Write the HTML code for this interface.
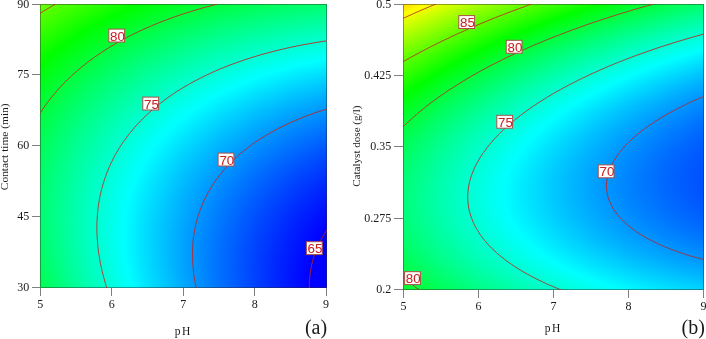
<!DOCTYPE html>
<html><head><meta charset="utf-8"><style>
html,body{margin:0;padding:0;background:#fff;}
body{width:706px;height:339px;position:relative;overflow:hidden;}
.fld{position:absolute;display:flex;flex-direction:column;}
.fld i{display:block;height:1px;width:100%;flex:none;}
.frm{position:absolute;box-sizing:border-box;border:1px solid rgba(40,40,40,0.45);}
svg{position:absolute;left:0;top:0;will-change:transform;}
</style></head><body>
<div class="fld" style="left:40px;top:4px;width:287px;height:284px">
<i style="background:linear-gradient(90deg,#6cff00 0.0px,#41ff00 35.9px,#1bff00 71.8px,#00ff00 99.4px,#00ff07 107.6px,#00ff25 143.5px,#00ff3e 179.4px,#00ff53 215.2px,#00ff63 251.1px,#00ff6f 287.0px)"></i>
<i style="background:linear-gradient(90deg,#6aff00 0.0px,#3fff00 35.9px,#18ff00 71.8px,#00ff00 96.8px,#00ff0a 107.6px,#00ff28 143.5px,#00ff41 179.4px,#00ff56 215.2px,#00ff66 251.1px,#00ff72 287.0px)"></i>
<i style="background:linear-gradient(90deg,#68ff00 0.0px,#3dff00 35.9px,#16ff00 71.8px,#00ff00 94.3px,#00ff0c 107.6px,#00ff2a 143.5px,#00ff43 179.4px,#00ff58 215.2px,#00ff69 251.1px,#00ff75 287.0px)"></i>
<i style="background:linear-gradient(90deg,#66ff00 0.0px,#3bff00 35.9px,#14ff00 71.8px,#00ff00 91.9px,#00ff0f 107.6px,#00ff2d 143.5px,#00ff46 179.4px,#00ff5b 215.2px,#00ff6c 251.1px,#00ff78 287.0px)"></i>
<i style="background:linear-gradient(90deg,#64ff00 0.0px,#39ff00 35.9px,#12ff00 71.8px,#00ff00 89.4px,#00ff11 107.6px,#00ff2f 143.5px,#00ff49 179.4px,#00ff5e 215.2px,#00ff6e 251.1px,#00ff7a 287.0px)"></i>
<i style="background:linear-gradient(90deg,#62ff00 0.0px,#36ff00 35.9px,#0fff00 71.8px,#00ff00 87.1px,#00ff13 107.6px,#00ff31 143.5px,#00ff4b 179.4px,#00ff60 215.2px,#00ff71 251.1px,#00ff7d 287.0px)"></i>
<i style="background:linear-gradient(90deg,#60ff00 0.0px,#34ff00 35.9px,#0dff00 71.8px,#00ff00 84.7px,#00ff16 107.6px,#00ff34 143.5px,#00ff4e 179.4px,#00ff63 215.2px,#00ff74 251.1px,#00ff80 287.0px)"></i>
<i style="background:linear-gradient(90deg,#5eff00 0.0px,#32ff00 35.9px,#0bff00 71.8px,#00ff00 82.5px,#00ff18 107.6px,#00ff36 143.5px,#00ff50 179.4px,#00ff66 215.2px,#00ff77 251.1px,#00ff83 287.0px)"></i>
<i style="background:linear-gradient(90deg,#5cff00 0.0px,#30ff00 35.9px,#09ff00 71.8px,#00ff00 80.2px,#00ff1a 107.6px,#00ff39 143.5px,#00ff53 179.4px,#00ff68 215.2px,#00ff79 251.1px,#00ff86 287.0px)"></i>
<i style="background:linear-gradient(90deg,#5aff00 0.0px,#2eff00 35.9px,#06ff00 71.8px,#00ff00 78.0px,#00ff1d 107.6px,#00ff3b 143.5px,#00ff55 179.4px,#00ff6b 215.2px,#00ff7c 251.1px,#00ff89 287.0px)"></i>
<i style="background:linear-gradient(90deg,#58ff00 0.0px,#2cff00 35.9px,#04ff00 71.8px,#00ff00 75.8px,#00ff1f 107.6px,#00ff3e 143.5px,#00ff58 179.4px,#00ff6e 215.2px,#00ff7f 251.1px,#00ff8c 287.0px)"></i>
<i style="background:linear-gradient(90deg,#56ff00 0.0px,#2aff00 35.9px,#02ff00 71.8px,#00ff00 73.7px,#00ff21 107.6px,#00ff40 143.5px,#00ff5a 179.4px,#00ff70 215.2px,#00ff81 251.1px,#00ff8e 287.0px)"></i>
<i style="background:linear-gradient(90deg,#54ff00 0.0px,#28ff00 35.9px,#00ff00 71.6px,#00ff00 71.8px,#00ff24 107.6px,#00ff42 143.5px,#00ff5d 179.4px,#00ff73 215.2px,#00ff84 251.1px,#00ff91 287.0px)"></i>
<i style="background:linear-gradient(90deg,#52ff00 0.0px,#26ff00 35.9px,#00ff00 69.5px,#00ff02 71.8px,#00ff26 107.6px,#00ff45 143.5px,#00ff5f 179.4px,#00ff75 215.2px,#00ff87 251.1px,#00ff94 287.0px)"></i>
<i style="background:linear-gradient(90deg,#50ff00 0.0px,#24ff00 35.9px,#00ff00 67.5px,#00ff05 71.8px,#00ff28 107.6px,#00ff47 143.5px,#00ff62 179.4px,#00ff78 215.2px,#00ff8a 251.1px,#00ff97 287.0px)"></i>
<i style="background:linear-gradient(90deg,#4eff00 0.0px,#22ff00 35.9px,#00ff00 65.5px,#00ff07 71.8px,#00ff2a 107.6px,#00ff4a 143.5px,#00ff64 179.4px,#00ff7a 215.2px,#00ff8c 251.1px,#00ff99 287.0px)"></i>
<i style="background:linear-gradient(90deg,#4cff00 0.0px,#1fff00 35.9px,#00ff00 63.6px,#00ff09 71.8px,#00ff2d 107.6px,#00ff4c 143.5px,#00ff67 179.4px,#00ff7d 215.2px,#00ff8f 251.1px,#00ff9c 287.0px)"></i>
<i style="background:linear-gradient(90deg,#4aff00 0.0px,#1dff00 35.9px,#00ff00 61.6px,#00ff0b 71.8px,#00ff2f 107.6px,#00ff4e 143.5px,#00ff69 179.4px,#00ff80 215.2px,#00ff91 251.1px,#00ff9f 287.0px)"></i>
<i style="background:linear-gradient(90deg,#48ff00 0.0px,#1bff00 35.9px,#00ff00 59.7px,#00ff0d 71.8px,#00ff31 107.6px,#00ff51 143.5px,#00ff6c 179.4px,#00ff82 215.2px,#00ff94 251.1px,#00ffa2 287.0px)"></i>
<i style="background:linear-gradient(90deg,#46ff00 0.0px,#19ff00 35.9px,#00ff00 57.9px,#00ff0f 71.8px,#00ff33 107.6px,#00ff53 143.5px,#00ff6e 179.4px,#00ff85 215.2px,#00ff97 251.1px,#00ffa4 287.0px)"></i>
<i style="background:linear-gradient(90deg,#45ff00 0.0px,#17ff00 35.9px,#00ff00 56.0px,#00ff11 71.8px,#00ff35 107.6px,#00ff55 143.5px,#00ff70 179.4px,#00ff87 215.2px,#00ff99 251.1px,#00ffa7 287.0px)"></i>
<i style="background:linear-gradient(90deg,#43ff00 0.0px,#15ff00 35.9px,#00ff00 54.2px,#00ff13 71.8px,#00ff38 107.6px,#00ff57 143.5px,#00ff73 179.4px,#00ff8a 215.2px,#00ff9c 251.1px,#00ffaa 287.0px)"></i>
<i style="background:linear-gradient(90deg,#41ff00 0.0px,#13ff00 35.9px,#00ff00 52.4px,#00ff15 71.8px,#00ff3a 107.6px,#00ff5a 143.5px,#00ff75 179.4px,#00ff8c 215.2px,#00ff9f 251.1px,#00ffad 287.0px)"></i>
<i style="background:linear-gradient(90deg,#3fff00 0.0px,#11ff00 35.9px,#00ff00 50.7px,#00ff18 71.8px,#00ff3c 107.6px,#00ff5c 143.5px,#00ff78 179.4px,#00ff8f 215.2px,#00ffa1 251.1px,#00ffaf 287.0px)"></i>
<i style="background:linear-gradient(90deg,#3dff00 0.0px,#0fff00 35.9px,#00ff00 48.9px,#00ff1a 71.8px,#00ff3e 107.6px,#00ff5e 143.5px,#00ff7a 179.4px,#00ff91 215.2px,#00ffa4 251.1px,#00ffb2 287.0px)"></i>
<i style="background:linear-gradient(90deg,#3bff00 0.0px,#0eff00 35.9px,#00ff00 47.2px,#00ff1c 71.8px,#00ff40 107.6px,#00ff61 143.5px,#00ff7c 179.4px,#00ff94 215.2px,#00ffa6 251.1px,#00ffb5 287.0px)"></i>
<i style="background:linear-gradient(90deg,#39ff00 0.0px,#0cff00 35.9px,#00ff00 45.6px,#00ff1e 71.8px,#00ff42 107.6px,#00ff63 143.5px,#00ff7f 179.4px,#00ff96 215.2px,#00ffa9 251.1px,#00ffb7 287.0px)"></i>
<i style="background:linear-gradient(90deg,#38ff00 0.0px,#0aff00 35.9px,#00ff00 43.9px,#00ff20 71.8px,#00ff45 107.6px,#00ff65 143.5px,#00ff81 179.4px,#00ff98 215.2px,#00ffab 251.1px,#00ffba 287.0px)"></i>
<i style="background:linear-gradient(90deg,#36ff00 0.0px,#08ff00 35.9px,#00ff00 42.3px,#00ff22 71.8px,#00ff47 107.6px,#00ff67 143.5px,#00ff83 179.4px,#00ff9b 215.2px,#00ffae 251.1px,#00ffbc 287.0px)"></i>
<i style="background:linear-gradient(90deg,#34ff00 0.0px,#06ff00 35.9px,#00ff00 40.7px,#00ff24 71.8px,#00ff49 107.6px,#00ff69 143.5px,#00ff86 179.4px,#00ff9d 215.2px,#00ffb0 251.1px,#00ffbf 287.0px)"></i>
<i style="background:linear-gradient(90deg,#32ff00 0.0px,#04ff00 35.9px,#00ff00 39.1px,#00ff26 71.8px,#00ff4b 107.6px,#00ff6c 143.5px,#00ff88 179.4px,#00ffa0 215.2px,#00ffb3 251.1px,#00ffc2 287.0px)"></i>
<i style="background:linear-gradient(90deg,#30ff00 0.0px,#02ff00 35.9px,#00ff00 37.5px,#00ff28 71.8px,#00ff4d 107.6px,#00ff6e 143.5px,#00ff8a 179.4px,#00ffa2 215.2px,#00ffb5 251.1px,#00ffc4 287.0px)"></i>
<i style="background:linear-gradient(90deg,#2fff00 0.0px,#00ff00 35.9px,#00ff00 36.0px,#00ff2a 71.8px,#00ff4f 107.6px,#00ff70 143.5px,#00ff8d 179.4px,#00ffa4 215.2px,#00ffb8 251.1px,#00ffc7 287.0px)"></i>
<i style="background:linear-gradient(90deg,#2dff00 0.0px,#00ff00 34.5px,#00ff02 35.9px,#00ff2c 71.8px,#00ff51 107.6px,#00ff72 143.5px,#00ff8f 179.4px,#00ffa7 215.2px,#00ffba 251.1px,#00ffc9 287.0px)"></i>
<i style="background:linear-gradient(90deg,#2bff00 0.0px,#00ff00 33.0px,#00ff04 35.9px,#00ff2e 71.8px,#00ff53 107.6px,#00ff74 143.5px,#00ff91 179.4px,#00ffa9 215.2px,#00ffbd 251.1px,#00ffcc 287.0px)"></i>
<i style="background:linear-gradient(90deg,#29ff00 0.0px,#00ff00 31.5px,#00ff05 35.9px,#00ff30 71.8px,#00ff55 107.6px,#00ff77 143.5px,#00ff93 179.4px,#00ffac 215.2px,#00ffbf 251.1px,#00ffcf 287.0px)"></i>
<i style="background:linear-gradient(90deg,#28ff00 0.0px,#00ff00 30.1px,#00ff07 35.9px,#00ff32 71.8px,#00ff57 107.6px,#00ff79 143.5px,#00ff96 179.4px,#00ffae 215.2px,#00ffc2 251.1px,#00ffd1 287.0px)"></i>
<i style="background:linear-gradient(90deg,#26ff00 0.0px,#00ff00 28.6px,#00ff09 35.9px,#00ff34 71.8px,#00ff59 107.6px,#00ff7b 143.5px,#00ff98 179.4px,#00ffb0 215.2px,#00ffc4 251.1px,#00ffd4 287.0px)"></i>
<i style="background:linear-gradient(90deg,#24ff00 0.0px,#00ff00 27.2px,#00ff0b 35.9px,#00ff35 71.8px,#00ff5b 107.6px,#00ff7d 143.5px,#00ff9a 179.4px,#00ffb3 215.2px,#00ffc7 251.1px,#00ffd6 287.0px)"></i>
<i style="background:linear-gradient(90deg,#22ff00 0.0px,#00ff00 25.8px,#00ff0d 35.9px,#00ff37 71.8px,#00ff5d 107.6px,#00ff7f 143.5px,#00ff9c 179.4px,#00ffb5 215.2px,#00ffc9 251.1px,#00ffd9 287.0px)"></i>
<i style="background:linear-gradient(90deg,#21ff00 0.0px,#00ff00 24.4px,#00ff0f 35.9px,#00ff39 71.8px,#00ff5f 107.6px,#00ff81 143.5px,#00ff9e 179.4px,#00ffb7 215.2px,#00ffcb 251.1px,#00ffdb 287.0px)"></i>
<i style="background:linear-gradient(90deg,#1fff00 0.0px,#00ff00 23.1px,#00ff10 35.9px,#00ff3b 71.8px,#00ff61 107.6px,#00ff83 143.5px,#00ffa1 179.4px,#00ffba 215.2px,#00ffce 251.1px,#00ffde 287.0px)"></i>
<i style="background:linear-gradient(90deg,#1dff00 0.0px,#00ff00 21.8px,#00ff12 35.9px,#00ff3d 71.8px,#00ff63 107.6px,#00ff85 143.5px,#00ffa3 179.4px,#00ffbc 215.2px,#00ffd0 251.1px,#00ffe0 287.0px)"></i>
<i style="background:linear-gradient(90deg,#1cff00 0.0px,#00ff00 20.4px,#00ff14 35.9px,#00ff3f 71.8px,#00ff65 107.6px,#00ff87 143.5px,#00ffa5 179.4px,#00ffbe 215.2px,#00ffd3 251.1px,#00ffe3 287.0px)"></i>
<i style="background:linear-gradient(90deg,#1aff00 0.0px,#00ff00 19.1px,#00ff16 35.9px,#00ff41 71.8px,#00ff67 107.6px,#00ff8a 143.5px,#00ffa7 179.4px,#00ffc0 215.2px,#00ffd5 251.1px,#00ffe5 287.0px)"></i>
<i style="background:linear-gradient(90deg,#18ff00 0.0px,#00ff00 17.9px,#00ff17 35.9px,#00ff43 71.8px,#00ff69 107.6px,#00ff8c 143.5px,#00ffa9 179.4px,#00ffc3 215.2px,#00ffd7 251.1px,#00ffe8 287.0px)"></i>
<i style="background:linear-gradient(90deg,#17ff00 0.0px,#00ff00 16.6px,#00ff19 35.9px,#00ff44 71.8px,#00ff6b 107.6px,#00ff8e 143.5px,#00ffab 179.4px,#00ffc5 215.2px,#00ffda 251.1px,#00ffea 287.0px)"></i>
<i style="background:linear-gradient(90deg,#15ff00 0.0px,#00ff00 15.3px,#00ff1b 35.9px,#00ff46 71.8px,#00ff6d 107.6px,#00ff90 143.5px,#00ffae 179.4px,#00ffc7 215.2px,#00ffdc 251.1px,#00ffed 287.0px)"></i>
<i style="background:linear-gradient(90deg,#13ff00 0.0px,#00ff00 14.1px,#00ff1d 35.9px,#00ff48 71.8px,#00ff6f 107.6px,#00ff92 143.5px,#00ffb0 179.4px,#00ffc9 215.2px,#00ffde 251.1px,#00ffef 287.0px)"></i>
<i style="background:linear-gradient(90deg,#12ff00 0.0px,#00ff00 12.9px,#00ff1e 35.9px,#00ff4a 71.8px,#00ff71 107.6px,#00ff94 143.5px,#00ffb2 179.4px,#00ffcc 215.2px,#00ffe1 251.1px,#00fff1 287.0px)"></i>
<i style="background:linear-gradient(90deg,#10ff00 0.0px,#00ff00 11.7px,#00ff20 35.9px,#00ff4c 71.8px,#00ff73 107.6px,#00ff96 143.5px,#00ffb4 179.4px,#00ffce 215.2px,#00ffe3 251.1px,#00fff4 287.0px)"></i>
<i style="background:linear-gradient(90deg,#0fff00 0.0px,#00ff00 10.5px,#00ff22 35.9px,#00ff4e 71.8px,#00ff75 107.6px,#00ff98 143.5px,#00ffb6 179.4px,#00ffd0 215.2px,#00ffe5 251.1px,#00fff6 287.0px)"></i>
<i style="background:linear-gradient(90deg,#0dff00 0.0px,#00ff00 9.4px,#00ff23 35.9px,#00ff4f 71.8px,#00ff77 107.6px,#00ff9a 143.5px,#00ffb8 179.4px,#00ffd2 215.2px,#00ffe8 251.1px,#00fff9 287.0px)"></i>
<i style="background:linear-gradient(90deg,#0bff00 0.0px,#00ff00 8.2px,#00ff25 35.9px,#00ff51 71.8px,#00ff79 107.6px,#00ff9c 143.5px,#00ffba 179.4px,#00ffd4 215.2px,#00ffea 251.1px,#00fffb 287.0px)"></i>
<i style="background:linear-gradient(90deg,#0aff00 0.0px,#00ff00 7.1px,#00ff27 35.9px,#00ff53 71.8px,#00ff7a 107.6px,#00ff9e 143.5px,#00ffbc 179.4px,#00ffd6 215.2px,#00ffec 251.1px,#00fffd 287.0px)"></i>
<i style="background:linear-gradient(90deg,#08ff00 0.0px,#00ff00 5.9px,#00ff28 35.9px,#00ff55 71.8px,#00ff7c 107.6px,#00ffa0 143.5px,#00ffbe 179.4px,#00ffd9 215.2px,#00ffee 251.1px,#00ffff 285.2px,#00feff 287.0px)"></i>
<i style="background:linear-gradient(90deg,#07ff00 0.0px,#00ff00 4.8px,#00ff2a 35.9px,#00ff56 71.8px,#00ff7e 107.6px,#00ffa2 143.5px,#00ffc0 179.4px,#00ffdb 215.2px,#00fff1 251.1px,#00ffff 279.9px,#00fcff 287.0px)"></i>
<i style="background:linear-gradient(90deg,#05ff00 0.0px,#00ff00 3.7px,#00ff2c 35.9px,#00ff58 71.8px,#00ff80 107.6px,#00ffa3 143.5px,#00ffc2 179.4px,#00ffdd 215.2px,#00fff3 251.1px,#00ffff 274.8px,#00faff 287.0px)"></i>
<i style="background:linear-gradient(90deg,#04ff00 0.0px,#00ff00 2.7px,#00ff2d 35.9px,#00ff5a 71.8px,#00ff82 107.6px,#00ffa5 143.5px,#00ffc4 179.4px,#00ffdf 215.2px,#00fff5 251.1px,#00ffff 270.1px,#00f7ff 287.0px)"></i>
<i style="background:linear-gradient(90deg,#02ff00 0.0px,#00ff00 1.6px,#00ff2f 35.9px,#00ff5b 71.8px,#00ff84 107.6px,#00ffa7 143.5px,#00ffc6 179.4px,#00ffe1 215.2px,#00fff7 251.1px,#00ffff 265.5px,#00f5ff 287.0px)"></i>
<i style="background:linear-gradient(90deg,#01ff00 0.0px,#00ff00 0.6px,#00ff30 35.9px,#00ff5d 71.8px,#00ff85 107.6px,#00ffa9 143.5px,#00ffc8 179.4px,#00ffe3 215.2px,#00fffa 251.1px,#00ffff 261.2px,#00f3ff 287.0px)"></i>
<i style="background:linear-gradient(90deg,#00ff01 0.0px,#00ff32 35.9px,#00ff5f 71.8px,#00ff87 107.6px,#00ffab 143.5px,#00ffca 179.4px,#00ffe5 215.2px,#00fffc 251.1px,#00ffff 257.0px,#00f0ff 287.0px)"></i>
<i style="background:linear-gradient(90deg,#00ff02 0.0px,#00ff34 35.9px,#00ff61 71.8px,#00ff89 107.6px,#00ffad 143.5px,#00ffcc 179.4px,#00ffe7 215.2px,#00fffe 251.1px,#00ffff 253.0px,#00eeff 287.0px)"></i>
<i style="background:linear-gradient(90deg,#00ff04 0.0px,#00ff35 35.9px,#00ff62 71.8px,#00ff8b 107.6px,#00ffaf 143.5px,#00ffce 179.4px,#00ffea 215.2px,#00ffff 249.2px,#00feff 251.1px,#00ecff 287.0px)"></i>
<i style="background:linear-gradient(90deg,#00ff05 0.0px,#00ff37 35.9px,#00ff64 71.8px,#00ff8d 107.6px,#00ffb1 143.5px,#00ffd0 179.4px,#00ffec 215.2px,#00ffff 245.5px,#00fcff 251.1px,#00e9ff 287.0px)"></i>
<i style="background:linear-gradient(90deg,#00ff07 0.0px,#00ff38 35.9px,#00ff66 71.8px,#00ff8e 107.6px,#00ffb3 143.5px,#00ffd2 179.4px,#00ffee 215.2px,#00ffff 241.9px,#00faff 251.1px,#00e7ff 287.0px)"></i>
<i style="background:linear-gradient(90deg,#00ff08 0.0px,#00ff3a 35.9px,#00ff67 71.8px,#00ff90 107.6px,#00ffb4 143.5px,#00ffd4 179.4px,#00fff0 215.2px,#00ffff 238.4px,#00f7ff 251.1px,#00e5ff 287.0px)"></i>
<i style="background:linear-gradient(90deg,#00ff09 0.0px,#00ff3b 35.9px,#00ff69 71.8px,#00ff92 107.6px,#00ffb6 143.5px,#00ffd6 179.4px,#00fff2 215.2px,#00ffff 235.1px,#00f5ff 251.1px,#00e3ff 287.0px)"></i>
<i style="background:linear-gradient(90deg,#00ff0b 0.0px,#00ff3d 35.9px,#00ff6a 71.8px,#00ff93 107.6px,#00ffb8 143.5px,#00ffd8 179.4px,#00fff4 215.2px,#00ffff 231.9px,#00f3ff 251.1px,#00e1ff 287.0px)"></i>
<i style="background:linear-gradient(90deg,#00ff0c 0.0px,#00ff3e 35.9px,#00ff6c 71.8px,#00ff95 107.6px,#00ffba 143.5px,#00ffda 179.4px,#00fff6 215.2px,#00ffff 228.7px,#00f1ff 251.1px,#00deff 287.0px)"></i>
<i style="background:linear-gradient(90deg,#00ff0e 0.0px,#00ff40 35.9px,#00ff6e 71.8px,#00ff97 107.6px,#00ffbc 143.5px,#00ffdc 179.4px,#00fff8 215.2px,#00ffff 225.7px,#00efff 251.1px,#00dcff 287.0px)"></i>
<i style="background:linear-gradient(90deg,#00ff0f 0.0px,#00ff41 35.9px,#00ff6f 71.8px,#00ff99 107.6px,#00ffbd 143.5px,#00ffde 179.4px,#00fffa 215.2px,#00ffff 222.7px,#00edff 251.1px,#00daff 287.0px)"></i>
<i style="background:linear-gradient(90deg,#00ff10 0.0px,#00ff43 35.9px,#00ff71 71.8px,#00ff9a 107.6px,#00ffbf 143.5px,#00ffe0 179.4px,#00fffc 215.2px,#00ffff 219.8px,#00ebff 251.1px,#00d8ff 287.0px)"></i>
<i style="background:linear-gradient(90deg,#00ff12 0.0px,#00ff44 35.9px,#00ff72 71.8px,#00ff9c 107.6px,#00ffc1 143.5px,#00ffe2 179.4px,#00fffe 215.2px,#00ffff 217.0px,#00e9ff 251.1px,#00d6ff 287.0px)"></i>
<i style="background:linear-gradient(90deg,#00ff13 0.0px,#00ff46 35.9px,#00ff74 71.8px,#00ff9e 107.6px,#00ffc3 143.5px,#00ffe3 179.4px,#00ffff 214.3px,#00feff 215.2px,#00e7ff 251.1px,#00d3ff 287.0px)"></i>
<i style="background:linear-gradient(90deg,#00ff14 0.0px,#00ff47 35.9px,#00ff75 71.8px,#00ff9f 107.6px,#00ffc5 143.5px,#00ffe5 179.4px,#00ffff 211.7px,#00fcff 215.2px,#00e5ff 251.1px,#00d1ff 287.0px)"></i>
<i style="background:linear-gradient(90deg,#00ff16 0.0px,#00ff49 35.9px,#00ff77 71.8px,#00ffa1 107.6px,#00ffc6 143.5px,#00ffe7 179.4px,#00ffff 209.1px,#00faff 215.2px,#00e2ff 251.1px,#00cfff 287.0px)"></i>
<i style="background:linear-gradient(90deg,#00ff17 0.0px,#00ff4a 35.9px,#00ff79 71.8px,#00ffa2 107.6px,#00ffc8 143.5px,#00ffe9 179.4px,#00ffff 206.6px,#00f8ff 215.2px,#00e0ff 251.1px,#00cdff 287.0px)"></i>
<i style="background:linear-gradient(90deg,#00ff18 0.0px,#00ff4b 35.9px,#00ff7a 71.8px,#00ffa4 107.6px,#00ffca 143.5px,#00ffeb 179.4px,#00ffff 204.1px,#00f7ff 215.2px,#00deff 251.1px,#00cbff 287.0px)"></i>
<i style="background:linear-gradient(90deg,#00ff1a 0.0px,#00ff4d 35.9px,#00ff7c 71.8px,#00ffa6 107.6px,#00ffcb 143.5px,#00ffed 179.4px,#00ffff 201.7px,#00f5ff 215.2px,#00dcff 251.1px,#00c9ff 287.0px)"></i>
<i style="background:linear-gradient(90deg,#00ff1b 0.0px,#00ff4e 35.9px,#00ff7d 71.8px,#00ffa7 107.6px,#00ffcd 143.5px,#00ffee 179.4px,#00ffff 199.3px,#00f3ff 215.2px,#00daff 251.1px,#00c7ff 287.0px)"></i>
<i style="background:linear-gradient(90deg,#00ff1c 0.0px,#00ff50 35.9px,#00ff7f 71.8px,#00ffa9 107.6px,#00ffcf 143.5px,#00fff0 179.4px,#00ffff 197.0px,#00f1ff 215.2px,#00d8ff 251.1px,#00c4ff 287.0px)"></i>
<i style="background:linear-gradient(90deg,#00ff1e 0.0px,#00ff51 35.9px,#00ff80 71.8px,#00ffaa 107.6px,#00ffd0 143.5px,#00fff2 179.4px,#00ffff 194.8px,#00efff 215.2px,#00d6ff 251.1px,#00c2ff 287.0px)"></i>
<i style="background:linear-gradient(90deg,#00ff1f 0.0px,#00ff52 35.9px,#00ff81 71.8px,#00ffac 107.6px,#00ffd2 143.5px,#00fff4 179.4px,#00ffff 192.6px,#00edff 215.2px,#00d4ff 251.1px,#00c0ff 287.0px)"></i>
<i style="background:linear-gradient(90deg,#00ff20 0.0px,#00ff54 35.9px,#00ff83 71.8px,#00ffae 107.6px,#00ffd4 143.5px,#00fff6 179.4px,#00ffff 190.4px,#00ebff 215.2px,#00d2ff 251.1px,#00beff 287.0px)"></i>
<i style="background:linear-gradient(90deg,#00ff21 0.0px,#00ff55 35.9px,#00ff84 71.8px,#00ffaf 107.6px,#00ffd5 143.5px,#00fff7 179.4px,#00ffff 188.3px,#00e9ff 215.2px,#00d1ff 251.1px,#00bcff 287.0px)"></i>
<i style="background:linear-gradient(90deg,#00ff23 0.0px,#00ff56 35.9px,#00ff86 71.8px,#00ffb1 107.6px,#00ffd7 143.5px,#00fff9 179.4px,#00ffff 186.2px,#00e8ff 215.2px,#00cfff 251.1px,#00baff 287.0px)"></i>
<i style="background:linear-gradient(90deg,#00ff24 0.0px,#00ff58 35.9px,#00ff87 71.8px,#00ffb2 107.6px,#00ffd9 143.5px,#00fffb 179.4px,#00ffff 184.2px,#00e6ff 215.2px,#00cdff 251.1px,#00b8ff 287.0px)"></i>
<i style="background:linear-gradient(90deg,#00ff25 0.0px,#00ff59 35.9px,#00ff89 71.8px,#00ffb4 107.6px,#00ffda 143.5px,#00fffc 179.4px,#00ffff 182.2px,#00e4ff 215.2px,#00cbff 251.1px,#00b6ff 287.0px)"></i>
<i style="background:linear-gradient(90deg,#00ff26 0.0px,#00ff5a 35.9px,#00ff8a 71.8px,#00ffb5 107.6px,#00ffdc 143.5px,#00fffe 179.4px,#00ffff 180.3px,#00e2ff 215.2px,#00c9ff 251.1px,#00b4ff 287.0px)"></i>
<i style="background:linear-gradient(90deg,#00ff27 0.0px,#00ff5c 35.9px,#00ff8b 71.8px,#00ffb7 107.6px,#00ffde 143.5px,#00ffff 178.4px,#00feff 179.4px,#00e0ff 215.2px,#00c7ff 251.1px,#00b2ff 287.0px)"></i>
<i style="background:linear-gradient(90deg,#00ff29 0.0px,#00ff5d 35.9px,#00ff8d 71.8px,#00ffb8 107.6px,#00ffdf 143.5px,#00ffff 176.5px,#00fcff 179.4px,#00deff 215.2px,#00c5ff 251.1px,#00b0ff 287.0px)"></i>
<i style="background:linear-gradient(90deg,#00ff2a 0.0px,#00ff5e 35.9px,#00ff8e 71.8px,#00ffba 107.6px,#00ffe1 143.5px,#00ffff 174.7px,#00fbff 179.4px,#00ddff 215.2px,#00c3ff 251.1px,#00aeff 287.0px)"></i>
<i style="background:linear-gradient(90deg,#00ff2b 0.0px,#00ff5f 35.9px,#00ff90 71.8px,#00ffbb 107.6px,#00ffe2 143.5px,#00ffff 172.9px,#00f9ff 179.4px,#00dbff 215.2px,#00c1ff 251.1px,#00acff 287.0px)"></i>
<i style="background:linear-gradient(90deg,#00ff2c 0.0px,#00ff61 35.9px,#00ff91 71.8px,#00ffbd 107.6px,#00ffe4 143.5px,#00ffff 171.1px,#00f7ff 179.4px,#00d9ff 215.2px,#00bfff 251.1px,#00aaff 287.0px)"></i>
<i style="background:linear-gradient(90deg,#00ff2d 0.0px,#00ff62 35.9px,#00ff92 71.8px,#00ffbe 107.6px,#00ffe5 143.5px,#00ffff 169.4px,#00f6ff 179.4px,#00d7ff 215.2px,#00beff 251.1px,#00a8ff 287.0px)"></i>
<i style="background:linear-gradient(90deg,#00ff2e 0.0px,#00ff63 35.9px,#00ff94 71.8px,#00ffc0 107.6px,#00ffe7 143.5px,#00ffff 167.7px,#00f4ff 179.4px,#00d6ff 215.2px,#00bcff 251.1px,#00a6ff 287.0px)"></i>
<i style="background:linear-gradient(90deg,#00ff2f 0.0px,#00ff64 35.9px,#00ff95 71.8px,#00ffc1 107.6px,#00ffe8 143.5px,#00ffff 166.0px,#00f3ff 179.4px,#00d4ff 215.2px,#00baff 251.1px,#00a4ff 287.0px)"></i>
<i style="background:linear-gradient(90deg,#00ff31 0.0px,#00ff66 35.9px,#00ff96 71.8px,#00ffc2 107.6px,#00ffea 143.5px,#00ffff 164.4px,#00f1ff 179.4px,#00d2ff 215.2px,#00b8ff 251.1px,#00a2ff 287.0px)"></i>
<i style="background:linear-gradient(90deg,#00ff32 0.0px,#00ff67 35.9px,#00ff98 71.8px,#00ffc4 107.6px,#00ffeb 143.5px,#00ffff 162.8px,#00efff 179.4px,#00d1ff 215.2px,#00b6ff 251.1px,#00a0ff 287.0px)"></i>
<i style="background:linear-gradient(90deg,#00ff33 0.0px,#00ff68 35.9px,#00ff99 71.8px,#00ffc5 107.6px,#00ffed 143.5px,#00ffff 161.2px,#00eeff 179.4px,#00cfff 215.2px,#00b4ff 251.1px,#009fff 287.0px)"></i>
<i style="background:linear-gradient(90deg,#00ff34 0.0px,#00ff69 35.9px,#00ff9a 71.8px,#00ffc7 107.6px,#00ffee 143.5px,#00ffff 159.7px,#00ecff 179.4px,#00cdff 215.2px,#00b3ff 251.1px,#009dff 287.0px)"></i>
<i style="background:linear-gradient(90deg,#00ff35 0.0px,#00ff6a 35.9px,#00ff9b 71.8px,#00ffc8 107.6px,#00fff0 143.5px,#00ffff 158.1px,#00ebff 179.4px,#00cbff 215.2px,#00b1ff 251.1px,#009bff 287.0px)"></i>
<i style="background:linear-gradient(90deg,#00ff36 0.0px,#00ff6c 35.9px,#00ff9d 71.8px,#00ffc9 107.6px,#00fff1 143.5px,#00ffff 156.6px,#00e9ff 179.4px,#00caff 215.2px,#00afff 251.1px,#0099ff 287.0px)"></i>
<i style="background:linear-gradient(90deg,#00ff37 0.0px,#00ff6d 35.9px,#00ff9e 71.8px,#00ffcb 107.6px,#00fff3 143.5px,#00ffff 155.2px,#00e7ff 179.4px,#00c8ff 215.2px,#00adff 251.1px,#0097ff 287.0px)"></i>
<i style="background:linear-gradient(90deg,#00ff38 0.0px,#00ff6e 35.9px,#00ff9f 71.8px,#00ffcc 107.6px,#00fff4 143.5px,#00ffff 153.7px,#00e6ff 179.4px,#00c6ff 215.2px,#00acff 251.1px,#0095ff 287.0px)"></i>
<i style="background:linear-gradient(90deg,#00ff39 0.0px,#00ff6f 35.9px,#00ffa0 71.8px,#00ffcd 107.6px,#00fff6 143.5px,#00ffff 152.3px,#00e4ff 179.4px,#00c5ff 215.2px,#00aaff 251.1px,#0093ff 287.0px)"></i>
<i style="background:linear-gradient(90deg,#00ff3a 0.0px,#00ff70 35.9px,#00ffa2 71.8px,#00ffcf 107.6px,#00fff7 143.5px,#00ffff 150.9px,#00e3ff 179.4px,#00c3ff 215.2px,#00a8ff 251.1px,#0092ff 287.0px)"></i>
<i style="background:linear-gradient(90deg,#00ff3b 0.0px,#00ff71 35.9px,#00ffa3 71.8px,#00ffd0 107.6px,#00fff9 143.5px,#00ffff 149.5px,#00e1ff 179.4px,#00c2ff 215.2px,#00a6ff 251.1px,#0090ff 287.0px)"></i>
<i style="background:linear-gradient(90deg,#00ff3c 0.0px,#00ff72 35.9px,#00ffa4 71.8px,#00ffd1 107.6px,#00fffa 143.5px,#00ffff 148.2px,#00e0ff 179.4px,#00c0ff 215.2px,#00a5ff 251.1px,#008eff 287.0px)"></i>
<i style="background:linear-gradient(90deg,#00ff3d 0.0px,#00ff73 35.9px,#00ffa5 71.8px,#00ffd3 107.6px,#00fffb 143.5px,#00ffff 146.9px,#00deff 179.4px,#00beff 215.2px,#00a3ff 251.1px,#008cff 287.0px)"></i>
<i style="background:linear-gradient(90deg,#00ff3e 0.0px,#00ff74 35.9px,#00ffa6 71.8px,#00ffd4 107.6px,#00fffd 143.5px,#00ffff 145.6px,#00ddff 179.4px,#00bdff 215.2px,#00a1ff 251.1px,#008aff 287.0px)"></i>
<i style="background:linear-gradient(90deg,#00ff3f 0.0px,#00ff76 35.9px,#00ffa8 71.8px,#00ffd5 107.6px,#00fffe 143.5px,#00ffff 144.3px,#00dbff 179.4px,#00bbff 215.2px,#00a0ff 251.1px,#0088ff 287.0px)"></i>
<i style="background:linear-gradient(90deg,#00ff40 0.0px,#00ff77 35.9px,#00ffa9 71.8px,#00ffd6 107.6px,#00ffff 143.0px,#00feff 143.5px,#00daff 179.4px,#00baff 215.2px,#009eff 251.1px,#0087ff 287.0px)"></i>
<i style="background:linear-gradient(90deg,#00ff41 0.0px,#00ff78 35.9px,#00ffaa 71.8px,#00ffd8 107.6px,#00ffff 141.8px,#00fdff 143.5px,#00d8ff 179.4px,#00b8ff 215.2px,#009cff 251.1px,#0085ff 287.0px)"></i>
<i style="background:linear-gradient(90deg,#00ff42 0.0px,#00ff79 35.9px,#00ffab 71.8px,#00ffd9 107.6px,#00ffff 140.5px,#00fcff 143.5px,#00d7ff 179.4px,#00b7ff 215.2px,#009bff 251.1px,#0083ff 287.0px)"></i>
<i style="background:linear-gradient(90deg,#00ff43 0.0px,#00ff7a 35.9px,#00ffac 71.8px,#00ffda 107.6px,#00ffff 139.3px,#00faff 143.5px,#00d5ff 179.4px,#00b5ff 215.2px,#0099ff 251.1px,#0081ff 287.0px)"></i>
<i style="background:linear-gradient(90deg,#00ff44 0.0px,#00ff7b 35.9px,#00ffad 71.8px,#00ffdb 107.6px,#00ffff 138.2px,#00f9ff 143.5px,#00d4ff 179.4px,#00b3ff 215.2px,#0097ff 251.1px,#0080ff 287.0px)"></i>
<i style="background:linear-gradient(90deg,#00ff45 0.0px,#00ff7c 35.9px,#00ffae 71.8px,#00ffdd 107.6px,#00ffff 137.0px,#00f8ff 143.5px,#00d3ff 179.4px,#00b2ff 215.2px,#0096ff 251.1px,#007eff 287.0px)"></i>
<i style="background:linear-gradient(90deg,#00ff46 0.0px,#00ff7d 35.9px,#00ffb0 71.8px,#00ffde 107.6px,#00ffff 135.9px,#00f6ff 143.5px,#00d1ff 179.4px,#00b0ff 215.2px,#0094ff 251.1px,#007cff 287.0px)"></i>
<i style="background:linear-gradient(90deg,#00ff46 0.0px,#00ff7e 35.9px,#00ffb1 71.8px,#00ffdf 107.6px,#00ffff 134.7px,#00f5ff 143.5px,#00d0ff 179.4px,#00afff 215.2px,#0093ff 251.1px,#007bff 287.0px)"></i>
<i style="background:linear-gradient(90deg,#00ff47 0.0px,#00ff7f 35.9px,#00ffb2 71.8px,#00ffe0 107.6px,#00ffff 133.6px,#00f4ff 143.5px,#00ceff 179.4px,#00adff 215.2px,#0091ff 251.1px,#0079ff 287.0px)"></i>
<i style="background:linear-gradient(90deg,#00ff48 0.0px,#00ff80 35.9px,#00ffb3 71.8px,#00ffe1 107.6px,#00ffff 132.5px,#00f3ff 143.5px,#00cdff 179.4px,#00acff 215.2px,#008fff 251.1px,#0077ff 287.0px)"></i>
<i style="background:linear-gradient(90deg,#00ff49 0.0px,#00ff81 35.9px,#00ffb4 71.8px,#00ffe2 107.6px,#00ffff 131.5px,#00f1ff 143.5px,#00ccff 179.4px,#00aaff 215.2px,#008eff 251.1px,#0076ff 287.0px)"></i>
<i style="background:linear-gradient(90deg,#00ff4a 0.0px,#00ff82 35.9px,#00ffb5 71.8px,#00ffe4 107.6px,#00ffff 130.4px,#00f0ff 143.5px,#00caff 179.4px,#00a9ff 215.2px,#008cff 251.1px,#0074ff 287.0px)"></i>
<i style="background:linear-gradient(90deg,#00ff4b 0.0px,#00ff83 35.9px,#00ffb6 71.8px,#00ffe5 107.6px,#00ffff 129.4px,#00efff 143.5px,#00c9ff 179.4px,#00a8ff 215.2px,#008bff 251.1px,#0072ff 287.0px)"></i>
<i style="background:linear-gradient(90deg,#00ff4c 0.0px,#00ff84 35.9px,#00ffb7 71.8px,#00ffe6 107.6px,#00ffff 128.4px,#00eeff 143.5px,#00c8ff 179.4px,#00a6ff 215.2px,#0089ff 251.1px,#0071ff 287.0px)"></i>
<i style="background:linear-gradient(90deg,#00ff4c 0.0px,#00ff84 35.9px,#00ffb8 71.8px,#00ffe7 107.6px,#00ffff 127.4px,#00ecff 143.5px,#00c6ff 179.4px,#00a5ff 215.2px,#0088ff 251.1px,#006fff 287.0px)"></i>
<i style="background:linear-gradient(90deg,#00ff4d 0.0px,#00ff85 35.9px,#00ffb9 71.8px,#00ffe8 107.6px,#00ffff 126.4px,#00ebff 143.5px,#00c5ff 179.4px,#00a3ff 215.2px,#0086ff 251.1px,#006dff 287.0px)"></i>
<i style="background:linear-gradient(90deg,#00ff4e 0.0px,#00ff86 35.9px,#00ffba 71.8px,#00ffe9 107.6px,#00ffff 125.4px,#00eaff 143.5px,#00c4ff 179.4px,#00a2ff 215.2px,#0085ff 251.1px,#006cff 287.0px)"></i>
<i style="background:linear-gradient(90deg,#00ff4f 0.0px,#00ff87 35.9px,#00ffbb 71.8px,#00ffea 107.6px,#00ffff 124.5px,#00e9ff 143.5px,#00c2ff 179.4px,#00a0ff 215.2px,#0083ff 251.1px,#006aff 287.0px)"></i>
<i style="background:linear-gradient(90deg,#00ff50 0.0px,#00ff88 35.9px,#00ffbc 71.8px,#00ffeb 107.6px,#00ffff 123.5px,#00e8ff 143.5px,#00c1ff 179.4px,#009fff 215.2px,#0082ff 251.1px,#0069ff 287.0px)"></i>
<i style="background:linear-gradient(90deg,#00ff50 0.0px,#00ff89 35.9px,#00ffbd 71.8px,#00ffec 107.6px,#00ffff 122.6px,#00e6ff 143.5px,#00c0ff 179.4px,#009eff 215.2px,#0080ff 251.1px,#0067ff 287.0px)"></i>
<i style="background:linear-gradient(90deg,#00ff51 0.0px,#00ff8a 35.9px,#00ffbe 71.8px,#00ffee 107.6px,#00ffff 121.7px,#00e5ff 143.5px,#00bfff 179.4px,#009cff 215.2px,#007fff 251.1px,#0065ff 287.0px)"></i>
<i style="background:linear-gradient(90deg,#00ff52 0.0px,#00ff8b 35.9px,#00ffbf 71.8px,#00ffef 107.6px,#00ffff 120.8px,#00e4ff 143.5px,#00bdff 179.4px,#009bff 215.2px,#007dff 251.1px,#0064ff 287.0px)"></i>
<i style="background:linear-gradient(90deg,#00ff53 0.0px,#00ff8b 35.9px,#00ffc0 71.8px,#00fff0 107.6px,#00ffff 119.9px,#00e3ff 143.5px,#00bcff 179.4px,#009aff 215.2px,#007cff 251.1px,#0062ff 287.0px)"></i>
<i style="background:linear-gradient(90deg,#00ff53 0.0px,#00ff8c 35.9px,#00ffc1 71.8px,#00fff1 107.6px,#00ffff 119.0px,#00e2ff 143.5px,#00bbff 179.4px,#0098ff 215.2px,#007aff 251.1px,#0061ff 287.0px)"></i>
<i style="background:linear-gradient(90deg,#00ff54 0.0px,#00ff8d 35.9px,#00ffc2 71.8px,#00fff2 107.6px,#00ffff 118.2px,#00e1ff 143.5px,#00baff 179.4px,#0097ff 215.2px,#0079ff 251.1px,#005fff 287.0px)"></i>
<i style="background:linear-gradient(90deg,#00ff55 0.0px,#00ff8e 35.9px,#00ffc3 71.8px,#00fff3 107.6px,#00ffff 117.4px,#00e0ff 143.5px,#00b8ff 179.4px,#0096ff 215.2px,#0077ff 251.1px,#005eff 287.0px)"></i>
<i style="background:linear-gradient(90deg,#00ff55 0.0px,#00ff8f 35.9px,#00ffc3 71.8px,#00fff4 107.6px,#00ffff 116.5px,#00dfff 143.5px,#00b7ff 179.4px,#0094ff 215.2px,#0076ff 251.1px,#005cff 287.0px)"></i>
<i style="background:linear-gradient(90deg,#00ff56 0.0px,#00ff8f 35.9px,#00ffc4 71.8px,#00fff5 107.6px,#00ffff 115.7px,#00ddff 143.5px,#00b6ff 179.4px,#0093ff 215.2px,#0075ff 251.1px,#005bff 287.0px)"></i>
<i style="background:linear-gradient(90deg,#00ff57 0.0px,#00ff90 35.9px,#00ffc5 71.8px,#00fff6 107.6px,#00ffff 114.9px,#00dcff 143.5px,#00b5ff 179.4px,#0092ff 215.2px,#0073ff 251.1px,#0059ff 287.0px)"></i>
<i style="background:linear-gradient(90deg,#00ff57 0.0px,#00ff91 35.9px,#00ffc6 71.8px,#00fff7 107.6px,#00ffff 114.1px,#00dbff 143.5px,#00b4ff 179.4px,#0091ff 215.2px,#0072ff 251.1px,#0058ff 287.0px)"></i>
<i style="background:linear-gradient(90deg,#00ff58 0.0px,#00ff92 35.9px,#00ffc7 71.8px,#00fff8 107.6px,#00ffff 113.4px,#00daff 143.5px,#00b2ff 179.4px,#008fff 215.2px,#0071ff 251.1px,#0056ff 287.0px)"></i>
<i style="background:linear-gradient(90deg,#00ff59 0.0px,#00ff93 35.9px,#00ffc8 71.8px,#00fff9 107.6px,#00ffff 112.6px,#00d9ff 143.5px,#00b1ff 179.4px,#008eff 215.2px,#006fff 251.1px,#0055ff 287.0px)"></i>
<i style="background:linear-gradient(90deg,#00ff59 0.0px,#00ff93 35.9px,#00ffc9 71.8px,#00fffa 107.6px,#00ffff 111.9px,#00d8ff 143.5px,#00b0ff 179.4px,#008dff 215.2px,#006eff 251.1px,#0053ff 287.0px)"></i>
<i style="background:linear-gradient(90deg,#00ff5a 0.0px,#00ff94 35.9px,#00ffc9 71.8px,#00fffa 107.6px,#00ffff 111.1px,#00d7ff 143.5px,#00afff 179.4px,#008cff 215.2px,#006cff 251.1px,#0052ff 287.0px)"></i>
<i style="background:linear-gradient(90deg,#00ff5b 0.0px,#00ff95 35.9px,#00ffca 71.8px,#00fffb 107.6px,#00ffff 110.4px,#00d6ff 143.5px,#00aeff 179.4px,#008aff 215.2px,#006bff 251.1px,#0050ff 287.0px)"></i>
<i style="background:linear-gradient(90deg,#00ff5b 0.0px,#00ff95 35.9px,#00ffcb 71.8px,#00fffc 107.6px,#00ffff 109.7px,#00d5ff 143.5px,#00adff 179.4px,#0089ff 215.2px,#006aff 251.1px,#004fff 287.0px)"></i>
<i style="background:linear-gradient(90deg,#00ff5c 0.0px,#00ff96 35.9px,#00ffcc 71.8px,#00fffd 107.6px,#00ffff 109.0px,#00d4ff 143.5px,#00acff 179.4px,#0088ff 215.2px,#0069ff 251.1px,#004eff 287.0px)"></i>
<i style="background:linear-gradient(90deg,#00ff5c 0.0px,#00ff97 35.9px,#00ffcd 71.8px,#00fffe 107.6px,#00ffff 108.3px,#00d3ff 143.5px,#00abff 179.4px,#0087ff 215.2px,#0067ff 251.1px,#004cff 287.0px)"></i>
<i style="background:linear-gradient(90deg,#00ff5d 0.0px,#00ff97 35.9px,#00ffcd 71.8px,#00ffff 107.6px,#00ffff 107.7px,#00d2ff 143.5px,#00aaff 179.4px,#0085ff 215.2px,#0066ff 251.1px,#004bff 287.0px)"></i>
<i style="background:linear-gradient(90deg,#00ff5e 0.0px,#00ff98 35.9px,#00ffce 71.8px,#00ffff 107.0px,#00feff 107.6px,#00d1ff 143.5px,#00a8ff 179.4px,#0084ff 215.2px,#0065ff 251.1px,#0049ff 287.0px)"></i>
<i style="background:linear-gradient(90deg,#00ff5e 0.0px,#00ff99 35.9px,#00ffcf 71.8px,#00ffff 106.4px,#00fdff 107.6px,#00d0ff 143.5px,#00a7ff 179.4px,#0083ff 215.2px,#0063ff 251.1px,#0048ff 287.0px)"></i>
<i style="background:linear-gradient(90deg,#00ff5f 0.0px,#00ff99 35.9px,#00ffd0 71.8px,#00ffff 105.7px,#00fcff 107.6px,#00cfff 143.5px,#00a6ff 179.4px,#0082ff 215.2px,#0062ff 251.1px,#0047ff 287.0px)"></i>
<i style="background:linear-gradient(90deg,#00ff5f 0.0px,#00ff9a 35.9px,#00ffd0 71.8px,#00ffff 105.1px,#00fcff 107.6px,#00ceff 143.5px,#00a5ff 179.4px,#0081ff 215.2px,#0061ff 251.1px,#0045ff 287.0px)"></i>
<i style="background:linear-gradient(90deg,#00ff60 0.0px,#00ff9b 35.9px,#00ffd1 71.8px,#00ffff 104.5px,#00fbff 107.6px,#00cdff 143.5px,#00a4ff 179.4px,#0080ff 215.2px,#0060ff 251.1px,#0044ff 287.0px)"></i>
<i style="background:linear-gradient(90deg,#00ff60 0.0px,#00ff9b 35.9px,#00ffd2 71.8px,#00ffff 103.9px,#00faff 107.6px,#00ccff 143.5px,#00a3ff 179.4px,#007fff 215.2px,#005eff 251.1px,#0043ff 287.0px)"></i>
<i style="background:linear-gradient(90deg,#00ff61 0.0px,#00ff9c 35.9px,#00ffd3 71.8px,#00ffff 103.3px,#00f9ff 107.6px,#00cbff 143.5px,#00a2ff 179.4px,#007dff 215.2px,#005dff 251.1px,#0041ff 287.0px)"></i>
<i style="background:linear-gradient(90deg,#00ff61 0.0px,#00ff9d 35.9px,#00ffd3 71.8px,#00ffff 102.7px,#00f8ff 107.6px,#00cbff 143.5px,#00a1ff 179.4px,#007cff 215.2px,#005cff 251.1px,#0040ff 287.0px)"></i>
<i style="background:linear-gradient(90deg,#00ff62 0.0px,#00ff9d 35.9px,#00ffd4 71.8px,#00ffff 102.2px,#00f8ff 107.6px,#00caff 143.5px,#00a0ff 179.4px,#007bff 215.2px,#005bff 251.1px,#003fff 287.0px)"></i>
<i style="background:linear-gradient(90deg,#00ff62 0.0px,#00ff9e 35.9px,#00ffd5 71.8px,#00ffff 101.6px,#00f7ff 107.6px,#00c9ff 143.5px,#009fff 179.4px,#007aff 215.2px,#005aff 251.1px,#003eff 287.0px)"></i>
<i style="background:linear-gradient(90deg,#00ff63 0.0px,#00ff9e 35.9px,#00ffd5 71.8px,#00ffff 101.1px,#00f6ff 107.6px,#00c8ff 143.5px,#009eff 179.4px,#0079ff 215.2px,#0058ff 251.1px,#003cff 287.0px)"></i>
<i style="background:linear-gradient(90deg,#00ff63 0.0px,#00ff9f 35.9px,#00ffd6 71.8px,#00ffff 100.5px,#00f5ff 107.6px,#00c7ff 143.5px,#009dff 179.4px,#0078ff 215.2px,#0057ff 251.1px,#003bff 287.0px)"></i>
<i style="background:linear-gradient(90deg,#00ff64 0.0px,#00ff9f 35.9px,#00ffd7 71.8px,#00ffff 100.0px,#00f5ff 107.6px,#00c6ff 143.5px,#009cff 179.4px,#0077ff 215.2px,#0056ff 251.1px,#003aff 287.0px)"></i>
<i style="background:linear-gradient(90deg,#00ff64 0.0px,#00ffa0 35.9px,#00ffd7 71.8px,#00ffff 99.5px,#00f4ff 107.6px,#00c5ff 143.5px,#009bff 179.4px,#0076ff 215.2px,#0055ff 251.1px,#0038ff 287.0px)"></i>
<i style="background:linear-gradient(90deg,#00ff64 0.0px,#00ffa0 35.9px,#00ffd8 71.8px,#00ffff 99.0px,#00f3ff 107.6px,#00c5ff 143.5px,#009bff 179.4px,#0075ff 215.2px,#0054ff 251.1px,#0037ff 287.0px)"></i>
<i style="background:linear-gradient(90deg,#00ff65 0.0px,#00ffa1 35.9px,#00ffd9 71.8px,#00ffff 98.5px,#00f2ff 107.6px,#00c4ff 143.5px,#009aff 179.4px,#0074ff 215.2px,#0053ff 251.1px,#0036ff 287.0px)"></i>
<i style="background:linear-gradient(90deg,#00ff65 0.0px,#00ffa1 35.9px,#00ffd9 71.8px,#00ffff 98.0px,#00f2ff 107.6px,#00c3ff 143.5px,#0099ff 179.4px,#0073ff 215.2px,#0052ff 251.1px,#0035ff 287.0px)"></i>
<i style="background:linear-gradient(90deg,#00ff66 0.0px,#00ffa2 35.9px,#00ffda 71.8px,#00ffff 97.5px,#00f1ff 107.6px,#00c2ff 143.5px,#0098ff 179.4px,#0072ff 215.2px,#0051ff 251.1px,#0034ff 287.0px)"></i>
<i style="background:linear-gradient(90deg,#00ff66 0.0px,#00ffa2 35.9px,#00ffda 71.8px,#00ffff 97.0px,#00f0ff 107.6px,#00c1ff 143.5px,#0097ff 179.4px,#0071ff 215.2px,#004fff 251.1px,#0032ff 287.0px)"></i>
<i style="background:linear-gradient(90deg,#00ff66 0.0px,#00ffa3 35.9px,#00ffdb 71.8px,#00ffff 96.6px,#00f0ff 107.6px,#00c1ff 143.5px,#0096ff 179.4px,#0070ff 215.2px,#004eff 251.1px,#0031ff 287.0px)"></i>
<i style="background:linear-gradient(90deg,#00ff67 0.0px,#00ffa3 35.9px,#00ffdb 71.8px,#00ffff 96.1px,#00efff 107.6px,#00c0ff 143.5px,#0095ff 179.4px,#006fff 215.2px,#004dff 251.1px,#0030ff 287.0px)"></i>
<i style="background:linear-gradient(90deg,#00ff67 0.0px,#00ffa4 35.9px,#00ffdc 71.8px,#00ffff 95.7px,#00eeff 107.6px,#00bfff 143.5px,#0094ff 179.4px,#006eff 215.2px,#004cff 251.1px,#002fff 287.0px)"></i>
<i style="background:linear-gradient(90deg,#00ff67 0.0px,#00ffa4 35.9px,#00ffdd 71.8px,#00ffff 95.3px,#00eeff 107.6px,#00beff 143.5px,#0093ff 179.4px,#006dff 215.2px,#004bff 251.1px,#002eff 287.0px)"></i>
<i style="background:linear-gradient(90deg,#00ff68 0.0px,#00ffa5 35.9px,#00ffdd 71.8px,#00ffff 94.8px,#00edff 107.6px,#00beff 143.5px,#0093ff 179.4px,#006cff 215.2px,#004aff 251.1px,#002dff 287.0px)"></i>
<i style="background:linear-gradient(90deg,#00ff68 0.0px,#00ffa5 35.9px,#00ffde 71.8px,#00ffff 94.4px,#00ecff 107.6px,#00bdff 143.5px,#0092ff 179.4px,#006bff 215.2px,#0049ff 251.1px,#002bff 287.0px)"></i>
<i style="background:linear-gradient(90deg,#00ff68 0.0px,#00ffa5 35.9px,#00ffde 71.8px,#00ffff 94.0px,#00ecff 107.6px,#00bcff 143.5px,#0091ff 179.4px,#006aff 215.2px,#0048ff 251.1px,#002aff 287.0px)"></i>
<i style="background:linear-gradient(90deg,#00ff69 0.0px,#00ffa6 35.9px,#00ffdf 71.8px,#00ffff 93.6px,#00ebff 107.6px,#00bbff 143.5px,#0090ff 179.4px,#0069ff 215.2px,#0047ff 251.1px,#0029ff 287.0px)"></i>
<i style="background:linear-gradient(90deg,#00ff69 0.0px,#00ffa6 35.9px,#00ffdf 71.8px,#00ffff 93.2px,#00ebff 107.6px,#00bbff 143.5px,#008fff 179.4px,#0068ff 215.2px,#0046ff 251.1px,#0028ff 287.0px)"></i>
<i style="background:linear-gradient(90deg,#00ff69 0.0px,#00ffa7 35.9px,#00ffe0 71.8px,#00ffff 92.9px,#00eaff 107.6px,#00baff 143.5px,#008fff 179.4px,#0068ff 215.2px,#0045ff 251.1px,#0027ff 287.0px)"></i>
<i style="background:linear-gradient(90deg,#00ff6a 0.0px,#00ffa7 35.9px,#00ffe0 71.8px,#00ffff 92.5px,#00e9ff 107.6px,#00b9ff 143.5px,#008eff 179.4px,#0067ff 215.2px,#0044ff 251.1px,#0026ff 287.0px)"></i>
<i style="background:linear-gradient(90deg,#00ff6a 0.0px,#00ffa7 35.9px,#00ffe1 71.8px,#00ffff 92.1px,#00e9ff 107.6px,#00b9ff 143.5px,#008dff 179.4px,#0066ff 215.2px,#0043ff 251.1px,#0025ff 287.0px)"></i>
<i style="background:linear-gradient(90deg,#00ff6a 0.0px,#00ffa8 35.9px,#00ffe1 71.8px,#00ffff 91.8px,#00e8ff 107.6px,#00b8ff 143.5px,#008cff 179.4px,#0065ff 215.2px,#0042ff 251.1px,#0024ff 287.0px)"></i>
<i style="background:linear-gradient(90deg,#00ff6a 0.0px,#00ffa8 35.9px,#00ffe1 71.8px,#00ffff 91.4px,#00e8ff 107.6px,#00b7ff 143.5px,#008bff 179.4px,#0064ff 215.2px,#0041ff 251.1px,#0023ff 287.0px)"></i>
<i style="background:linear-gradient(90deg,#00ff6b 0.0px,#00ffa8 35.9px,#00ffe2 71.8px,#00ffff 91.1px,#00e7ff 107.6px,#00b7ff 143.5px,#008bff 179.4px,#0063ff 215.2px,#0040ff 251.1px,#0022ff 287.0px)"></i>
<i style="background:linear-gradient(90deg,#00ff6b 0.0px,#00ffa9 35.9px,#00ffe2 71.8px,#00ffff 90.8px,#00e7ff 107.6px,#00b6ff 143.5px,#008aff 179.4px,#0062ff 215.2px,#003fff 251.1px,#0021ff 287.0px)"></i>
<i style="background:linear-gradient(90deg,#00ff6b 0.0px,#00ffa9 35.9px,#00ffe3 71.8px,#00ffff 90.5px,#00e6ff 107.6px,#00b5ff 143.5px,#0089ff 179.4px,#0062ff 215.2px,#003eff 251.1px,#0020ff 287.0px)"></i>
<i style="background:linear-gradient(90deg,#00ff6b 0.0px,#00ffa9 35.9px,#00ffe3 71.8px,#00ffff 90.2px,#00e6ff 107.6px,#00b5ff 143.5px,#0089ff 179.4px,#0061ff 215.2px,#003dff 251.1px,#001fff 287.0px)"></i>
<i style="background:linear-gradient(90deg,#00ff6b 0.0px,#00ffaa 35.9px,#00ffe4 71.8px,#00ffff 89.9px,#00e5ff 107.6px,#00b4ff 143.5px,#0088ff 179.4px,#0060ff 215.2px,#003dff 251.1px,#001eff 287.0px)"></i>
<i style="background:linear-gradient(90deg,#00ff6c 0.0px,#00ffaa 35.9px,#00ffe4 71.8px,#00ffff 89.6px,#00e5ff 107.6px,#00b4ff 143.5px,#0087ff 179.4px,#005fff 215.2px,#003cff 251.1px,#001dff 287.0px)"></i>
<i style="background:linear-gradient(90deg,#00ff6c 0.0px,#00ffaa 35.9px,#00ffe4 71.8px,#00ffff 89.3px,#00e4ff 107.6px,#00b3ff 143.5px,#0087ff 179.4px,#005eff 215.2px,#003bff 251.1px,#001cff 287.0px)"></i>
<i style="background:linear-gradient(90deg,#00ff6c 0.0px,#00ffaa 35.9px,#00ffe5 71.8px,#00ffff 89.0px,#00e4ff 107.6px,#00b3ff 143.5px,#0086ff 179.4px,#005eff 215.2px,#003aff 251.1px,#001bff 287.0px)"></i>
<i style="background:linear-gradient(90deg,#00ff6c 0.0px,#00ffab 35.9px,#00ffe5 71.8px,#00ffff 88.7px,#00e3ff 107.6px,#00b2ff 143.5px,#0085ff 179.4px,#005dff 215.2px,#0039ff 251.1px,#001aff 287.0px)"></i>
<i style="background:linear-gradient(90deg,#00ff6c 0.0px,#00ffab 35.9px,#00ffe5 71.8px,#00ffff 88.5px,#00e3ff 107.6px,#00b1ff 143.5px,#0085ff 179.4px,#005cff 215.2px,#0038ff 251.1px,#0019ff 287.0px)"></i>
<i style="background:linear-gradient(90deg,#00ff6c 0.0px,#00ffab 35.9px,#00ffe6 71.8px,#00ffff 88.2px,#00e2ff 107.6px,#00b1ff 143.5px,#0084ff 179.4px,#005bff 215.2px,#0037ff 251.1px,#0018ff 287.0px)"></i>
<i style="background:linear-gradient(90deg,#00ff6c 0.0px,#00ffab 35.9px,#00ffe6 71.8px,#00ffff 88.0px,#00e2ff 107.6px,#00b0ff 143.5px,#0083ff 179.4px,#005bff 215.2px,#0037ff 251.1px,#0017ff 287.0px)"></i>
<i style="background:linear-gradient(90deg,#00ff6c 0.0px,#00ffac 35.9px,#00ffe6 71.8px,#00ffff 87.8px,#00e2ff 107.6px,#00b0ff 143.5px,#0083ff 179.4px,#005aff 215.2px,#0036ff 251.1px,#0016ff 287.0px)"></i>
<i style="background:linear-gradient(90deg,#00ff6d 0.0px,#00ffac 35.9px,#00ffe7 71.8px,#00ffff 87.5px,#00e1ff 107.6px,#00afff 143.5px,#0082ff 179.4px,#0059ff 215.2px,#0035ff 251.1px,#0015ff 287.0px)"></i>
<i style="background:linear-gradient(90deg,#00ff6d 0.0px,#00ffac 35.9px,#00ffe7 71.8px,#00ffff 87.3px,#00e1ff 107.6px,#00afff 143.5px,#0081ff 179.4px,#0059ff 215.2px,#0034ff 251.1px,#0014ff 287.0px)"></i>
<i style="background:linear-gradient(90deg,#00ff6d 0.0px,#00ffac 35.9px,#00ffe7 71.8px,#00ffff 87.1px,#00e0ff 107.6px,#00aeff 143.5px,#0081ff 179.4px,#0058ff 215.2px,#0033ff 251.1px,#0013ff 287.0px)"></i>
<i style="background:linear-gradient(90deg,#00ff6d 0.0px,#00ffac 35.9px,#00ffe7 71.8px,#00ffff 86.9px,#00e0ff 107.6px,#00aeff 143.5px,#0080ff 179.4px,#0057ff 215.2px,#0033ff 251.1px,#0012ff 287.0px)"></i>
<i style="background:linear-gradient(90deg,#00ff6d 0.0px,#00ffad 35.9px,#00ffe8 71.8px,#00ffff 86.7px,#00e0ff 107.6px,#00adff 143.5px,#0080ff 179.4px,#0057ff 215.2px,#0032ff 251.1px,#0012ff 287.0px)"></i>
<i style="background:linear-gradient(90deg,#00ff6d 0.0px,#00ffad 35.9px,#00ffe8 71.8px,#00ffff 86.5px,#00dfff 107.6px,#00adff 143.5px,#007fff 179.4px,#0056ff 215.2px,#0031ff 251.1px,#0011ff 287.0px)"></i>
<i style="background:linear-gradient(90deg,#00ff6d 0.0px,#00ffad 35.9px,#00ffe8 71.8px,#00ffff 86.3px,#00dfff 107.6px,#00adff 143.5px,#007fff 179.4px,#0055ff 215.2px,#0030ff 251.1px,#0010ff 287.0px)"></i>
<i style="background:linear-gradient(90deg,#00ff6d 0.0px,#00ffad 35.9px,#00ffe8 71.8px,#00ffff 86.1px,#00dfff 107.6px,#00acff 143.5px,#007eff 179.4px,#0055ff 215.2px,#0030ff 251.1px,#000fff 287.0px)"></i>
<i style="background:linear-gradient(90deg,#00ff6d 0.0px,#00ffad 35.9px,#00ffe9 71.8px,#00ffff 86.0px,#00deff 107.6px,#00acff 143.5px,#007eff 179.4px,#0054ff 215.2px,#002fff 251.1px,#000eff 287.0px)"></i>
<i style="background:linear-gradient(90deg,#00ff6d 0.0px,#00ffad 35.9px,#00ffe9 71.8px,#00ffff 85.8px,#00deff 107.6px,#00abff 143.5px,#007dff 179.4px,#0053ff 215.2px,#002eff 251.1px,#000dff 287.0px)"></i>
<i style="background:linear-gradient(90deg,#00ff6d 0.0px,#00ffad 35.9px,#00ffe9 71.8px,#00ffff 85.6px,#00deff 107.6px,#00abff 143.5px,#007dff 179.4px,#0053ff 215.2px,#002dff 251.1px,#000dff 287.0px)"></i>
<i style="background:linear-gradient(90deg,#00ff6d 0.0px,#00ffad 35.9px,#00ffe9 71.8px,#00ffff 85.5px,#00ddff 107.6px,#00aaff 143.5px,#007cff 179.4px,#0052ff 215.2px,#002dff 251.1px,#000cff 287.0px)"></i>
<i style="background:linear-gradient(90deg,#00ff6d 0.0px,#00ffad 35.9px,#00ffe9 71.8px,#00ffff 85.4px,#00ddff 107.6px,#00aaff 143.5px,#007cff 179.4px,#0052ff 215.2px,#002cff 251.1px,#000bff 287.0px)"></i>
<i style="background:linear-gradient(90deg,#00ff6d 0.0px,#00ffae 35.9px,#00ffea 71.8px,#00ffff 85.2px,#00ddff 107.6px,#00aaff 143.5px,#007bff 179.4px,#0051ff 215.2px,#002bff 251.1px,#000aff 287.0px)"></i>
<i style="background:linear-gradient(90deg,#00ff6d 0.0px,#00ffae 35.9px,#00ffea 71.8px,#00ffff 85.1px,#00ddff 107.6px,#00a9ff 143.5px,#007bff 179.4px,#0050ff 215.2px,#002bff 251.1px,#0009ff 287.0px)"></i>
<i style="background:linear-gradient(90deg,#00ff6d 0.0px,#00ffae 35.9px,#00ffea 71.8px,#00ffff 85.0px,#00dcff 107.6px,#00a9ff 143.5px,#007aff 179.4px,#0050ff 215.2px,#002aff 251.1px,#0009ff 287.0px)"></i>
<i style="background:linear-gradient(90deg,#00ff6d 0.0px,#00ffae 35.9px,#00ffea 71.8px,#00ffff 84.9px,#00dcff 107.6px,#00a9ff 143.5px,#007aff 179.4px,#004fff 215.2px,#0029ff 251.1px,#0008ff 287.0px)"></i>
<i style="background:linear-gradient(90deg,#00ff6d 0.0px,#00ffae 35.9px,#00ffea 71.8px,#00ffff 84.8px,#00dcff 107.6px,#00a8ff 143.5px,#0079ff 179.4px,#004fff 215.2px,#0029ff 251.1px,#0007ff 287.0px)"></i>
<i style="background:linear-gradient(90deg,#00ff6d 0.0px,#00ffae 35.9px,#00ffea 71.8px,#00ffff 84.7px,#00dcff 107.6px,#00a8ff 143.5px,#0079ff 179.4px,#004eff 215.2px,#0028ff 251.1px,#0006ff 287.0px)"></i>
<i style="background:linear-gradient(90deg,#00ff6d 0.0px,#00ffae 35.9px,#00ffea 71.8px,#00ffff 84.6px,#00dbff 107.6px,#00a8ff 143.5px,#0078ff 179.4px,#004eff 215.2px,#0027ff 251.1px,#0006ff 287.0px)"></i>
<i style="background:linear-gradient(90deg,#00ff6c 0.0px,#00ffae 35.9px,#00ffeb 71.8px,#00ffff 84.5px,#00dbff 107.6px,#00a7ff 143.5px,#0078ff 179.4px,#004dff 215.2px,#0027ff 251.1px,#0005ff 287.0px)"></i>
<i style="background:linear-gradient(90deg,#00ff6c 0.0px,#00ffae 35.9px,#00ffeb 71.8px,#00ffff 84.4px,#00dbff 107.6px,#00a7ff 143.5px,#0078ff 179.4px,#004dff 215.2px,#0026ff 251.1px,#0004ff 287.0px)"></i>
<i style="background:linear-gradient(90deg,#00ff6c 0.0px,#00ffae 35.9px,#00ffeb 71.8px,#00ffff 84.3px,#00dbff 107.6px,#00a7ff 143.5px,#0077ff 179.4px,#004cff 215.2px,#0026ff 251.1px,#0004ff 287.0px)"></i>
<i style="background:linear-gradient(90deg,#00ff6c 0.0px,#00ffae 35.9px,#00ffeb 71.8px,#00ffff 84.3px,#00dbff 107.6px,#00a7ff 143.5px,#0077ff 179.4px,#004cff 215.2px,#0025ff 251.1px,#0003ff 287.0px)"></i>
<i style="background:linear-gradient(90deg,#00ff6c 0.0px,#00ffae 35.9px,#00ffeb 71.8px,#00ffff 84.2px,#00daff 107.6px,#00a6ff 143.5px,#0077ff 179.4px,#004bff 215.2px,#0025ff 251.1px,#0002ff 287.0px)"></i>
<i style="background:linear-gradient(90deg,#00ff6c 0.0px,#00ffae 35.9px,#00ffeb 71.8px,#00ffff 84.2px,#00daff 107.6px,#00a6ff 143.5px,#0076ff 179.4px,#004bff 215.2px,#0024ff 251.1px,#0002ff 287.0px)"></i>
<i style="background:linear-gradient(90deg,#00ff6c 0.0px,#00ffad 35.9px,#00ffeb 71.8px,#00ffff 84.1px,#00daff 107.6px,#00a6ff 143.5px,#0076ff 179.4px,#004aff 215.2px,#0023ff 251.1px,#0001ff 287.0px)"></i>
<i style="background:linear-gradient(90deg,#00ff6b 0.0px,#00ffad 35.9px,#00ffeb 71.8px,#00ffff 84.1px,#00daff 107.6px,#00a6ff 143.5px,#0075ff 179.4px,#004aff 215.2px,#0023ff 251.1px,#0000ff 287.0px)"></i>
<i style="background:linear-gradient(90deg,#00ff6b 0.0px,#00ffad 35.9px,#00ffeb 71.8px,#00ffff 84.0px,#00daff 107.6px,#00a5ff 143.5px,#0075ff 179.4px,#004aff 215.2px,#0022ff 251.1px,#0000ff 286.6px,#0000ff 287.0px)"></i>
<i style="background:linear-gradient(90deg,#00ff6b 0.0px,#00ffad 35.9px,#00ffeb 71.8px,#00ffff 84.0px,#00daff 107.6px,#00a5ff 143.5px,#0075ff 179.4px,#0049ff 215.2px,#0022ff 251.1px,#0000ff 285.9px,#0000ff 287.0px)"></i>
<i style="background:linear-gradient(90deg,#00ff6b 0.0px,#00ffad 35.9px,#00ffeb 71.8px,#00ffff 84.0px,#00daff 107.6px,#00a5ff 143.5px,#0075ff 179.4px,#0049ff 215.2px,#0021ff 251.1px,#0000ff 285.3px,#0000ff 287.0px)"></i>
<i style="background:linear-gradient(90deg,#00ff6b 0.0px,#00ffad 35.9px,#00ffeb 71.8px,#00ffff 84.0px,#00daff 107.6px,#00a5ff 143.5px,#0074ff 179.4px,#0048ff 215.2px,#0021ff 251.1px,#0000ff 284.6px,#0000ff 287.0px)"></i>
<i style="background:linear-gradient(90deg,#00ff6a 0.0px,#00ffad 35.9px,#00ffeb 71.8px,#00ffff 84.0px,#00daff 107.6px,#00a5ff 143.5px,#0074ff 179.4px,#0048ff 215.2px,#0020ff 251.1px,#0000ff 284.0px,#0000ff 287.0px)"></i>
<i style="background:linear-gradient(90deg,#00ff6a 0.0px,#00ffad 35.9px,#00ffeb 71.8px,#00ffff 84.0px,#00d9ff 107.6px,#00a4ff 143.5px,#0074ff 179.4px,#0048ff 215.2px,#0020ff 251.1px,#0000ff 283.4px,#0000ff 287.0px)"></i>
<i style="background:linear-gradient(90deg,#00ff6a 0.0px,#00ffad 35.9px,#00ffeb 71.8px,#00ffff 84.0px,#00d9ff 107.6px,#00a4ff 143.5px,#0073ff 179.4px,#0047ff 215.2px,#001fff 251.1px,#0000ff 282.8px,#0000ff 287.0px)"></i>
<i style="background:linear-gradient(90deg,#00ff6a 0.0px,#00ffac 35.9px,#00ffeb 71.8px,#00ffff 84.0px,#00d9ff 107.6px,#00a4ff 143.5px,#0073ff 179.4px,#0047ff 215.2px,#001fff 251.1px,#0000ff 282.2px,#0000ff 287.0px)"></i>
<i style="background:linear-gradient(90deg,#00ff69 0.0px,#00ffac 35.9px,#00ffeb 71.8px,#00ffff 84.0px,#00d9ff 107.6px,#00a4ff 143.5px,#0073ff 179.4px,#0046ff 215.2px,#001eff 251.1px,#0000ff 281.6px,#0000ff 287.0px)"></i>
<i style="background:linear-gradient(90deg,#00ff69 0.0px,#00ffac 35.9px,#00ffeb 71.8px,#00ffff 84.0px,#00d9ff 107.6px,#00a4ff 143.5px,#0073ff 179.4px,#0046ff 215.2px,#001eff 251.1px,#0000ff 281.1px,#0000ff 287.0px)"></i>
<i style="background:linear-gradient(90deg,#00ff69 0.0px,#00ffac 35.9px,#00ffeb 71.8px,#00ffff 84.0px,#00d9ff 107.6px,#00a4ff 143.5px,#0072ff 179.4px,#0046ff 215.2px,#001eff 251.1px,#0000ff 280.6px,#0000ff 287.0px)"></i>
<i style="background:linear-gradient(90deg,#00ff69 0.0px,#00ffac 35.9px,#00ffea 71.8px,#00ffff 84.1px,#00d9ff 107.6px,#00a4ff 143.5px,#0072ff 179.4px,#0046ff 215.2px,#001dff 251.1px,#0000ff 280.0px,#0000ff 287.0px)"></i>
<i style="background:linear-gradient(90deg,#00ff68 0.0px,#00ffac 35.9px,#00ffea 71.8px,#00ffff 84.1px,#00d9ff 107.6px,#00a3ff 143.5px,#0072ff 179.4px,#0045ff 215.2px,#001dff 251.1px,#0000ff 279.5px,#0000ff 287.0px)"></i>
<i style="background:linear-gradient(90deg,#00ff68 0.0px,#00ffab 35.9px,#00ffea 71.8px,#00ffff 84.2px,#00d9ff 107.6px,#00a3ff 143.5px,#0072ff 179.4px,#0045ff 215.2px,#001cff 251.1px,#0000ff 279.0px,#0000ff 287.0px)"></i>
<i style="background:linear-gradient(90deg,#00ff68 0.0px,#00ffab 35.9px,#00ffea 71.8px,#00ffff 84.2px,#00d9ff 107.6px,#00a3ff 143.5px,#0072ff 179.4px,#0045ff 215.2px,#001cff 251.1px,#0000ff 278.6px,#0000ff 287.0px)"></i>
<i style="background:linear-gradient(90deg,#00ff67 0.0px,#00ffab 35.9px,#00ffea 71.8px,#00ffff 84.3px,#00d9ff 107.6px,#00a3ff 143.5px,#0072ff 179.4px,#0044ff 215.2px,#001cff 251.1px,#0000ff 278.1px,#0000ff 287.0px)"></i>
<i style="background:linear-gradient(90deg,#00ff67 0.0px,#00ffab 35.9px,#00ffea 71.8px,#00ffff 84.3px,#00d9ff 107.6px,#00a3ff 143.5px,#0071ff 179.4px,#0044ff 215.2px,#001bff 251.1px,#0000ff 277.6px,#0000ff 287.0px)"></i>
<i style="background:linear-gradient(90deg,#00ff67 0.0px,#00ffaa 35.9px,#00ffea 71.8px,#00ffff 84.4px,#00d9ff 107.6px,#00a3ff 143.5px,#0071ff 179.4px,#0044ff 215.2px,#001bff 251.1px,#0000ff 277.2px,#0000ff 287.0px)"></i>
<i style="background:linear-gradient(90deg,#00ff66 0.0px,#00ffaa 35.9px,#00ffea 71.8px,#00ffff 84.5px,#00daff 107.6px,#00a3ff 143.5px,#0071ff 179.4px,#0044ff 215.2px,#001bff 251.1px,#0000ff 276.8px,#0000ff 287.0px)"></i>
<i style="background:linear-gradient(90deg,#00ff66 0.0px,#00ffaa 35.9px,#00ffe9 71.8px,#00ffff 84.6px,#00daff 107.6px,#00a3ff 143.5px,#0071ff 179.4px,#0043ff 215.2px,#001aff 251.1px,#0000ff 276.4px,#0000ff 287.0px)"></i>
<i style="background:linear-gradient(90deg,#00ff65 0.0px,#00ffaa 35.9px,#00ffe9 71.8px,#00ffff 84.7px,#00daff 107.6px,#00a3ff 143.5px,#0071ff 179.4px,#0043ff 215.2px,#001aff 251.1px,#0000ff 276.0px,#0000ff 287.0px)"></i>
<i style="background:linear-gradient(90deg,#00ff65 0.0px,#00ffa9 35.9px,#00ffe9 71.8px,#00ffff 84.8px,#00daff 107.6px,#00a3ff 143.5px,#0071ff 179.4px,#0043ff 215.2px,#001aff 251.1px,#0000ff 275.6px,#0000ff 287.0px)"></i>
<i style="background:linear-gradient(90deg,#00ff65 0.0px,#00ffa9 35.9px,#00ffe9 71.8px,#00ffff 84.9px,#00daff 107.6px,#00a3ff 143.5px,#0071ff 179.4px,#0043ff 215.2px,#0019ff 251.1px,#0000ff 275.2px,#0000ff 287.0px)"></i>
<i style="background:linear-gradient(90deg,#00ff64 0.0px,#00ffa9 35.9px,#00ffe9 71.8px,#00ffff 85.0px,#00daff 107.6px,#00a3ff 143.5px,#0071ff 179.4px,#0043ff 215.2px,#0019ff 251.1px,#0000ff 274.9px,#0000ff 287.0px)"></i>
<i style="background:linear-gradient(90deg,#00ff64 0.0px,#00ffa8 35.9px,#00ffe8 71.8px,#00ffff 85.1px,#00daff 107.6px,#00a3ff 143.5px,#0070ff 179.4px,#0042ff 215.2px,#0019ff 251.1px,#0000ff 274.5px,#0000ff 287.0px)"></i>
<i style="background:linear-gradient(90deg,#00ff63 0.0px,#00ffa8 35.9px,#00ffe8 71.8px,#00ffff 85.2px,#00daff 107.6px,#00a3ff 143.5px,#0070ff 179.4px,#0042ff 215.2px,#0018ff 251.1px,#0000ff 274.2px,#0000ff 287.0px)"></i>
<i style="background:linear-gradient(90deg,#00ff63 0.0px,#00ffa8 35.9px,#00ffe8 71.8px,#00ffff 85.3px,#00daff 107.6px,#00a3ff 143.5px,#0070ff 179.4px,#0042ff 215.2px,#0018ff 251.1px,#0000ff 273.9px,#0000ff 287.0px)"></i>
<i style="background:linear-gradient(90deg,#00ff62 0.0px,#00ffa7 35.9px,#00ffe8 71.8px,#00ffff 85.4px,#00dbff 107.6px,#00a3ff 143.5px,#0070ff 179.4px,#0042ff 215.2px,#0018ff 251.1px,#0000ff 273.6px,#0000ff 287.0px)"></i>
<i style="background:linear-gradient(90deg,#00ff62 0.0px,#00ffa7 35.9px,#00ffe7 71.8px,#00ffff 85.6px,#00dbff 107.6px,#00a3ff 143.5px,#0070ff 179.4px,#0042ff 215.2px,#0018ff 251.1px,#0000ff 273.3px,#0000ff 287.0px)"></i>
<i style="background:linear-gradient(90deg,#00ff62 0.0px,#00ffa7 35.9px,#00ffe7 71.8px,#00ffff 85.7px,#00dbff 107.6px,#00a3ff 143.5px,#0070ff 179.4px,#0042ff 215.2px,#0017ff 251.1px,#0000ff 273.0px,#0000ff 287.0px)"></i>
<i style="background:linear-gradient(90deg,#00ff61 0.0px,#00ffa6 35.9px,#00ffe7 71.8px,#00ffff 85.9px,#00dbff 107.6px,#00a3ff 143.5px,#0070ff 179.4px,#0041ff 215.2px,#0017ff 251.1px,#0000ff 272.7px,#0000ff 287.0px)"></i>
<i style="background:linear-gradient(90deg,#00ff61 0.0px,#00ffa6 35.9px,#00ffe6 71.8px,#00ffff 86.0px,#00dbff 107.6px,#00a3ff 143.5px,#0070ff 179.4px,#0041ff 215.2px,#0017ff 251.1px,#0000ff 272.4px,#0000ff 287.0px)"></i>
<i style="background:linear-gradient(90deg,#00ff60 0.0px,#00ffa5 35.9px,#00ffe6 71.8px,#00ffff 86.2px,#00dbff 107.6px,#00a4ff 143.5px,#0070ff 179.4px,#0041ff 215.2px,#0017ff 251.1px,#0000ff 272.2px,#0000ff 287.0px)"></i>
<i style="background:linear-gradient(90deg,#00ff5f 0.0px,#00ffa5 35.9px,#00ffe6 71.8px,#00ffff 86.3px,#00dcff 107.6px,#00a4ff 143.5px,#0070ff 179.4px,#0041ff 215.2px,#0017ff 251.1px,#0000ff 272.0px,#0000ff 287.0px)"></i>
<i style="background:linear-gradient(90deg,#00ff5f 0.0px,#00ffa4 35.9px,#00ffe6 71.8px,#00ffff 86.5px,#00dcff 107.6px,#00a4ff 143.5px,#0070ff 179.4px,#0041ff 215.2px,#0016ff 251.1px,#0000ff 271.7px,#0000ff 287.0px)"></i>
<i style="background:linear-gradient(90deg,#00ff5e 0.0px,#00ffa4 35.9px,#00ffe5 71.8px,#00ffff 86.7px,#00dcff 107.6px,#00a4ff 143.5px,#0070ff 179.4px,#0041ff 215.2px,#0016ff 251.1px,#0000ff 271.5px,#0000ff 287.0px)"></i>
<i style="background:linear-gradient(90deg,#00ff5e 0.0px,#00ffa4 35.9px,#00ffe5 71.8px,#00ffff 86.9px,#00dcff 107.6px,#00a4ff 143.5px,#0070ff 179.4px,#0041ff 215.2px,#0016ff 251.1px,#0000ff 271.3px,#0000ff 287.0px)"></i>
<i style="background:linear-gradient(90deg,#00ff5d 0.0px,#00ffa3 35.9px,#00ffe5 71.8px,#00ffff 87.0px,#00ddff 107.6px,#00a4ff 143.5px,#0070ff 179.4px,#0041ff 215.2px,#0016ff 251.1px,#0000ff 271.1px,#0000ff 287.0px)"></i>
<i style="background:linear-gradient(90deg,#00ff5d 0.0px,#00ffa3 35.9px,#00ffe4 71.8px,#00ffff 87.2px,#00ddff 107.6px,#00a4ff 143.5px,#0070ff 179.4px,#0041ff 215.2px,#0016ff 251.1px,#0000ff 270.9px,#0000ff 287.0px)"></i>
<i style="background:linear-gradient(90deg,#00ff5c 0.0px,#00ffa2 35.9px,#00ffe4 71.8px,#00ffff 87.4px,#00ddff 107.6px,#00a5ff 143.5px,#0070ff 179.4px,#0041ff 215.2px,#0016ff 251.1px,#0000ff 270.7px,#0000ff 287.0px)"></i>
<i style="background:linear-gradient(90deg,#00ff5c 0.0px,#00ffa2 35.9px,#00ffe3 71.8px,#00ffff 87.6px,#00ddff 107.6px,#00a5ff 143.5px,#0071ff 179.4px,#0041ff 215.2px,#0016ff 251.1px,#0000ff 270.6px,#0000ff 287.0px)"></i>
<i style="background:linear-gradient(90deg,#00ff5b 0.0px,#00ffa1 35.9px,#00ffe3 71.8px,#00ffff 87.8px,#00deff 107.6px,#00a5ff 143.5px,#0071ff 179.4px,#0041ff 215.2px,#0015ff 251.1px,#0000ff 270.4px,#0000ff 287.0px)"></i>
<i style="background:linear-gradient(90deg,#00ff5a 0.0px,#00ffa1 35.9px,#00ffe3 71.8px,#00ffff 88.0px,#00deff 107.6px,#00a5ff 143.5px,#0071ff 179.4px,#0041ff 215.2px,#0015ff 251.1px,#0000ff 270.3px,#0000ff 287.0px)"></i>
<i style="background:linear-gradient(90deg,#00ff5a 0.0px,#00ffa0 35.9px,#00ffe2 71.8px,#00ffff 88.2px,#00deff 107.6px,#00a5ff 143.5px,#0071ff 179.4px,#0041ff 215.2px,#0015ff 251.1px,#0000ff 270.1px,#0000ff 287.0px)"></i>
<i style="background:linear-gradient(90deg,#00ff59 0.0px,#00ffa0 35.9px,#00ffe2 71.8px,#00ffff 88.5px,#00dfff 107.6px,#00a6ff 143.5px,#0071ff 179.4px,#0041ff 215.2px,#0015ff 251.1px,#0000ff 270.0px,#0000ff 287.0px)"></i>
<i style="background:linear-gradient(90deg,#00ff58 0.0px,#00ff9f 35.9px,#00ffe1 71.8px,#00ffff 88.7px,#00dfff 107.6px,#00a6ff 143.5px,#0071ff 179.4px,#0041ff 215.2px,#0015ff 251.1px,#0000ff 269.9px,#0000ff 287.0px)"></i>
<i style="background:linear-gradient(90deg,#00ff58 0.0px,#00ff9f 35.9px,#00ffe1 71.8px,#00ffff 88.9px,#00dfff 107.6px,#00a6ff 143.5px,#0071ff 179.4px,#0041ff 215.2px,#0015ff 251.1px,#0000ff 269.8px,#0000ff 287.0px)"></i>
<i style="background:linear-gradient(90deg,#00ff57 0.0px,#00ff9e 35.9px,#00ffe0 71.8px,#00ffff 89.2px,#00e0ff 107.6px,#00a6ff 143.5px,#0071ff 179.4px,#0041ff 215.2px,#0015ff 251.1px,#0000ff 269.7px,#0000ff 287.0px)"></i>
<i style="background:linear-gradient(90deg,#00ff56 0.0px,#00ff9d 35.9px,#00ffe0 71.8px,#00ffff 89.4px,#00e0ff 107.6px,#00a7ff 143.5px,#0072ff 179.4px,#0041ff 215.2px,#0015ff 251.1px,#0000ff 269.6px,#0000ff 287.0px)"></i>
<i style="background:linear-gradient(90deg,#00ff56 0.0px,#00ff9d 35.9px,#00ffdf 71.8px,#00ffff 89.7px,#00e0ff 107.6px,#00a7ff 143.5px,#0072ff 179.4px,#0041ff 215.2px,#0015ff 251.1px,#0000ff 269.5px,#0000ff 287.0px)"></i>
<i style="background:linear-gradient(90deg,#00ff55 0.0px,#00ff9c 35.9px,#00ffdf 71.8px,#00ffff 89.9px,#00e1ff 107.6px,#00a7ff 143.5px,#0072ff 179.4px,#0041ff 215.2px,#0015ff 251.1px,#0000ff 269.5px,#0000ff 287.0px)"></i>
<i style="background:linear-gradient(90deg,#00ff54 0.0px,#00ff9c 35.9px,#00ffde 71.8px,#00ffff 90.2px,#00e1ff 107.6px,#00a7ff 143.5px,#0072ff 179.4px,#0041ff 215.2px,#0015ff 251.1px,#0000ff 269.4px,#0000ff 287.0px)"></i>
<i style="background:linear-gradient(90deg,#00ff54 0.0px,#00ff9b 35.9px,#00ffde 71.8px,#00ffff 90.4px,#00e2ff 107.6px,#00a8ff 143.5px,#0072ff 179.4px,#0041ff 215.2px,#0015ff 251.1px,#0000ff 269.4px,#0000ff 287.0px)"></i>
<i style="background:linear-gradient(90deg,#00ff53 0.0px,#00ff9a 35.9px,#00ffdd 71.8px,#00ffff 90.7px,#00e2ff 107.6px,#00a8ff 143.5px,#0073ff 179.4px,#0041ff 215.2px,#0015ff 251.1px,#0000ff 269.3px,#0000ff 287.0px)"></i>
<i style="background:linear-gradient(90deg,#00ff52 0.0px,#00ff9a 35.9px,#00ffdd 71.8px,#00ffff 91.0px,#00e2ff 107.6px,#00a8ff 143.5px,#0073ff 179.4px,#0042ff 215.2px,#0015ff 251.1px,#0000ff 269.3px,#0000ff 287.0px)"></i>
<i style="background:linear-gradient(90deg,#00ff52 0.0px,#00ff99 35.9px,#00ffdc 71.8px,#00ffff 91.2px,#00e3ff 107.6px,#00a9ff 143.5px,#0073ff 179.4px,#0042ff 215.2px,#0015ff 251.1px,#0000ff 269.3px,#0000ff 287.0px)"></i>
<i style="background:linear-gradient(90deg,#00ff51 0.0px,#00ff99 35.9px,#00ffdc 71.8px,#00ffff 91.5px,#00e3ff 107.6px,#00a9ff 143.5px,#0073ff 179.4px,#0042ff 215.2px,#0015ff 251.1px,#0000ff 269.3px,#0000ff 287.0px)"></i>
<i style="background:linear-gradient(90deg,#00ff50 0.0px,#00ff98 35.9px,#00ffdb 71.8px,#00ffff 91.8px,#00e4ff 107.6px,#00a9ff 143.5px,#0073ff 179.4px,#0042ff 215.2px,#0015ff 251.1px,#0000ff 269.3px,#0000ff 287.0px)"></i>
</div>
<div class="fld" style="left:403px;top:4px;width:301px;height:286px">
<i style="background:linear-gradient(90deg,#ffd500 0.0px,#ffff00 23.3px,#e6ff00 37.6px,#a8ff00 75.2px,#6fff00 112.9px,#3aff00 150.5px,#09ff00 188.1px,#00ff00 195.7px,#00ff23 225.8px,#00ff4b 263.4px,#00ff6e 301.0px)"></i>
<i style="background:linear-gradient(90deg,#ffda00 0.0px,#ffff00 20.9px,#e2ff00 37.6px,#a4ff00 75.2px,#6bff00 112.9px,#36ff00 150.5px,#05ff00 188.1px,#00ff00 192.5px,#00ff27 225.8px,#00ff4e 263.4px,#00ff72 301.0px)"></i>
<i style="background:linear-gradient(90deg,#ffde00 0.0px,#ffff00 18.5px,#deff00 37.6px,#a0ff00 75.2px,#67ff00 112.9px,#32ff00 150.5px,#02ff00 188.1px,#00ff00 189.4px,#00ff2b 225.8px,#00ff52 263.4px,#00ff75 301.0px)"></i>
<i style="background:linear-gradient(90deg,#ffe200 0.0px,#ffff00 16.2px,#daff00 37.6px,#9cff00 75.2px,#63ff00 112.9px,#2eff00 150.5px,#00ff00 186.3px,#00ff02 188.1px,#00ff2e 225.8px,#00ff56 263.4px,#00ff79 301.0px)"></i>
<i style="background:linear-gradient(90deg,#ffe600 0.0px,#ffff00 13.9px,#d6ff00 37.6px,#98ff00 75.2px,#5fff00 112.9px,#2aff00 150.5px,#00ff00 183.2px,#00ff06 188.1px,#00ff32 225.8px,#00ff5a 263.4px,#00ff7d 301.0px)"></i>
<i style="background:linear-gradient(90deg,#ffea00 0.0px,#ffff00 11.6px,#d2ff00 37.6px,#94ff00 75.2px,#5bff00 112.9px,#26ff00 150.5px,#00ff00 180.1px,#00ff0a 188.1px,#00ff36 225.8px,#00ff5d 263.4px,#00ff80 301.0px)"></i>
<i style="background:linear-gradient(90deg,#ffee00 0.0px,#ffff00 9.3px,#ceff00 37.6px,#90ff00 75.2px,#57ff00 112.9px,#23ff00 150.5px,#00ff00 177.1px,#00ff0e 188.1px,#00ff3a 225.8px,#00ff61 263.4px,#00ff84 301.0px)"></i>
<i style="background:linear-gradient(90deg,#fff200 0.0px,#ffff00 7.0px,#caff00 37.6px,#8cff00 75.2px,#53ff00 112.9px,#1fff00 150.5px,#00ff00 174.1px,#00ff11 188.1px,#00ff3d 225.8px,#00ff65 263.4px,#00ff87 301.0px)"></i>
<i style="background:linear-gradient(90deg,#fff600 0.0px,#ffff00 4.7px,#c6ff00 37.6px,#88ff00 75.2px,#4fff00 112.9px,#1bff00 150.5px,#00ff00 171.1px,#00ff15 188.1px,#00ff41 225.8px,#00ff68 263.4px,#00ff8b 301.0px)"></i>
<i style="background:linear-gradient(90deg,#fffb00 0.0px,#ffff00 2.5px,#c2ff00 37.6px,#84ff00 75.2px,#4cff00 112.9px,#17ff00 150.5px,#00ff00 168.2px,#00ff19 188.1px,#00ff45 225.8px,#00ff6c 263.4px,#00ff8e 301.0px)"></i>
<i style="background:linear-gradient(90deg,#ffff00 0.0px,#ffff00 0.3px,#beff00 37.6px,#81ff00 75.2px,#48ff00 112.9px,#13ff00 150.5px,#00ff00 165.3px,#00ff1d 188.1px,#00ff48 225.8px,#00ff6f 263.4px,#00ff92 301.0px)"></i>
<i style="background:linear-gradient(90deg,#fbff00 0.0px,#baff00 37.6px,#7dff00 75.2px,#44ff00 112.9px,#10ff00 150.5px,#00ff00 162.4px,#00ff20 188.1px,#00ff4c 225.8px,#00ff73 263.4px,#00ff95 301.0px)"></i>
<i style="background:linear-gradient(90deg,#f7ff00 0.0px,#b6ff00 37.6px,#79ff00 75.2px,#40ff00 112.9px,#0cff00 150.5px,#00ff00 159.6px,#00ff24 188.1px,#00ff4f 225.8px,#00ff76 263.4px,#00ff99 301.0px)"></i>
<i style="background:linear-gradient(90deg,#f4ff00 0.0px,#b2ff00 37.6px,#75ff00 75.2px,#3cff00 112.9px,#08ff00 150.5px,#00ff00 156.7px,#00ff28 188.1px,#00ff53 225.8px,#00ff7a 263.4px,#00ff9c 301.0px)"></i>
<i style="background:linear-gradient(90deg,#f0ff00 0.0px,#aeff00 37.6px,#71ff00 75.2px,#39ff00 112.9px,#05ff00 150.5px,#00ff00 154.0px,#00ff2b 188.1px,#00ff56 225.8px,#00ff7d 263.4px,#00ffa0 301.0px)"></i>
<i style="background:linear-gradient(90deg,#ecff00 0.0px,#aaff00 37.6px,#6dff00 75.2px,#35ff00 112.9px,#01ff00 150.5px,#00ff00 151.2px,#00ff2f 188.1px,#00ff5a 225.8px,#00ff81 263.4px,#00ffa3 301.0px)"></i>
<i style="background:linear-gradient(90deg,#e8ff00 0.0px,#a7ff00 37.6px,#6aff00 75.2px,#31ff00 112.9px,#00ff00 148.5px,#00ff03 150.5px,#00ff32 188.1px,#00ff5d 225.8px,#00ff84 263.4px,#00ffa7 301.0px)"></i>
<i style="background:linear-gradient(90deg,#e4ff00 0.0px,#a3ff00 37.6px,#66ff00 75.2px,#2eff00 112.9px,#00ff00 145.7px,#00ff06 150.5px,#00ff36 188.1px,#00ff61 225.8px,#00ff88 263.4px,#00ffaa 301.0px)"></i>
<i style="background:linear-gradient(90deg,#e0ff00 0.0px,#9fff00 37.6px,#62ff00 75.2px,#2aff00 112.9px,#00ff00 143.1px,#00ff0a 150.5px,#00ff39 188.1px,#00ff64 225.8px,#00ff8b 263.4px,#00ffad 301.0px)"></i>
<i style="background:linear-gradient(90deg,#dcff00 0.0px,#9bff00 37.6px,#5fff00 75.2px,#26ff00 112.9px,#00ff00 140.4px,#00ff0d 150.5px,#00ff3d 188.1px,#00ff68 225.8px,#00ff8e 263.4px,#00ffb0 301.0px)"></i>
<i style="background:linear-gradient(90deg,#d8ff00 0.0px,#97ff00 37.6px,#5bff00 75.2px,#23ff00 112.9px,#00ff00 137.8px,#00ff11 150.5px,#00ff40 188.1px,#00ff6b 225.8px,#00ff92 263.4px,#00ffb4 301.0px)"></i>
<i style="background:linear-gradient(90deg,#d5ff00 0.0px,#94ff00 37.6px,#57ff00 75.2px,#1fff00 112.9px,#00ff00 135.2px,#00ff15 150.5px,#00ff44 188.1px,#00ff6f 225.8px,#00ff95 263.4px,#00ffb7 301.0px)"></i>
<i style="background:linear-gradient(90deg,#d1ff00 0.0px,#90ff00 37.6px,#54ff00 75.2px,#1cff00 112.9px,#00ff00 132.6px,#00ff18 150.5px,#00ff47 188.1px,#00ff72 225.8px,#00ff98 263.4px,#00ffba 301.0px)"></i>
<i style="background:linear-gradient(90deg,#cdff00 0.0px,#8cff00 37.6px,#50ff00 75.2px,#18ff00 112.9px,#00ff00 130.0px,#00ff1c 150.5px,#00ff4b 188.1px,#00ff75 225.8px,#00ff9c 263.4px,#00ffbe 301.0px)"></i>
<i style="background:linear-gradient(90deg,#c9ff00 0.0px,#89ff00 37.6px,#4cff00 75.2px,#15ff00 112.9px,#00ff00 127.5px,#00ff1f 150.5px,#00ff4e 188.1px,#00ff79 225.8px,#00ff9f 263.4px,#00ffc1 301.0px)"></i>
<i style="background:linear-gradient(90deg,#c6ff00 0.0px,#85ff00 37.6px,#49ff00 75.2px,#11ff00 112.9px,#00ff00 125.0px,#00ff22 150.5px,#00ff51 188.1px,#00ff7c 225.8px,#00ffa2 263.4px,#00ffc4 301.0px)"></i>
<i style="background:linear-gradient(90deg,#c2ff00 0.0px,#82ff00 37.6px,#45ff00 75.2px,#0eff00 112.9px,#00ff00 122.5px,#00ff26 150.5px,#00ff55 188.1px,#00ff7f 225.8px,#00ffa5 263.4px,#00ffc7 301.0px)"></i>
<i style="background:linear-gradient(90deg,#beff00 0.0px,#7eff00 37.6px,#42ff00 75.2px,#0aff00 112.9px,#00ff00 120.0px,#00ff29 150.5px,#00ff58 188.1px,#00ff83 225.8px,#00ffa9 263.4px,#00ffca 301.0px)"></i>
<i style="background:linear-gradient(90deg,#bbff00 0.0px,#7aff00 37.6px,#3eff00 75.2px,#07ff00 112.9px,#00ff00 117.6px,#00ff2d 150.5px,#00ff5b 188.1px,#00ff86 225.8px,#00ffac 263.4px,#00ffcd 301.0px)"></i>
<i style="background:linear-gradient(90deg,#b7ff00 0.0px,#77ff00 37.6px,#3bff00 75.2px,#03ff00 112.9px,#00ff00 115.2px,#00ff30 150.5px,#00ff5f 188.1px,#00ff89 225.8px,#00ffaf 263.4px,#00ffd0 301.0px)"></i>
<i style="background:linear-gradient(90deg,#b4ff00 0.0px,#73ff00 37.6px,#37ff00 75.2px,#00ff00 112.8px,#00ff00 112.9px,#00ff33 150.5px,#00ff62 188.1px,#00ff8c 225.8px,#00ffb2 263.4px,#00ffd3 301.0px)"></i>
<i style="background:linear-gradient(90deg,#b0ff00 0.0px,#70ff00 37.6px,#34ff00 75.2px,#00ff00 110.4px,#00ff04 112.9px,#00ff37 150.5px,#00ff65 188.1px,#00ff8f 225.8px,#00ffb5 263.4px,#00ffd7 301.0px)"></i>
<i style="background:linear-gradient(90deg,#adff00 0.0px,#6cff00 37.6px,#30ff00 75.2px,#00ff00 108.0px,#00ff07 112.9px,#00ff3a 150.5px,#00ff68 188.1px,#00ff93 225.8px,#00ffb8 263.4px,#00ffda 301.0px)"></i>
<i style="background:linear-gradient(90deg,#a9ff00 0.0px,#69ff00 37.6px,#2dff00 75.2px,#00ff00 105.7px,#00ff0a 112.9px,#00ff3d 150.5px,#00ff6c 188.1px,#00ff96 225.8px,#00ffbb 263.4px,#00ffdd 301.0px)"></i>
<i style="background:linear-gradient(90deg,#a6ff00 0.0px,#65ff00 37.6px,#2aff00 75.2px,#00ff00 103.4px,#00ff0e 112.9px,#00ff40 150.5px,#00ff6f 188.1px,#00ff99 225.8px,#00ffbe 263.4px,#00ffe0 301.0px)"></i>
<i style="background:linear-gradient(90deg,#a2ff00 0.0px,#62ff00 37.6px,#26ff00 75.2px,#00ff00 101.1px,#00ff11 112.9px,#00ff44 150.5px,#00ff72 188.1px,#00ff9c 225.8px,#00ffc1 263.4px,#00ffe2 301.0px)"></i>
<i style="background:linear-gradient(90deg,#9fff00 0.0px,#5fff00 37.6px,#23ff00 75.2px,#00ff00 98.8px,#00ff14 112.9px,#00ff47 150.5px,#00ff75 188.1px,#00ff9f 225.8px,#00ffc4 263.4px,#00ffe5 301.0px)"></i>
<i style="background:linear-gradient(90deg,#9bff00 0.0px,#5bff00 37.6px,#20ff00 75.2px,#00ff00 96.6px,#00ff17 112.9px,#00ff4a 150.5px,#00ff78 188.1px,#00ffa2 225.8px,#00ffc7 263.4px,#00ffe8 301.0px)"></i>
<i style="background:linear-gradient(90deg,#98ff00 0.0px,#58ff00 37.6px,#1cff00 75.2px,#00ff00 94.3px,#00ff1b 112.9px,#00ff4d 150.5px,#00ff7b 188.1px,#00ffa5 225.8px,#00ffca 263.4px,#00ffeb 301.0px)"></i>
<i style="background:linear-gradient(90deg,#94ff00 0.0px,#55ff00 37.6px,#19ff00 75.2px,#00ff00 92.1px,#00ff1e 112.9px,#00ff50 150.5px,#00ff7e 188.1px,#00ffa8 225.8px,#00ffcd 263.4px,#00ffee 301.0px)"></i>
<i style="background:linear-gradient(90deg,#91ff00 0.0px,#51ff00 37.6px,#16ff00 75.2px,#00ff00 89.9px,#00ff21 112.9px,#00ff53 150.5px,#00ff81 188.1px,#00ffab 225.8px,#00ffd0 263.4px,#00fff1 301.0px)"></i>
<i style="background:linear-gradient(90deg,#8eff00 0.0px,#4eff00 37.6px,#13ff00 75.2px,#00ff00 87.8px,#00ff24 112.9px,#00ff56 150.5px,#00ff84 188.1px,#00ffae 225.8px,#00ffd3 263.4px,#00fff4 301.0px)"></i>
<i style="background:linear-gradient(90deg,#8aff00 0.0px,#4bff00 37.6px,#10ff00 75.2px,#00ff00 85.6px,#00ff27 112.9px,#00ff5a 150.5px,#00ff87 188.1px,#00ffb1 225.8px,#00ffd6 263.4px,#00fff7 301.0px)"></i>
<i style="background:linear-gradient(90deg,#87ff00 0.0px,#47ff00 37.6px,#0cff00 75.2px,#00ff00 83.5px,#00ff2a 112.9px,#00ff5d 150.5px,#00ff8a 188.1px,#00ffb4 225.8px,#00ffd9 263.4px,#00fff9 301.0px)"></i>
<i style="background:linear-gradient(90deg,#84ff00 0.0px,#44ff00 37.6px,#09ff00 75.2px,#00ff00 81.4px,#00ff2d 112.9px,#00ff60 150.5px,#00ff8d 188.1px,#00ffb7 225.8px,#00ffdc 263.4px,#00fffc 301.0px)"></i>
<i style="background:linear-gradient(90deg,#80ff00 0.0px,#41ff00 37.6px,#06ff00 75.2px,#00ff00 79.3px,#00ff31 112.9px,#00ff63 150.5px,#00ff90 188.1px,#00ffba 225.8px,#00ffdf 263.4px,#00ffff 301.0px)"></i>
<i style="background:linear-gradient(90deg,#7dff00 0.0px,#3eff00 37.6px,#03ff00 75.2px,#00ff00 77.2px,#00ff34 112.9px,#00ff66 150.5px,#00ff93 188.1px,#00ffbd 225.8px,#00ffe1 263.4px,#00ffff 297.7px,#00fcff 301.0px)"></i>
<i style="background:linear-gradient(90deg,#7aff00 0.0px,#3bff00 37.6px,#00ff00 75.1px,#00ff00 75.2px,#00ff37 112.9px,#00ff69 150.5px,#00ff96 188.1px,#00ffbf 225.8px,#00ffe4 263.4px,#00ffff 294.3px,#00faff 301.0px)"></i>
<i style="background:linear-gradient(90deg,#77ff00 0.0px,#38ff00 37.6px,#00ff00 73.1px,#00ff03 75.2px,#00ff3a 112.9px,#00ff6c 150.5px,#00ff99 188.1px,#00ffc2 225.8px,#00ffe7 263.4px,#00ffff 291.1px,#00f7ff 301.0px)"></i>
<i style="background:linear-gradient(90deg,#74ff00 0.0px,#34ff00 37.6px,#00ff00 71.1px,#00ff06 75.2px,#00ff3d 112.9px,#00ff6e 150.5px,#00ff9c 188.1px,#00ffc5 225.8px,#00ffea 263.4px,#00ffff 287.8px,#00f4ff 301.0px)"></i>
<i style="background:linear-gradient(90deg,#70ff00 0.0px,#31ff00 37.6px,#00ff00 69.1px,#00ff09 75.2px,#00ff40 112.9px,#00ff71 150.5px,#00ff9f 188.1px,#00ffc8 225.8px,#00ffec 263.4px,#00ffff 284.7px,#00f2ff 301.0px)"></i>
<i style="background:linear-gradient(90deg,#6dff00 0.0px,#2eff00 37.6px,#00ff00 67.1px,#00ff0c 75.2px,#00ff43 112.9px,#00ff74 150.5px,#00ffa2 188.1px,#00ffca 225.8px,#00ffef 263.4px,#00ffff 281.5px,#00efff 301.0px)"></i>
<i style="background:linear-gradient(90deg,#6aff00 0.0px,#2bff00 37.6px,#00ff00 65.1px,#00ff0f 75.2px,#00ff45 112.9px,#00ff77 150.5px,#00ffa4 188.1px,#00ffcd 225.8px,#00fff2 263.4px,#00ffff 278.5px,#00ecff 301.0px)"></i>
<i style="background:linear-gradient(90deg,#67ff00 0.0px,#28ff00 37.6px,#00ff00 63.2px,#00ff12 75.2px,#00ff48 112.9px,#00ff7a 150.5px,#00ffa7 188.1px,#00ffd0 225.8px,#00fff4 263.4px,#00ffff 275.4px,#00eaff 301.0px)"></i>
<i style="background:linear-gradient(90deg,#64ff00 0.0px,#25ff00 37.6px,#00ff00 61.2px,#00ff15 75.2px,#00ff4b 112.9px,#00ff7d 150.5px,#00ffaa 188.1px,#00ffd3 225.8px,#00fff7 263.4px,#00ffff 272.5px,#00e7ff 301.0px)"></i>
<i style="background:linear-gradient(90deg,#61ff00 0.0px,#22ff00 37.6px,#00ff00 59.3px,#00ff18 75.2px,#00ff4e 112.9px,#00ff80 150.5px,#00ffad 188.1px,#00ffd5 225.8px,#00fffa 263.4px,#00ffff 269.5px,#00e5ff 301.0px)"></i>
<i style="background:linear-gradient(90deg,#5eff00 0.0px,#1fff00 37.6px,#00ff00 57.4px,#00ff1b 75.2px,#00ff51 112.9px,#00ff82 150.5px,#00ffaf 188.1px,#00ffd8 225.8px,#00fffc 263.4px,#00ffff 266.6px,#00e2ff 301.0px)"></i>
<i style="background:linear-gradient(90deg,#5bff00 0.0px,#1cff00 37.6px,#00ff00 55.5px,#00ff1e 75.2px,#00ff54 112.9px,#00ff85 150.5px,#00ffb2 188.1px,#00ffdb 225.8px,#00ffff 263.4px,#00ffff 263.8px,#00e0ff 301.0px)"></i>
<i style="background:linear-gradient(90deg,#58ff00 0.0px,#19ff00 37.6px,#00ff00 53.6px,#00ff21 75.2px,#00ff57 112.9px,#00ff88 150.5px,#00ffb5 188.1px,#00ffdd 225.8px,#00ffff 261.0px,#00fdff 263.4px,#00ddff 301.0px)"></i>
<i style="background:linear-gradient(90deg,#55ff00 0.0px,#16ff00 37.6px,#00ff00 51.8px,#00ff24 75.2px,#00ff59 112.9px,#00ff8b 150.5px,#00ffb7 188.1px,#00ffe0 225.8px,#00ffff 258.2px,#00faff 263.4px,#00dbff 301.0px)"></i>
<i style="background:linear-gradient(90deg,#52ff00 0.0px,#14ff00 37.6px,#00ff00 50.0px,#00ff26 75.2px,#00ff5c 112.9px,#00ff8d 150.5px,#00ffba 188.1px,#00ffe2 225.8px,#00ffff 255.4px,#00f8ff 263.4px,#00d8ff 301.0px)"></i>
<i style="background:linear-gradient(90deg,#4fff00 0.0px,#11ff00 37.6px,#00ff00 48.1px,#00ff29 75.2px,#00ff5f 112.9px,#00ff90 150.5px,#00ffbd 188.1px,#00ffe5 225.8px,#00ffff 252.8px,#00f5ff 263.4px,#00d6ff 301.0px)"></i>
<i style="background:linear-gradient(90deg,#4cff00 0.0px,#0eff00 37.6px,#00ff00 46.3px,#00ff2c 75.2px,#00ff62 112.9px,#00ff93 150.5px,#00ffbf 188.1px,#00ffe7 225.8px,#00ffff 250.1px,#00f3ff 263.4px,#00d4ff 301.0px)"></i>
<i style="background:linear-gradient(90deg,#49ff00 0.0px,#0bff00 37.6px,#00ff00 44.6px,#00ff2f 75.2px,#00ff64 112.9px,#00ff95 150.5px,#00ffc2 188.1px,#00ffea 225.8px,#00ffff 247.5px,#00f0ff 263.4px,#00d1ff 301.0px)"></i>
<i style="background:linear-gradient(90deg,#46ff00 0.0px,#08ff00 37.6px,#00ff00 42.8px,#00ff32 75.2px,#00ff67 112.9px,#00ff98 150.5px,#00ffc4 188.1px,#00ffec 225.8px,#00ffff 244.9px,#00eeff 263.4px,#00cfff 301.0px)"></i>
<i style="background:linear-gradient(90deg,#44ff00 0.0px,#05ff00 37.6px,#00ff00 41.0px,#00ff34 75.2px,#00ff6a 112.9px,#00ff9a 150.5px,#00ffc7 188.1px,#00ffef 225.8px,#00ffff 242.3px,#00ecff 263.4px,#00ccff 301.0px)"></i>
<i style="background:linear-gradient(90deg,#41ff00 0.0px,#03ff00 37.6px,#00ff00 39.3px,#00ff37 75.2px,#00ff6c 112.9px,#00ff9d 150.5px,#00ffc9 188.1px,#00fff1 225.8px,#00ffff 239.8px,#00e9ff 263.4px,#00caff 301.0px)"></i>
<i style="background:linear-gradient(90deg,#3eff00 0.0px,#00ff00 37.6px,#00ff00 37.6px,#00ff3a 75.2px,#00ff6f 112.9px,#00ff9f 150.5px,#00ffcc 188.1px,#00fff4 225.8px,#00ffff 237.3px,#00e7ff 263.4px,#00c8ff 301.0px)"></i>
<i style="background:linear-gradient(90deg,#3bff00 0.0px,#00ff00 35.9px,#00ff03 37.6px,#00ff3c 75.2px,#00ff71 112.9px,#00ffa2 150.5px,#00ffce 188.1px,#00fff6 225.8px,#00ffff 234.9px,#00e5ff 263.4px,#00c6ff 301.0px)"></i>
<i style="background:linear-gradient(90deg,#38ff00 0.0px,#00ff00 34.2px,#00ff05 37.6px,#00ff3f 75.2px,#00ff74 112.9px,#00ffa4 150.5px,#00ffd1 188.1px,#00fff8 225.8px,#00ffff 232.5px,#00e2ff 263.4px,#00c3ff 301.0px)"></i>
<i style="background:linear-gradient(90deg,#36ff00 0.0px,#00ff00 32.5px,#00ff08 37.6px,#00ff42 75.2px,#00ff76 112.9px,#00ffa7 150.5px,#00ffd3 188.1px,#00fffb 225.8px,#00ffff 230.1px,#00e0ff 263.4px,#00c1ff 301.0px)"></i>
<i style="background:linear-gradient(90deg,#33ff00 0.0px,#00ff00 30.8px,#00ff0b 37.6px,#00ff44 75.2px,#00ff79 112.9px,#00ffa9 150.5px,#00ffd5 188.1px,#00fffd 225.8px,#00ffff 227.7px,#00deff 263.4px,#00bfff 301.0px)"></i>
<i style="background:linear-gradient(90deg,#30ff00 0.0px,#00ff00 29.2px,#00ff0d 37.6px,#00ff47 75.2px,#00ff7b 112.9px,#00ffac 150.5px,#00ffd8 188.1px,#00ffff 225.4px,#00ffff 225.8px,#00dcff 263.4px,#00bdff 301.0px)"></i>
<i style="background:linear-gradient(90deg,#2eff00 0.0px,#00ff00 27.6px,#00ff10 37.6px,#00ff49 75.2px,#00ff7e 112.9px,#00ffae 150.5px,#00ffda 188.1px,#00ffff 223.1px,#00fcff 225.8px,#00d9ff 263.4px,#00bbff 301.0px)"></i>
<i style="background:linear-gradient(90deg,#2bff00 0.0px,#00ff00 25.9px,#00ff13 37.6px,#00ff4c 75.2px,#00ff80 112.9px,#00ffb1 150.5px,#00ffdc 188.1px,#00ffff 220.8px,#00faff 225.8px,#00d7ff 263.4px,#00b9ff 301.0px)"></i>
<i style="background:linear-gradient(90deg,#28ff00 0.0px,#00ff00 24.3px,#00ff15 37.6px,#00ff4e 75.2px,#00ff83 112.9px,#00ffb3 150.5px,#00ffdf 188.1px,#00ffff 218.6px,#00f8ff 225.8px,#00d5ff 263.4px,#00b6ff 301.0px)"></i>
<i style="background:linear-gradient(90deg,#26ff00 0.0px,#00ff00 22.8px,#00ff18 37.6px,#00ff51 75.2px,#00ff85 112.9px,#00ffb5 150.5px,#00ffe1 188.1px,#00ffff 216.4px,#00f6ff 225.8px,#00d3ff 263.4px,#00b4ff 301.0px)"></i>
<i style="background:linear-gradient(90deg,#23ff00 0.0px,#00ff00 21.2px,#00ff1a 37.6px,#00ff53 75.2px,#00ff88 112.9px,#00ffb8 150.5px,#00ffe3 188.1px,#00ffff 214.2px,#00f3ff 225.8px,#00d1ff 263.4px,#00b2ff 301.0px)"></i>
<i style="background:linear-gradient(90deg,#21ff00 0.0px,#00ff00 19.6px,#00ff1d 37.6px,#00ff56 75.2px,#00ff8a 112.9px,#00ffba 150.5px,#00ffe6 188.1px,#00ffff 212.1px,#00f1ff 225.8px,#00cfff 263.4px,#00b0ff 301.0px)"></i>
<i style="background:linear-gradient(90deg,#1eff00 0.0px,#00ff00 18.1px,#00ff1f 37.6px,#00ff58 75.2px,#00ff8c 112.9px,#00ffbc 150.5px,#00ffe8 188.1px,#00ffff 209.9px,#00efff 225.8px,#00ccff 263.4px,#00aeff 301.0px)"></i>
<i style="background:linear-gradient(90deg,#1bff00 0.0px,#00ff00 16.6px,#00ff22 37.6px,#00ff5a 75.2px,#00ff8f 112.9px,#00ffbf 150.5px,#00ffea 188.1px,#00ffff 207.8px,#00edff 225.8px,#00caff 263.4px,#00acff 301.0px)"></i>
<i style="background:linear-gradient(90deg,#19ff00 0.0px,#00ff00 15.0px,#00ff24 37.6px,#00ff5d 75.2px,#00ff91 112.9px,#00ffc1 150.5px,#00ffec 188.1px,#00ffff 205.8px,#00ebff 225.8px,#00c8ff 263.4px,#00aaff 301.0px)"></i>
<i style="background:linear-gradient(90deg,#16ff00 0.0px,#00ff00 13.5px,#00ff27 37.6px,#00ff5f 75.2px,#00ff93 112.9px,#00ffc3 150.5px,#00ffee 188.1px,#00ffff 203.7px,#00e9ff 225.8px,#00c6ff 263.4px,#00a8ff 301.0px)"></i>
<i style="background:linear-gradient(90deg,#14ff00 0.0px,#00ff00 12.1px,#00ff29 37.6px,#00ff61 75.2px,#00ff96 112.9px,#00ffc5 150.5px,#00fff0 188.1px,#00ffff 201.7px,#00e7ff 225.8px,#00c4ff 263.4px,#00a6ff 301.0px)"></i>
<i style="background:linear-gradient(90deg,#12ff00 0.0px,#00ff00 10.6px,#00ff2b 37.6px,#00ff64 75.2px,#00ff98 112.9px,#00ffc7 150.5px,#00fff3 188.1px,#00ffff 199.7px,#00e5ff 225.8px,#00c2ff 263.4px,#00a4ff 301.0px)"></i>
<i style="background:linear-gradient(90deg,#0fff00 0.0px,#00ff00 9.1px,#00ff2e 37.6px,#00ff66 75.2px,#00ff9a 112.9px,#00ffca 150.5px,#00fff5 188.1px,#00ffff 197.8px,#00e3ff 225.8px,#00c0ff 263.4px,#00a2ff 301.0px)"></i>
<i style="background:linear-gradient(90deg,#0dff00 0.0px,#00ff00 7.7px,#00ff30 37.6px,#00ff68 75.2px,#00ff9c 112.9px,#00ffcc 150.5px,#00fff7 188.1px,#00ffff 195.8px,#00e1ff 225.8px,#00beff 263.4px,#00a1ff 301.0px)"></i>
<i style="background:linear-gradient(90deg,#0aff00 0.0px,#00ff00 6.3px,#00ff32 37.6px,#00ff6b 75.2px,#00ff9e 112.9px,#00ffce 150.5px,#00fff9 188.1px,#00ffff 193.9px,#00dfff 225.8px,#00bcff 263.4px,#009fff 301.0px)"></i>
<i style="background:linear-gradient(90deg,#08ff00 0.0px,#00ff00 4.8px,#00ff35 37.6px,#00ff6d 75.2px,#00ffa1 112.9px,#00ffd0 150.5px,#00fffb 188.1px,#00ffff 192.0px,#00ddff 225.8px,#00bbff 263.4px,#009dff 301.0px)"></i>
<i style="background:linear-gradient(90deg,#06ff00 0.0px,#00ff00 3.4px,#00ff37 37.6px,#00ff6f 75.2px,#00ffa3 112.9px,#00ffd2 150.5px,#00fffd 188.1px,#00ffff 190.1px,#00dbff 225.8px,#00b9ff 263.4px,#009bff 301.0px)"></i>
<i style="background:linear-gradient(90deg,#03ff00 0.0px,#00ff00 2.0px,#00ff39 37.6px,#00ff71 75.2px,#00ffa5 112.9px,#00ffd4 150.5px,#00ffff 188.1px,#00ffff 188.3px,#00d9ff 225.8px,#00b7ff 263.4px,#0099ff 301.0px)"></i>
<i style="background:linear-gradient(90deg,#01ff00 0.0px,#00ff00 0.7px,#00ff3b 37.6px,#00ff73 75.2px,#00ffa7 112.9px,#00ffd6 150.5px,#00ffff 186.5px,#00fdff 188.1px,#00d7ff 225.8px,#00b5ff 263.4px,#0098ff 301.0px)"></i>
<i style="background:linear-gradient(90deg,#00ff01 0.0px,#00ff3e 37.6px,#00ff75 75.2px,#00ffa9 112.9px,#00ffd8 150.5px,#00ffff 184.7px,#00fbff 188.1px,#00d5ff 225.8px,#00b3ff 263.4px,#0096ff 301.0px)"></i>
<i style="background:linear-gradient(90deg,#00ff03 0.0px,#00ff40 37.6px,#00ff78 75.2px,#00ffab 112.9px,#00ffda 150.5px,#00ffff 182.9px,#00f9ff 188.1px,#00d3ff 225.8px,#00b1ff 263.4px,#0094ff 301.0px)"></i>
<i style="background:linear-gradient(90deg,#00ff06 0.0px,#00ff42 37.6px,#00ff7a 75.2px,#00ffad 112.9px,#00ffdc 150.5px,#00ffff 181.2px,#00f7ff 188.1px,#00d1ff 225.8px,#00b0ff 263.4px,#0092ff 301.0px)"></i>
<i style="background:linear-gradient(90deg,#00ff08 0.0px,#00ff44 37.6px,#00ff7c 75.2px,#00ffaf 112.9px,#00ffde 150.5px,#00ffff 179.4px,#00f6ff 188.1px,#00d0ff 225.8px,#00aeff 263.4px,#0091ff 301.0px)"></i>
<i style="background:linear-gradient(90deg,#00ff0a 0.0px,#00ff46 37.6px,#00ff7e 75.2px,#00ffb1 112.9px,#00ffe0 150.5px,#00ffff 177.7px,#00f4ff 188.1px,#00ceff 225.8px,#00acff 263.4px,#008fff 301.0px)"></i>
<i style="background:linear-gradient(90deg,#00ff0c 0.0px,#00ff48 37.6px,#00ff80 75.2px,#00ffb3 112.9px,#00ffe2 150.5px,#00ffff 176.0px,#00f2ff 188.1px,#00ccff 225.8px,#00aaff 263.4px,#008dff 301.0px)"></i>
<i style="background:linear-gradient(90deg,#00ff0e 0.0px,#00ff4a 37.6px,#00ff82 75.2px,#00ffb5 112.9px,#00ffe4 150.5px,#00ffff 174.4px,#00f0ff 188.1px,#00caff 225.8px,#00a9ff 263.4px,#008cff 301.0px)"></i>
<i style="background:linear-gradient(90deg,#00ff10 0.0px,#00ff4c 37.6px,#00ff84 75.2px,#00ffb7 112.9px,#00ffe6 150.5px,#00ffff 172.7px,#00eeff 188.1px,#00c8ff 225.8px,#00a7ff 263.4px,#008aff 301.0px)"></i>
<i style="background:linear-gradient(90deg,#00ff13 0.0px,#00ff4e 37.6px,#00ff86 75.2px,#00ffb9 112.9px,#00ffe7 150.5px,#00ffff 171.1px,#00edff 188.1px,#00c7ff 225.8px,#00a5ff 263.4px,#0089ff 301.0px)"></i>
<i style="background:linear-gradient(90deg,#00ff15 0.0px,#00ff50 37.6px,#00ff88 75.2px,#00ffbb 112.9px,#00ffe9 150.5px,#00ffff 169.5px,#00ebff 188.1px,#00c5ff 225.8px,#00a4ff 263.4px,#0087ff 301.0px)"></i>
<i style="background:linear-gradient(90deg,#00ff17 0.0px,#00ff52 37.6px,#00ff8a 75.2px,#00ffbd 112.9px,#00ffeb 150.5px,#00ffff 168.0px,#00e9ff 188.1px,#00c3ff 225.8px,#00a2ff 263.4px,#0085ff 301.0px)"></i>
<i style="background:linear-gradient(90deg,#00ff19 0.0px,#00ff54 37.6px,#00ff8c 75.2px,#00ffbe 112.9px,#00ffed 150.5px,#00ffff 166.4px,#00e7ff 188.1px,#00c2ff 225.8px,#00a1ff 263.4px,#0084ff 301.0px)"></i>
<i style="background:linear-gradient(90deg,#00ff1b 0.0px,#00ff56 37.6px,#00ff8d 75.2px,#00ffc0 112.9px,#00ffee 150.5px,#00ffff 164.9px,#00e6ff 188.1px,#00c0ff 225.8px,#009fff 263.4px,#0082ff 301.0px)"></i>
<i style="background:linear-gradient(90deg,#00ff1d 0.0px,#00ff58 37.6px,#00ff8f 75.2px,#00ffc2 112.9px,#00fff0 150.5px,#00ffff 163.4px,#00e4ff 188.1px,#00bfff 225.8px,#009eff 263.4px,#0081ff 301.0px)"></i>
<i style="background:linear-gradient(90deg,#00ff1f 0.0px,#00ff5a 37.6px,#00ff91 75.2px,#00ffc4 112.9px,#00fff2 150.5px,#00ffff 161.9px,#00e2ff 188.1px,#00bdff 225.8px,#009cff 263.4px,#0080ff 301.0px)"></i>
<i style="background:linear-gradient(90deg,#00ff21 0.0px,#00ff5c 37.6px,#00ff93 75.2px,#00ffc5 112.9px,#00fff4 150.5px,#00ffff 160.4px,#00e1ff 188.1px,#00bbff 225.8px,#009bff 263.4px,#007eff 301.0px)"></i>
<i style="background:linear-gradient(90deg,#00ff22 0.0px,#00ff5e 37.6px,#00ff95 75.2px,#00ffc7 112.9px,#00fff5 150.5px,#00ffff 158.9px,#00dfff 188.1px,#00baff 225.8px,#0099ff 263.4px,#007dff 301.0px)"></i>
<i style="background:linear-gradient(90deg,#00ff24 0.0px,#00ff60 37.6px,#00ff96 75.2px,#00ffc9 112.9px,#00fff7 150.5px,#00ffff 157.5px,#00deff 188.1px,#00b8ff 225.8px,#0098ff 263.4px,#007bff 301.0px)"></i>
<i style="background:linear-gradient(90deg,#00ff26 0.0px,#00ff61 37.6px,#00ff98 75.2px,#00ffcb 112.9px,#00fff9 150.5px,#00ffff 156.1px,#00dcff 188.1px,#00b7ff 225.8px,#0096ff 263.4px,#007aff 301.0px)"></i>
<i style="background:linear-gradient(90deg,#00ff28 0.0px,#00ff63 37.6px,#00ff9a 75.2px,#00ffcc 112.9px,#00fffa 150.5px,#00ffff 154.7px,#00daff 188.1px,#00b5ff 225.8px,#0095ff 263.4px,#0079ff 301.0px)"></i>
<i style="background:linear-gradient(90deg,#00ff2a 0.0px,#00ff65 37.6px,#00ff9c 75.2px,#00ffce 112.9px,#00fffc 150.5px,#00ffff 153.3px,#00d9ff 188.1px,#00b4ff 225.8px,#0093ff 263.4px,#0077ff 301.0px)"></i>
<i style="background:linear-gradient(90deg,#00ff2c 0.0px,#00ff67 37.6px,#00ff9d 75.2px,#00ffd0 112.9px,#00fffd 150.5px,#00ffff 152.0px,#00d7ff 188.1px,#00b3ff 225.8px,#0092ff 263.4px,#0076ff 301.0px)"></i>
<i style="background:linear-gradient(90deg,#00ff2e 0.0px,#00ff69 37.6px,#00ff9f 75.2px,#00ffd1 112.9px,#00ffff 150.5px,#00ffff 150.7px,#00d6ff 188.1px,#00b1ff 225.8px,#0091ff 263.4px,#0075ff 301.0px)"></i>
<i style="background:linear-gradient(90deg,#00ff2f 0.0px,#00ff6a 37.6px,#00ffa1 75.2px,#00ffd3 112.9px,#00ffff 149.3px,#00feff 150.5px,#00d4ff 188.1px,#00b0ff 225.8px,#008fff 263.4px,#0073ff 301.0px)"></i>
<i style="background:linear-gradient(90deg,#00ff31 0.0px,#00ff6c 37.6px,#00ffa2 75.2px,#00ffd4 112.9px,#00ffff 148.1px,#00fcff 150.5px,#00d3ff 188.1px,#00aeff 225.8px,#008eff 263.4px,#0072ff 301.0px)"></i>
<i style="background:linear-gradient(90deg,#00ff33 0.0px,#00ff6e 37.6px,#00ffa4 75.2px,#00ffd6 112.9px,#00ffff 146.8px,#00fbff 150.5px,#00d2ff 188.1px,#00adff 225.8px,#008dff 263.4px,#0071ff 301.0px)"></i>
<i style="background:linear-gradient(90deg,#00ff35 0.0px,#00ff6f 37.6px,#00ffa6 75.2px,#00ffd7 112.9px,#00ffff 145.5px,#00f9ff 150.5px,#00d0ff 188.1px,#00acff 225.8px,#008cff 263.4px,#0070ff 301.0px)"></i>
<i style="background:linear-gradient(90deg,#00ff36 0.0px,#00ff71 37.6px,#00ffa7 75.2px,#00ffd9 112.9px,#00ffff 144.3px,#00f8ff 150.5px,#00cfff 188.1px,#00aaff 225.8px,#008aff 263.4px,#006fff 301.0px)"></i>
<i style="background:linear-gradient(90deg,#00ff38 0.0px,#00ff72 37.6px,#00ffa9 75.2px,#00ffda 112.9px,#00ffff 143.1px,#00f6ff 150.5px,#00ceff 188.1px,#00a9ff 225.8px,#0089ff 263.4px,#006dff 301.0px)"></i>
<i style="background:linear-gradient(90deg,#00ff3a 0.0px,#00ff74 37.6px,#00ffaa 75.2px,#00ffdc 112.9px,#00ffff 141.9px,#00f5ff 150.5px,#00ccff 188.1px,#00a8ff 225.8px,#0088ff 263.4px,#006cff 301.0px)"></i>
<i style="background:linear-gradient(90deg,#00ff3b 0.0px,#00ff76 37.6px,#00ffac 75.2px,#00ffdd 112.9px,#00ffff 140.7px,#00f4ff 150.5px,#00cbff 188.1px,#00a7ff 225.8px,#0087ff 263.4px,#006bff 301.0px)"></i>
<i style="background:linear-gradient(90deg,#00ff3d 0.0px,#00ff77 37.6px,#00ffad 75.2px,#00ffdf 112.9px,#00ffff 139.5px,#00f2ff 150.5px,#00caff 188.1px,#00a5ff 225.8px,#0086ff 263.4px,#006aff 301.0px)"></i>
<i style="background:linear-gradient(90deg,#00ff3e 0.0px,#00ff79 37.6px,#00ffaf 75.2px,#00ffe0 112.9px,#00ffff 138.4px,#00f1ff 150.5px,#00c8ff 188.1px,#00a4ff 225.8px,#0084ff 263.4px,#0069ff 301.0px)"></i>
<i style="background:linear-gradient(90deg,#00ff40 0.0px,#00ff7a 37.6px,#00ffb0 75.2px,#00ffe1 112.9px,#00ffff 137.3px,#00f0ff 150.5px,#00c7ff 188.1px,#00a3ff 225.8px,#0083ff 263.4px,#0068ff 301.0px)"></i>
<i style="background:linear-gradient(90deg,#00ff41 0.0px,#00ff7c 37.6px,#00ffb1 75.2px,#00ffe3 112.9px,#00ffff 136.1px,#00eeff 150.5px,#00c6ff 188.1px,#00a2ff 225.8px,#0082ff 263.4px,#0067ff 301.0px)"></i>
<i style="background:linear-gradient(90deg,#00ff43 0.0px,#00ff7d 37.6px,#00ffb3 75.2px,#00ffe4 112.9px,#00ffff 135.1px,#00edff 150.5px,#00c5ff 188.1px,#00a1ff 225.8px,#0081ff 263.4px,#0066ff 301.0px)"></i>
<i style="background:linear-gradient(90deg,#00ff45 0.0px,#00ff7f 37.6px,#00ffb4 75.2px,#00ffe5 112.9px,#00ffff 134.0px,#00ecff 150.5px,#00c4ff 188.1px,#00a0ff 225.8px,#0080ff 263.4px,#0065ff 301.0px)"></i>
<i style="background:linear-gradient(90deg,#00ff46 0.0px,#00ff80 37.6px,#00ffb5 75.2px,#00ffe7 112.9px,#00ffff 132.9px,#00ebff 150.5px,#00c2ff 188.1px,#009fff 225.8px,#007fff 263.4px,#0064ff 301.0px)"></i>
<i style="background:linear-gradient(90deg,#00ff47 0.0px,#00ff81 37.6px,#00ffb7 75.2px,#00ffe8 112.9px,#00ffff 131.9px,#00e9ff 150.5px,#00c1ff 188.1px,#009dff 225.8px,#007eff 263.4px,#0063ff 301.0px)"></i>
<i style="background:linear-gradient(90deg,#00ff49 0.0px,#00ff83 37.6px,#00ffb8 75.2px,#00ffe9 112.9px,#00ffff 130.9px,#00e8ff 150.5px,#00c0ff 188.1px,#009cff 225.8px,#007dff 263.4px,#0062ff 301.0px)"></i>
<i style="background:linear-gradient(90deg,#00ff4a 0.0px,#00ff84 37.6px,#00ffb9 75.2px,#00ffea 112.9px,#00ffff 129.9px,#00e7ff 150.5px,#00bfff 188.1px,#009bff 225.8px,#007cff 263.4px,#0061ff 301.0px)"></i>
<i style="background:linear-gradient(90deg,#00ff4c 0.0px,#00ff85 37.6px,#00ffbb 75.2px,#00ffec 112.9px,#00ffff 128.9px,#00e6ff 150.5px,#00beff 188.1px,#009aff 225.8px,#007bff 263.4px,#0060ff 301.0px)"></i>
<i style="background:linear-gradient(90deg,#00ff4d 0.0px,#00ff87 37.6px,#00ffbc 75.2px,#00ffed 112.9px,#00ffff 127.9px,#00e5ff 150.5px,#00bdff 188.1px,#0099ff 225.8px,#007aff 263.4px,#0060ff 301.0px)"></i>
<i style="background:linear-gradient(90deg,#00ff4e 0.0px,#00ff88 37.6px,#00ffbd 75.2px,#00ffee 112.9px,#00ffff 127.0px,#00e4ff 150.5px,#00bcff 188.1px,#0098ff 225.8px,#0079ff 263.4px,#005fff 301.0px)"></i>
<i style="background:linear-gradient(90deg,#00ff50 0.0px,#00ff89 37.6px,#00ffbe 75.2px,#00ffef 112.9px,#00ffff 126.0px,#00e3ff 150.5px,#00bbff 188.1px,#0097ff 225.8px,#0079ff 263.4px,#005eff 301.0px)"></i>
<i style="background:linear-gradient(90deg,#00ff51 0.0px,#00ff8a 37.6px,#00ffc0 75.2px,#00fff0 112.9px,#00ffff 125.1px,#00e2ff 150.5px,#00baff 188.1px,#0097ff 225.8px,#0078ff 263.4px,#005dff 301.0px)"></i>
<i style="background:linear-gradient(90deg,#00ff52 0.0px,#00ff8c 37.6px,#00ffc1 75.2px,#00fff1 112.9px,#00ffff 124.2px,#00e1ff 150.5px,#00b9ff 188.1px,#0096ff 225.8px,#0077ff 263.4px,#005cff 301.0px)"></i>
<i style="background:linear-gradient(90deg,#00ff54 0.0px,#00ff8d 37.6px,#00ffc2 75.2px,#00fff2 112.9px,#00ffff 123.4px,#00e0ff 150.5px,#00b8ff 188.1px,#0095ff 225.8px,#0076ff 263.4px,#005cff 301.0px)"></i>
<i style="background:linear-gradient(90deg,#00ff55 0.0px,#00ff8e 37.6px,#00ffc3 75.2px,#00fff3 112.9px,#00ffff 122.5px,#00dfff 150.5px,#00b7ff 188.1px,#0094ff 225.8px,#0075ff 263.4px,#005bff 301.0px)"></i>
<i style="background:linear-gradient(90deg,#00ff56 0.0px,#00ff8f 37.6px,#00ffc4 75.2px,#00fff4 112.9px,#00ffff 121.7px,#00deff 150.5px,#00b6ff 188.1px,#0093ff 225.8px,#0074ff 263.4px,#005aff 301.0px)"></i>
<i style="background:linear-gradient(90deg,#00ff57 0.0px,#00ff90 37.6px,#00ffc5 75.2px,#00fff5 112.9px,#00ffff 120.8px,#00ddff 150.5px,#00b5ff 188.1px,#0092ff 225.8px,#0074ff 263.4px,#005aff 301.0px)"></i>
<i style="background:linear-gradient(90deg,#00ff58 0.0px,#00ff91 37.6px,#00ffc6 75.2px,#00fff6 112.9px,#00ffff 120.0px,#00dcff 150.5px,#00b4ff 188.1px,#0092ff 225.8px,#0073ff 263.4px,#0059ff 301.0px)"></i>
<i style="background:linear-gradient(90deg,#00ff5a 0.0px,#00ff93 37.6px,#00ffc7 75.2px,#00fff7 112.9px,#00ffff 119.2px,#00dbff 150.5px,#00b4ff 188.1px,#0091ff 225.8px,#0072ff 263.4px,#0058ff 301.0px)"></i>
<i style="background:linear-gradient(90deg,#00ff5b 0.0px,#00ff94 37.6px,#00ffc8 75.2px,#00fff8 112.9px,#00ffff 118.5px,#00daff 150.5px,#00b3ff 188.1px,#0090ff 225.8px,#0072ff 263.4px,#0058ff 301.0px)"></i>
<i style="background:linear-gradient(90deg,#00ff5c 0.0px,#00ff95 37.6px,#00ffc9 75.2px,#00fff9 112.9px,#00ffff 117.7px,#00d9ff 150.5px,#00b2ff 188.1px,#008fff 225.8px,#0071ff 263.4px,#0057ff 301.0px)"></i>
<i style="background:linear-gradient(90deg,#00ff5d 0.0px,#00ff96 37.6px,#00ffca 75.2px,#00fffa 112.9px,#00ffff 117.0px,#00d8ff 150.5px,#00b1ff 188.1px,#008fff 225.8px,#0070ff 263.4px,#0056ff 301.0px)"></i>
<i style="background:linear-gradient(90deg,#00ff5e 0.0px,#00ff97 37.6px,#00ffcb 75.2px,#00fffb 112.9px,#00ffff 116.2px,#00d8ff 150.5px,#00b1ff 188.1px,#008eff 225.8px,#0070ff 263.4px,#0056ff 301.0px)"></i>
<i style="background:linear-gradient(90deg,#00ff5f 0.0px,#00ff98 37.6px,#00ffcc 75.2px,#00fffc 112.9px,#00ffff 115.5px,#00d7ff 150.5px,#00b0ff 188.1px,#008dff 225.8px,#006fff 263.4px,#0055ff 301.0px)"></i>
<i style="background:linear-gradient(90deg,#00ff60 0.0px,#00ff99 37.6px,#00ffcd 75.2px,#00fffd 112.9px,#00ffff 114.8px,#00d6ff 150.5px,#00afff 188.1px,#008dff 225.8px,#006eff 263.4px,#0055ff 301.0px)"></i>
<i style="background:linear-gradient(90deg,#00ff61 0.0px,#00ff9a 37.6px,#00ffce 75.2px,#00fffd 112.9px,#00ffff 114.2px,#00d5ff 150.5px,#00aeff 188.1px,#008cff 225.8px,#006eff 263.4px,#0054ff 301.0px)"></i>
<i style="background:linear-gradient(90deg,#00ff62 0.0px,#00ff9b 37.6px,#00ffcf 75.2px,#00fffe 112.9px,#00ffff 113.5px,#00d5ff 150.5px,#00aeff 188.1px,#008bff 225.8px,#006dff 263.4px,#0054ff 301.0px)"></i>
<i style="background:linear-gradient(90deg,#00ff63 0.0px,#00ff9b 37.6px,#00ffcf 75.2px,#00ffff 112.9px,#00ffff 112.9px,#00d4ff 150.5px,#00adff 188.1px,#008bff 225.8px,#006dff 263.4px,#0053ff 301.0px)"></i>
<i style="background:linear-gradient(90deg,#00ff64 0.0px,#00ff9c 37.6px,#00ffd0 75.2px,#00ffff 112.2px,#00feff 112.9px,#00d3ff 150.5px,#00acff 188.1px,#008aff 225.8px,#006cff 263.4px,#0053ff 301.0px)"></i>
<i style="background:linear-gradient(90deg,#00ff65 0.0px,#00ff9d 37.6px,#00ffd1 75.2px,#00ffff 111.6px,#00feff 112.9px,#00d2ff 150.5px,#00acff 188.1px,#008aff 225.8px,#006cff 263.4px,#0053ff 301.0px)"></i>
<i style="background:linear-gradient(90deg,#00ff66 0.0px,#00ff9e 37.6px,#00ffd2 75.2px,#00ffff 111.0px,#00fdff 112.9px,#00d2ff 150.5px,#00abff 188.1px,#0089ff 225.8px,#006bff 263.4px,#0052ff 301.0px)"></i>
<i style="background:linear-gradient(90deg,#00ff67 0.0px,#00ff9f 37.6px,#00ffd3 75.2px,#00ffff 110.5px,#00fcff 112.9px,#00d1ff 150.5px,#00abff 188.1px,#0089ff 225.8px,#006bff 263.4px,#0052ff 301.0px)"></i>
<i style="background:linear-gradient(90deg,#00ff68 0.0px,#00ffa0 37.6px,#00ffd3 75.2px,#00ffff 109.9px,#00fbff 112.9px,#00d1ff 150.5px,#00aaff 188.1px,#0088ff 225.8px,#006bff 263.4px,#0051ff 301.0px)"></i>
<i style="background:linear-gradient(90deg,#00ff68 0.0px,#00ffa0 37.6px,#00ffd4 75.2px,#00ffff 109.4px,#00fbff 112.9px,#00d0ff 150.5px,#00aaff 188.1px,#0088ff 225.8px,#006aff 263.4px,#0051ff 301.0px)"></i>
<i style="background:linear-gradient(90deg,#00ff69 0.0px,#00ffa1 37.6px,#00ffd5 75.2px,#00ffff 108.9px,#00faff 112.9px,#00cfff 150.5px,#00a9ff 188.1px,#0087ff 225.8px,#006aff 263.4px,#0051ff 301.0px)"></i>
<i style="background:linear-gradient(90deg,#00ff6a 0.0px,#00ffa2 37.6px,#00ffd5 75.2px,#00ffff 108.4px,#00faff 112.9px,#00cfff 150.5px,#00a9ff 188.1px,#0087ff 225.8px,#006aff 263.4px,#0051ff 301.0px)"></i>
<i style="background:linear-gradient(90deg,#00ff6b 0.0px,#00ffa3 37.6px,#00ffd6 75.2px,#00ffff 107.9px,#00f9ff 112.9px,#00ceff 150.5px,#00a8ff 188.1px,#0087ff 225.8px,#0069ff 263.4px,#0050ff 301.0px)"></i>
<i style="background:linear-gradient(90deg,#00ff6b 0.0px,#00ffa3 37.6px,#00ffd7 75.2px,#00ffff 107.4px,#00f8ff 112.9px,#00ceff 150.5px,#00a8ff 188.1px,#0086ff 225.8px,#0069ff 263.4px,#0050ff 301.0px)"></i>
<i style="background:linear-gradient(90deg,#00ff6c 0.0px,#00ffa4 37.6px,#00ffd7 75.2px,#00ffff 107.0px,#00f8ff 112.9px,#00cdff 150.5px,#00a7ff 188.1px,#0086ff 225.8px,#0069ff 263.4px,#0050ff 301.0px)"></i>
<i style="background:linear-gradient(90deg,#00ff6d 0.0px,#00ffa5 37.6px,#00ffd8 75.2px,#00ffff 106.5px,#00f7ff 112.9px,#00cdff 150.5px,#00a7ff 188.1px,#0086ff 225.8px,#0068ff 263.4px,#0050ff 301.0px)"></i>
<i style="background:linear-gradient(90deg,#00ff6e 0.0px,#00ffa5 37.6px,#00ffd8 75.2px,#00ffff 106.1px,#00f7ff 112.9px,#00cdff 150.5px,#00a7ff 188.1px,#0085ff 225.8px,#0068ff 263.4px,#0050ff 301.0px)"></i>
<i style="background:linear-gradient(90deg,#00ff6e 0.0px,#00ffa6 37.6px,#00ffd9 75.2px,#00ffff 105.7px,#00f6ff 112.9px,#00ccff 150.5px,#00a6ff 188.1px,#0085ff 225.8px,#0068ff 263.4px,#004fff 301.0px)"></i>
<i style="background:linear-gradient(90deg,#00ff6f 0.0px,#00ffa6 37.6px,#00ffd9 75.2px,#00ffff 105.3px,#00f6ff 112.9px,#00ccff 150.5px,#00a6ff 188.1px,#0085ff 225.8px,#0068ff 263.4px,#004fff 301.0px)"></i>
<i style="background:linear-gradient(90deg,#00ff70 0.0px,#00ffa7 37.6px,#00ffda 75.2px,#00ffff 104.9px,#00f6ff 112.9px,#00cbff 150.5px,#00a6ff 188.1px,#0084ff 225.8px,#0068ff 263.4px,#004fff 301.0px)"></i>
<i style="background:linear-gradient(90deg,#00ff70 0.0px,#00ffa7 37.6px,#00ffda 75.2px,#00ffff 104.6px,#00f5ff 112.9px,#00cbff 150.5px,#00a5ff 188.1px,#0084ff 225.8px,#0067ff 263.4px,#004fff 301.0px)"></i>
<i style="background:linear-gradient(90deg,#00ff71 0.0px,#00ffa8 37.6px,#00ffdb 75.2px,#00ffff 104.3px,#00f5ff 112.9px,#00cbff 150.5px,#00a5ff 188.1px,#0084ff 225.8px,#0067ff 263.4px,#004fff 301.0px)"></i>
<i style="background:linear-gradient(90deg,#00ff71 0.0px,#00ffa8 37.6px,#00ffdb 75.2px,#00ffff 103.9px,#00f4ff 112.9px,#00caff 150.5px,#00a5ff 188.1px,#0084ff 225.8px,#0067ff 263.4px,#004fff 301.0px)"></i>
<i style="background:linear-gradient(90deg,#00ff72 0.0px,#00ffa9 37.6px,#00ffdc 75.2px,#00ffff 103.6px,#00f4ff 112.9px,#00caff 150.5px,#00a5ff 188.1px,#0084ff 225.8px,#0067ff 263.4px,#004fff 301.0px)"></i>
<i style="background:linear-gradient(90deg,#00ff72 0.0px,#00ffa9 37.6px,#00ffdc 75.2px,#00ffff 103.4px,#00f4ff 112.9px,#00caff 150.5px,#00a5ff 188.1px,#0084ff 225.8px,#0067ff 263.4px,#004fff 301.0px)"></i>
<i style="background:linear-gradient(90deg,#00ff73 0.0px,#00ffaa 37.6px,#00ffdc 75.2px,#00ffff 103.1px,#00f3ff 112.9px,#00caff 150.5px,#00a4ff 188.1px,#0083ff 225.8px,#0067ff 263.4px,#004fff 301.0px)"></i>
<i style="background:linear-gradient(90deg,#00ff73 0.0px,#00ffaa 37.6px,#00ffdd 75.2px,#00ffff 102.8px,#00f3ff 112.9px,#00c9ff 150.5px,#00a4ff 188.1px,#0083ff 225.8px,#0067ff 263.4px,#004fff 301.0px)"></i>
<i style="background:linear-gradient(90deg,#00ff74 0.0px,#00ffab 37.6px,#00ffdd 75.2px,#00ffff 102.6px,#00f3ff 112.9px,#00c9ff 150.5px,#00a4ff 188.1px,#0083ff 225.8px,#0067ff 263.4px,#004fff 301.0px)"></i>
<i style="background:linear-gradient(90deg,#00ff74 0.0px,#00ffab 37.6px,#00ffdd 75.2px,#00ffff 102.4px,#00f3ff 112.9px,#00c9ff 150.5px,#00a4ff 188.1px,#0083ff 225.8px,#0067ff 263.4px,#004fff 301.0px)"></i>
<i style="background:linear-gradient(90deg,#00ff75 0.0px,#00ffab 37.6px,#00ffde 75.2px,#00ffff 102.2px,#00f2ff 112.9px,#00c9ff 150.5px,#00a4ff 188.1px,#0083ff 225.8px,#0067ff 263.4px,#004fff 301.0px)"></i>
<i style="background:linear-gradient(90deg,#00ff75 0.0px,#00ffac 37.6px,#00ffde 75.2px,#00ffff 102.0px,#00f2ff 112.9px,#00c9ff 150.5px,#00a4ff 188.1px,#0083ff 225.8px,#0067ff 263.4px,#004fff 301.0px)"></i>
<i style="background:linear-gradient(90deg,#00ff75 0.0px,#00ffac 37.6px,#00ffde 75.2px,#00ffff 101.9px,#00f2ff 112.9px,#00c9ff 150.5px,#00a4ff 188.1px,#0083ff 225.8px,#0067ff 263.4px,#0050ff 301.0px)"></i>
<i style="background:linear-gradient(90deg,#00ff76 0.0px,#00ffac 37.6px,#00ffde 75.2px,#00ffff 101.7px,#00f2ff 112.9px,#00c9ff 150.5px,#00a4ff 188.1px,#0083ff 225.8px,#0067ff 263.4px,#0050ff 301.0px)"></i>
<i style="background:linear-gradient(90deg,#00ff76 0.0px,#00ffad 37.6px,#00ffdf 75.2px,#00ffff 101.6px,#00f2ff 112.9px,#00c9ff 150.5px,#00a4ff 188.1px,#0083ff 225.8px,#0067ff 263.4px,#0050ff 301.0px)"></i>
<i style="background:linear-gradient(90deg,#00ff76 0.0px,#00ffad 37.6px,#00ffdf 75.2px,#00ffff 101.5px,#00f2ff 112.9px,#00c9ff 150.5px,#00a4ff 188.1px,#0083ff 225.8px,#0068ff 263.4px,#0050ff 301.0px)"></i>
<i style="background:linear-gradient(90deg,#00ff77 0.0px,#00ffad 37.6px,#00ffdf 75.2px,#00ffff 101.4px,#00f2ff 112.9px,#00c8ff 150.5px,#00a4ff 188.1px,#0084ff 225.8px,#0068ff 263.4px,#0050ff 301.0px)"></i>
<i style="background:linear-gradient(90deg,#00ff77 0.0px,#00ffad 37.6px,#00ffdf 75.2px,#00ffff 101.3px,#00f2ff 112.9px,#00c8ff 150.5px,#00a4ff 188.1px,#0084ff 225.8px,#0068ff 263.4px,#0051ff 301.0px)"></i>
<i style="background:linear-gradient(90deg,#00ff77 0.0px,#00ffad 37.6px,#00ffdf 75.2px,#00ffff 101.3px,#00f1ff 112.9px,#00c9ff 150.5px,#00a4ff 188.1px,#0084ff 225.8px,#0068ff 263.4px,#0051ff 301.0px)"></i>
<i style="background:linear-gradient(90deg,#00ff77 0.0px,#00ffae 37.6px,#00ffdf 75.2px,#00ffff 101.2px,#00f1ff 112.9px,#00c9ff 150.5px,#00a4ff 188.1px,#0084ff 225.8px,#0068ff 263.4px,#0051ff 301.0px)"></i>
<i style="background:linear-gradient(90deg,#00ff78 0.0px,#00ffae 37.6px,#00ffdf 75.2px,#00ffff 101.2px,#00f1ff 112.9px,#00c9ff 150.5px,#00a4ff 188.1px,#0084ff 225.8px,#0069ff 263.4px,#0051ff 301.0px)"></i>
<i style="background:linear-gradient(90deg,#00ff78 0.0px,#00ffae 37.6px,#00ffdf 75.2px,#00ffff 101.2px,#00f1ff 112.9px,#00c9ff 150.5px,#00a4ff 188.1px,#0084ff 225.8px,#0069ff 263.4px,#0052ff 301.0px)"></i>
<i style="background:linear-gradient(90deg,#00ff78 0.0px,#00ffae 37.6px,#00ffdf 75.2px,#00ffff 101.2px,#00f1ff 112.9px,#00c9ff 150.5px,#00a5ff 188.1px,#0085ff 225.8px,#0069ff 263.4px,#0052ff 301.0px)"></i>
<i style="background:linear-gradient(90deg,#00ff78 0.0px,#00ffae 37.6px,#00ffdf 75.2px,#00ffff 101.3px,#00f2ff 112.9px,#00c9ff 150.5px,#00a5ff 188.1px,#0085ff 225.8px,#006aff 263.4px,#0053ff 301.0px)"></i>
<i style="background:linear-gradient(90deg,#00ff78 0.0px,#00ffae 37.6px,#00ffdf 75.2px,#00ffff 101.3px,#00f2ff 112.9px,#00c9ff 150.5px,#00a5ff 188.1px,#0085ff 225.8px,#006aff 263.4px,#0053ff 301.0px)"></i>
<i style="background:linear-gradient(90deg,#00ff78 0.0px,#00ffae 37.6px,#00ffdf 75.2px,#00ffff 101.4px,#00f2ff 112.9px,#00c9ff 150.5px,#00a5ff 188.1px,#0085ff 225.8px,#006aff 263.4px,#0053ff 301.0px)"></i>
<i style="background:linear-gradient(90deg,#00ff78 0.0px,#00ffae 37.6px,#00ffdf 75.2px,#00ffff 101.5px,#00f2ff 112.9px,#00c9ff 150.5px,#00a5ff 188.1px,#0086ff 225.8px,#006bff 263.4px,#0054ff 301.0px)"></i>
<i style="background:linear-gradient(90deg,#00ff78 0.0px,#00ffae 37.6px,#00ffdf 75.2px,#00ffff 101.6px,#00f2ff 112.9px,#00caff 150.5px,#00a6ff 188.1px,#0086ff 225.8px,#006bff 263.4px,#0054ff 301.0px)"></i>
<i style="background:linear-gradient(90deg,#00ff78 0.0px,#00ffae 37.6px,#00ffdf 75.2px,#00ffff 101.7px,#00f2ff 112.9px,#00caff 150.5px,#00a6ff 188.1px,#0086ff 225.8px,#006bff 263.4px,#0055ff 301.0px)"></i>
<i style="background:linear-gradient(90deg,#00ff78 0.0px,#00ffae 37.6px,#00ffdf 75.2px,#00ffff 101.8px,#00f2ff 112.9px,#00caff 150.5px,#00a6ff 188.1px,#0087ff 225.8px,#006cff 263.4px,#0055ff 301.0px)"></i>
<i style="background:linear-gradient(90deg,#00ff78 0.0px,#00ffae 37.6px,#00ffdf 75.2px,#00ffff 102.0px,#00f3ff 112.9px,#00caff 150.5px,#00a7ff 188.1px,#0087ff 225.8px,#006cff 263.4px,#0056ff 301.0px)"></i>
<i style="background:linear-gradient(90deg,#00ff78 0.0px,#00ffae 37.6px,#00ffdf 75.2px,#00ffff 102.2px,#00f3ff 112.9px,#00cbff 150.5px,#00a7ff 188.1px,#0088ff 225.8px,#006dff 263.4px,#0056ff 301.0px)"></i>
<i style="background:linear-gradient(90deg,#00ff78 0.0px,#00ffae 37.6px,#00ffde 75.2px,#00ffff 102.4px,#00f3ff 112.9px,#00cbff 150.5px,#00a7ff 188.1px,#0088ff 225.8px,#006dff 263.4px,#0057ff 301.0px)"></i>
<i style="background:linear-gradient(90deg,#00ff78 0.0px,#00ffad 37.6px,#00ffde 75.2px,#00ffff 102.6px,#00f3ff 112.9px,#00cbff 150.5px,#00a8ff 188.1px,#0089ff 225.8px,#006eff 263.4px,#0058ff 301.0px)"></i>
<i style="background:linear-gradient(90deg,#00ff78 0.0px,#00ffad 37.6px,#00ffde 75.2px,#00ffff 102.9px,#00f4ff 112.9px,#00ccff 150.5px,#00a8ff 188.1px,#0089ff 225.8px,#006eff 263.4px,#0058ff 301.0px)"></i>
<i style="background:linear-gradient(90deg,#00ff78 0.0px,#00ffad 37.6px,#00ffde 75.2px,#00ffff 103.1px,#00f4ff 112.9px,#00ccff 150.5px,#00a9ff 188.1px,#008aff 225.8px,#006fff 263.4px,#0059ff 301.0px)"></i>
<i style="background:linear-gradient(90deg,#00ff78 0.0px,#00ffad 37.6px,#00ffdd 75.2px,#00ffff 103.4px,#00f4ff 112.9px,#00ccff 150.5px,#00a9ff 188.1px,#008aff 225.8px,#0070ff 263.4px,#0059ff 301.0px)"></i>
<i style="background:linear-gradient(90deg,#00ff78 0.0px,#00ffad 37.6px,#00ffdd 75.2px,#00ffff 103.7px,#00f5ff 112.9px,#00cdff 150.5px,#00aaff 188.1px,#008bff 225.8px,#0070ff 263.4px,#005aff 301.0px)"></i>
<i style="background:linear-gradient(90deg,#00ff77 0.0px,#00ffac 37.6px,#00ffdd 75.2px,#00ffff 104.0px,#00f5ff 112.9px,#00cdff 150.5px,#00aaff 188.1px,#008bff 225.8px,#0071ff 263.4px,#005bff 301.0px)"></i>
<i style="background:linear-gradient(90deg,#00ff77 0.0px,#00ffac 37.6px,#00ffdd 75.2px,#00ffff 104.4px,#00f5ff 112.9px,#00ceff 150.5px,#00abff 188.1px,#008cff 225.8px,#0072ff 263.4px,#005cff 301.0px)"></i>
<i style="background:linear-gradient(90deg,#00ff77 0.0px,#00ffac 37.6px,#00ffdc 75.2px,#00ffff 104.7px,#00f6ff 112.9px,#00ceff 150.5px,#00abff 188.1px,#008cff 225.8px,#0072ff 263.4px,#005cff 301.0px)"></i>
<i style="background:linear-gradient(90deg,#00ff77 0.0px,#00ffab 37.6px,#00ffdc 75.2px,#00ffff 105.1px,#00f6ff 112.9px,#00cfff 150.5px,#00acff 188.1px,#008dff 225.8px,#0073ff 263.4px,#005dff 301.0px)"></i>
<i style="background:linear-gradient(90deg,#00ff76 0.0px,#00ffab 37.6px,#00ffdb 75.2px,#00ffff 105.5px,#00f7ff 112.9px,#00cfff 150.5px,#00acff 188.1px,#008eff 225.8px,#0074ff 263.4px,#005eff 301.0px)"></i>
<i style="background:linear-gradient(90deg,#00ff76 0.0px,#00ffab 37.6px,#00ffdb 75.2px,#00ffff 105.9px,#00f7ff 112.9px,#00d0ff 150.5px,#00adff 188.1px,#008eff 225.8px,#0074ff 263.4px,#005fff 301.0px)"></i>
<i style="background:linear-gradient(90deg,#00ff76 0.0px,#00ffaa 37.6px,#00ffdb 75.2px,#00ffff 106.4px,#00f8ff 112.9px,#00d0ff 150.5px,#00aeff 188.1px,#008fff 225.8px,#0075ff 263.4px,#0060ff 301.0px)"></i>
<i style="background:linear-gradient(90deg,#00ff76 0.0px,#00ffaa 37.6px,#00ffda 75.2px,#00ffff 106.8px,#00f8ff 112.9px,#00d1ff 150.5px,#00aeff 188.1px,#0090ff 225.8px,#0076ff 263.4px,#0060ff 301.0px)"></i>
<i style="background:linear-gradient(90deg,#00ff75 0.0px,#00ffaa 37.6px,#00ffda 75.2px,#00ffff 107.3px,#00f9ff 112.9px,#00d2ff 150.5px,#00afff 188.1px,#0091ff 225.8px,#0077ff 263.4px,#0061ff 301.0px)"></i>
<i style="background:linear-gradient(90deg,#00ff75 0.0px,#00ffa9 37.6px,#00ffd9 75.2px,#00ffff 107.8px,#00f9ff 112.9px,#00d2ff 150.5px,#00b0ff 188.1px,#0091ff 225.8px,#0078ff 263.4px,#0062ff 301.0px)"></i>
<i style="background:linear-gradient(90deg,#00ff74 0.0px,#00ffa9 37.6px,#00ffd9 75.2px,#00ffff 108.3px,#00faff 112.9px,#00d3ff 150.5px,#00b0ff 188.1px,#0092ff 225.8px,#0078ff 263.4px,#0063ff 301.0px)"></i>
<i style="background:linear-gradient(90deg,#00ff74 0.0px,#00ffa8 37.6px,#00ffd8 75.2px,#00ffff 108.9px,#00fbff 112.9px,#00d4ff 150.5px,#00b1ff 188.1px,#0093ff 225.8px,#0079ff 263.4px,#0064ff 301.0px)"></i>
<i style="background:linear-gradient(90deg,#00ff74 0.0px,#00ffa8 37.6px,#00ffd7 75.2px,#00ffff 109.5px,#00fbff 112.9px,#00d4ff 150.5px,#00b2ff 188.1px,#0094ff 225.8px,#007aff 263.4px,#0065ff 301.0px)"></i>
<i style="background:linear-gradient(90deg,#00ff73 0.0px,#00ffa7 37.6px,#00ffd7 75.2px,#00ffff 110.1px,#00fcff 112.9px,#00d5ff 150.5px,#00b3ff 188.1px,#0095ff 225.8px,#007bff 263.4px,#0066ff 301.0px)"></i>
<i style="background:linear-gradient(90deg,#00ff73 0.0px,#00ffa7 37.6px,#00ffd6 75.2px,#00ffff 110.7px,#00fdff 112.9px,#00d6ff 150.5px,#00b3ff 188.1px,#0096ff 225.8px,#007cff 263.4px,#0067ff 301.0px)"></i>
<i style="background:linear-gradient(90deg,#00ff72 0.0px,#00ffa6 37.6px,#00ffd6 75.2px,#00ffff 111.3px,#00fdff 112.9px,#00d7ff 150.5px,#00b4ff 188.1px,#0096ff 225.8px,#007dff 263.4px,#0068ff 301.0px)"></i>
<i style="background:linear-gradient(90deg,#00ff72 0.0px,#00ffa5 37.6px,#00ffd5 75.2px,#00ffff 112.0px,#00feff 112.9px,#00d7ff 150.5px,#00b5ff 188.1px,#0097ff 225.8px,#007eff 263.4px,#0069ff 301.0px)"></i>
<i style="background:linear-gradient(90deg,#00ff71 0.0px,#00ffa5 37.6px,#00ffd4 75.2px,#00ffff 112.7px,#00ffff 112.9px,#00d8ff 150.5px,#00b6ff 188.1px,#0098ff 225.8px,#007fff 263.4px,#006aff 301.0px)"></i>
<i style="background:linear-gradient(90deg,#00ff70 0.0px,#00ffa4 37.6px,#00ffd4 75.2px,#00fffe 112.9px,#00ffff 113.4px,#00d9ff 150.5px,#00b7ff 188.1px,#0099ff 225.8px,#0080ff 263.4px,#006bff 301.0px)"></i>
<i style="background:linear-gradient(90deg,#00ff70 0.0px,#00ffa4 37.6px,#00ffd3 75.2px,#00fffe 112.9px,#00ffff 114.1px,#00daff 150.5px,#00b8ff 188.1px,#009aff 225.8px,#0081ff 263.4px,#006cff 301.0px)"></i>
<i style="background:linear-gradient(90deg,#00ff6f 0.0px,#00ffa3 37.6px,#00ffd2 75.2px,#00fffd 112.9px,#00ffff 114.8px,#00dbff 150.5px,#00b9ff 188.1px,#009bff 225.8px,#0082ff 263.4px,#006dff 301.0px)"></i>
<i style="background:linear-gradient(90deg,#00ff6f 0.0px,#00ffa2 37.6px,#00ffd1 75.2px,#00fffc 112.9px,#00ffff 115.6px,#00dcff 150.5px,#00baff 188.1px,#009cff 225.8px,#0083ff 263.4px,#006fff 301.0px)"></i>
<i style="background:linear-gradient(90deg,#00ff6e 0.0px,#00ffa1 37.6px,#00ffd1 75.2px,#00fffb 112.9px,#00ffff 116.4px,#00ddff 150.5px,#00bbff 188.1px,#009dff 225.8px,#0084ff 263.4px,#0070ff 301.0px)"></i>
<i style="background:linear-gradient(90deg,#00ff6d 0.0px,#00ffa1 37.6px,#00ffd0 75.2px,#00fffa 112.9px,#00ffff 117.3px,#00ddff 150.5px,#00bcff 188.1px,#009eff 225.8px,#0085ff 263.4px,#0071ff 301.0px)"></i>
<i style="background:linear-gradient(90deg,#00ff6d 0.0px,#00ffa0 37.6px,#00ffcf 75.2px,#00fff9 112.9px,#00ffff 118.1px,#00deff 150.5px,#00bdff 188.1px,#009fff 225.8px,#0087ff 263.4px,#0072ff 301.0px)"></i>
<i style="background:linear-gradient(90deg,#00ff6c 0.0px,#00ff9f 37.6px,#00ffce 75.2px,#00fff9 112.9px,#00ffff 119.0px,#00dfff 150.5px,#00beff 188.1px,#00a1ff 225.8px,#0088ff 263.4px,#0073ff 301.0px)"></i>
<i style="background:linear-gradient(90deg,#00ff6b 0.0px,#00ff9e 37.6px,#00ffcd 75.2px,#00fff8 112.9px,#00ffff 119.9px,#00e0ff 150.5px,#00bfff 188.1px,#00a2ff 225.8px,#0089ff 263.4px,#0075ff 301.0px)"></i>
<i style="background:linear-gradient(90deg,#00ff6a 0.0px,#00ff9e 37.6px,#00ffcc 75.2px,#00fff7 112.9px,#00ffff 120.8px,#00e1ff 150.5px,#00c0ff 188.1px,#00a3ff 225.8px,#008aff 263.4px,#0076ff 301.0px)"></i>
<i style="background:linear-gradient(90deg,#00ff6a 0.0px,#00ff9d 37.6px,#00ffcb 75.2px,#00fff6 112.9px,#00ffff 121.8px,#00e2ff 150.5px,#00c1ff 188.1px,#00a4ff 225.8px,#008bff 263.4px,#0077ff 301.0px)"></i>
<i style="background:linear-gradient(90deg,#00ff69 0.0px,#00ff9c 37.6px,#00ffca 75.2px,#00fff5 112.9px,#00ffff 122.7px,#00e4ff 150.5px,#00c2ff 188.1px,#00a5ff 225.8px,#008dff 263.4px,#0079ff 301.0px)"></i>
<i style="background:linear-gradient(90deg,#00ff68 0.0px,#00ff9b 37.6px,#00ffc9 75.2px,#00fff4 112.9px,#00ffff 123.8px,#00e5ff 150.5px,#00c3ff 188.1px,#00a6ff 225.8px,#008eff 263.4px,#007aff 301.0px)"></i>
<i style="background:linear-gradient(90deg,#00ff67 0.0px,#00ff9a 37.6px,#00ffc9 75.2px,#00fff3 112.9px,#00ffff 124.8px,#00e6ff 150.5px,#00c4ff 188.1px,#00a8ff 225.8px,#008fff 263.4px,#007bff 301.0px)"></i>
<i style="background:linear-gradient(90deg,#00ff66 0.0px,#00ff99 37.6px,#00ffc8 75.2px,#00fff2 112.9px,#00ffff 125.9px,#00e7ff 150.5px,#00c6ff 188.1px,#00a9ff 225.8px,#0091ff 263.4px,#007dff 301.0px)"></i>
<i style="background:linear-gradient(90deg,#00ff65 0.0px,#00ff98 37.6px,#00ffc6 75.2px,#00fff0 112.9px,#00ffff 126.9px,#00e8ff 150.5px,#00c7ff 188.1px,#00aaff 225.8px,#0092ff 263.4px,#007eff 301.0px)"></i>
<i style="background:linear-gradient(90deg,#00ff64 0.0px,#00ff97 37.6px,#00ffc5 75.2px,#00ffef 112.9px,#00ffff 128.1px,#00e9ff 150.5px,#00c8ff 188.1px,#00abff 225.8px,#0093ff 263.4px,#007fff 301.0px)"></i>
<i style="background:linear-gradient(90deg,#00ff63 0.0px,#00ff96 37.6px,#00ffc4 75.2px,#00ffee 112.9px,#00ffff 129.2px,#00eaff 150.5px,#00c9ff 188.1px,#00adff 225.8px,#0095ff 263.4px,#0081ff 301.0px)"></i>
<i style="background:linear-gradient(90deg,#00ff63 0.0px,#00ff95 37.6px,#00ffc3 75.2px,#00ffed 112.9px,#00ffff 130.4px,#00ecff 150.5px,#00cbff 188.1px,#00aeff 225.8px,#0096ff 263.4px,#0082ff 301.0px)"></i>
<i style="background:linear-gradient(90deg,#00ff62 0.0px,#00ff94 37.6px,#00ffc2 75.2px,#00ffec 112.9px,#00ffff 131.6px,#00edff 150.5px,#00ccff 188.1px,#00b0ff 225.8px,#0098ff 263.4px,#0084ff 301.0px)"></i>
<i style="background:linear-gradient(90deg,#00ff61 0.0px,#00ff93 37.6px,#00ffc1 75.2px,#00ffeb 112.9px,#00ffff 132.8px,#00eeff 150.5px,#00cdff 188.1px,#00b1ff 225.8px,#0099ff 263.4px,#0085ff 301.0px)"></i>
<i style="background:linear-gradient(90deg,#00ff60 0.0px,#00ff92 37.6px,#00ffc0 75.2px,#00ffe9 112.9px,#00ffff 134.1px,#00efff 150.5px,#00cfff 188.1px,#00b2ff 225.8px,#009aff 263.4px,#0087ff 301.0px)"></i>
<i style="background:linear-gradient(90deg,#00ff5e 0.0px,#00ff91 37.6px,#00ffbf 75.2px,#00ffe8 112.9px,#00ffff 135.4px,#00f1ff 150.5px,#00d0ff 188.1px,#00b4ff 225.8px,#009cff 263.4px,#0089ff 301.0px)"></i>
<i style="background:linear-gradient(90deg,#00ff5d 0.0px,#00ff90 37.6px,#00ffbe 75.2px,#00ffe7 112.9px,#00ffff 136.7px,#00f2ff 150.5px,#00d1ff 188.1px,#00b5ff 225.8px,#009dff 263.4px,#008aff 301.0px)"></i>
<i style="background:linear-gradient(90deg,#00ff5c 0.0px,#00ff8f 37.6px,#00ffbc 75.2px,#00ffe6 112.9px,#00ffff 138.1px,#00f3ff 150.5px,#00d3ff 188.1px,#00b7ff 225.8px,#009fff 263.4px,#008cff 301.0px)"></i>
<i style="background:linear-gradient(90deg,#00ff5b 0.0px,#00ff8d 37.6px,#00ffbb 75.2px,#00ffe4 112.9px,#00ffff 139.5px,#00f5ff 150.5px,#00d4ff 188.1px,#00b8ff 225.8px,#00a1ff 263.4px,#008dff 301.0px)"></i>
<i style="background:linear-gradient(90deg,#00ff5a 0.0px,#00ff8c 37.6px,#00ffba 75.2px,#00ffe3 112.9px,#00ffff 140.9px,#00f6ff 150.5px,#00d6ff 188.1px,#00baff 225.8px,#00a2ff 263.4px,#008fff 301.0px)"></i>
<i style="background:linear-gradient(90deg,#00ff59 0.0px,#00ff8b 37.6px,#00ffb9 75.2px,#00ffe2 112.9px,#00ffff 142.4px,#00f7ff 150.5px,#00d7ff 188.1px,#00bbff 225.8px,#00a4ff 263.4px,#0091ff 301.0px)"></i>
<i style="background:linear-gradient(90deg,#00ff58 0.0px,#00ff8a 37.6px,#00ffb7 75.2px,#00ffe0 112.9px,#00ffff 143.9px,#00f9ff 150.5px,#00d9ff 188.1px,#00bdff 225.8px,#00a5ff 263.4px,#0092ff 301.0px)"></i>
<i style="background:linear-gradient(90deg,#00ff57 0.0px,#00ff88 37.6px,#00ffb6 75.2px,#00ffdf 112.9px,#00ffff 145.5px,#00faff 150.5px,#00daff 188.1px,#00beff 225.8px,#00a7ff 263.4px,#0094ff 301.0px)"></i>
<i style="background:linear-gradient(90deg,#00ff55 0.0px,#00ff87 37.6px,#00ffb5 75.2px,#00ffde 112.9px,#00ffff 147.0px,#00fcff 150.5px,#00dcff 188.1px,#00c0ff 225.8px,#00a9ff 263.4px,#0096ff 301.0px)"></i>
<i style="background:linear-gradient(90deg,#00ff54 0.0px,#00ff86 37.6px,#00ffb3 75.2px,#00ffdc 112.9px,#00ffff 148.6px,#00fdff 150.5px,#00ddff 188.1px,#00c2ff 225.8px,#00aaff 263.4px,#0097ff 301.0px)"></i>
<i style="background:linear-gradient(90deg,#00ff53 0.0px,#00ff85 37.6px,#00ffb2 75.2px,#00ffdb 112.9px,#00ffff 150.3px,#00ffff 150.5px,#00dfff 188.1px,#00c3ff 225.8px,#00acff 263.4px,#0099ff 301.0px)"></i>
<i style="background:linear-gradient(90deg,#00ff52 0.0px,#00ff83 37.6px,#00ffb0 75.2px,#00ffd9 112.9px,#00fffe 150.5px,#00ffff 152.0px,#00e0ff 188.1px,#00c5ff 225.8px,#00aeff 263.4px,#009bff 301.0px)"></i>
<i style="background:linear-gradient(90deg,#00ff50 0.0px,#00ff82 37.6px,#00ffaf 75.2px,#00ffd8 112.9px,#00fffc 150.5px,#00ffff 153.7px,#00e2ff 188.1px,#00c7ff 225.8px,#00afff 263.4px,#009dff 301.0px)"></i>
<i style="background:linear-gradient(90deg,#00ff4f 0.0px,#00ff81 37.6px,#00ffae 75.2px,#00ffd6 112.9px,#00fffb 150.5px,#00ffff 155.5px,#00e4ff 188.1px,#00c8ff 225.8px,#00b1ff 263.4px,#009fff 301.0px)"></i>
<i style="background:linear-gradient(90deg,#00ff4e 0.0px,#00ff7f 37.6px,#00ffac 75.2px,#00ffd5 112.9px,#00fff9 150.5px,#00ffff 157.3px,#00e5ff 188.1px,#00caff 225.8px,#00b3ff 263.4px,#00a1ff 301.0px)"></i>
<i style="background:linear-gradient(90deg,#00ff4c 0.0px,#00ff7e 37.6px,#00ffab 75.2px,#00ffd3 112.9px,#00fff7 150.5px,#00ffff 159.2px,#00e7ff 188.1px,#00ccff 225.8px,#00b5ff 263.4px,#00a2ff 301.0px)"></i>
<i style="background:linear-gradient(90deg,#00ff4b 0.0px,#00ff7c 37.6px,#00ffa9 75.2px,#00ffd2 112.9px,#00fff6 150.5px,#00ffff 161.1px,#00e9ff 188.1px,#00cdff 225.8px,#00b7ff 263.4px,#00a4ff 301.0px)"></i>
<i style="background:linear-gradient(90deg,#00ff4a 0.0px,#00ff7b 37.6px,#00ffa8 75.2px,#00ffd0 112.9px,#00fff4 150.5px,#00ffff 163.0px,#00eaff 188.1px,#00cfff 225.8px,#00b9ff 263.4px,#00a6ff 301.0px)"></i>
<i style="background:linear-gradient(90deg,#00ff48 0.0px,#00ff79 37.6px,#00ffa6 75.2px,#00ffce 112.9px,#00fff2 150.5px,#00ffff 165.0px,#00ecff 188.1px,#00d1ff 225.8px,#00baff 263.4px,#00a8ff 301.0px)"></i>
<i style="background:linear-gradient(90deg,#00ff47 0.0px,#00ff78 37.6px,#00ffa4 75.2px,#00ffcd 112.9px,#00fff1 150.5px,#00ffff 167.1px,#00eeff 188.1px,#00d3ff 225.8px,#00bcff 263.4px,#00aaff 301.0px)"></i>
<i style="background:linear-gradient(90deg,#00ff45 0.0px,#00ff76 37.6px,#00ffa3 75.2px,#00ffcb 112.9px,#00ffef 150.5px,#00ffff 169.1px,#00f0ff 188.1px,#00d5ff 225.8px,#00beff 263.4px,#00acff 301.0px)"></i>
<i style="background:linear-gradient(90deg,#00ff44 0.0px,#00ff75 37.6px,#00ffa1 75.2px,#00ffc9 112.9px,#00ffed 150.5px,#00ffff 171.3px,#00f2ff 188.1px,#00d7ff 225.8px,#00c0ff 263.4px,#00aeff 301.0px)"></i>
<i style="background:linear-gradient(90deg,#00ff42 0.0px,#00ff73 37.6px,#00ffa0 75.2px,#00ffc8 112.9px,#00ffeb 150.5px,#00ffff 173.5px,#00f3ff 188.1px,#00d9ff 225.8px,#00c2ff 263.4px,#00b0ff 301.0px)"></i>
<i style="background:linear-gradient(90deg,#00ff41 0.0px,#00ff72 37.6px,#00ff9e 75.2px,#00ffc6 112.9px,#00ffea 150.5px,#00ffff 175.7px,#00f5ff 188.1px,#00daff 225.8px,#00c4ff 263.4px,#00b2ff 301.0px)"></i>
<i style="background:linear-gradient(90deg,#00ff3f 0.0px,#00ff70 37.6px,#00ff9c 75.2px,#00ffc4 112.9px,#00ffe8 150.5px,#00ffff 178.0px,#00f7ff 188.1px,#00dcff 225.8px,#00c6ff 263.4px,#00b4ff 301.0px)"></i>
<i style="background:linear-gradient(90deg,#00ff3e 0.0px,#00ff6e 37.6px,#00ff9b 75.2px,#00ffc2 112.9px,#00ffe6 150.5px,#00ffff 180.4px,#00f9ff 188.1px,#00deff 225.8px,#00c8ff 263.4px,#00b6ff 301.0px)"></i>
<i style="background:linear-gradient(90deg,#00ff3c 0.0px,#00ff6d 37.6px,#00ff99 75.2px,#00ffc1 112.9px,#00ffe4 150.5px,#00ffff 182.8px,#00fbff 188.1px,#00e0ff 225.8px,#00caff 263.4px,#00b8ff 301.0px)"></i>
<i style="background:linear-gradient(90deg,#00ff3a 0.0px,#00ff6b 37.6px,#00ff97 75.2px,#00ffbf 112.9px,#00ffe2 150.5px,#00ffff 185.3px,#00fdff 188.1px,#00e2ff 225.8px,#00ccff 263.4px,#00bbff 301.0px)"></i>
<i style="background:linear-gradient(90deg,#00ff39 0.0px,#00ff69 37.6px,#00ff95 75.2px,#00ffbd 112.9px,#00ffe0 150.5px,#00ffff 187.9px,#00ffff 188.1px,#00e4ff 225.8px,#00ceff 263.4px,#00bdff 301.0px)"></i>
<i style="background:linear-gradient(90deg,#00ff37 0.0px,#00ff68 37.6px,#00ff94 75.2px,#00ffbb 112.9px,#00ffde 150.5px,#00fffd 188.1px,#00ffff 190.5px,#00e6ff 225.8px,#00d0ff 263.4px,#00bfff 301.0px)"></i>
<i style="background:linear-gradient(90deg,#00ff35 0.0px,#00ff66 37.6px,#00ff92 75.2px,#00ffb9 112.9px,#00ffdc 150.5px,#00fffb 188.1px,#00ffff 193.2px,#00e8ff 225.8px,#00d3ff 263.4px,#00c1ff 301.0px)"></i>
<i style="background:linear-gradient(90deg,#00ff34 0.0px,#00ff64 37.6px,#00ff90 75.2px,#00ffb7 112.9px,#00ffdb 150.5px,#00fff9 188.1px,#00ffff 195.9px,#00ebff 225.8px,#00d5ff 263.4px,#00c3ff 301.0px)"></i>
<i style="background:linear-gradient(90deg,#00ff32 0.0px,#00ff62 37.6px,#00ff8e 75.2px,#00ffb6 112.9px,#00ffd9 150.5px,#00fff7 188.1px,#00ffff 198.8px,#00edff 225.8px,#00d7ff 263.4px,#00c6ff 301.0px)"></i>
<i style="background:linear-gradient(90deg,#00ff30 0.0px,#00ff60 37.6px,#00ff8c 75.2px,#00ffb4 112.9px,#00ffd7 150.5px,#00fff5 188.1px,#00ffff 201.7px,#00efff 225.8px,#00d9ff 263.4px,#00c8ff 301.0px)"></i>
<i style="background:linear-gradient(90deg,#00ff2e 0.0px,#00ff5f 37.6px,#00ff8a 75.2px,#00ffb2 112.9px,#00ffd5 150.5px,#00fff3 188.1px,#00ffff 204.7px,#00f1ff 225.8px,#00dbff 263.4px,#00caff 301.0px)"></i>
<i style="background:linear-gradient(90deg,#00ff2d 0.0px,#00ff5d 37.6px,#00ff88 75.2px,#00ffb0 112.9px,#00ffd2 150.5px,#00fff1 188.1px,#00ffff 207.8px,#00f3ff 225.8px,#00deff 263.4px,#00ccff 301.0px)"></i>
<i style="background:linear-gradient(90deg,#00ff2b 0.0px,#00ff5b 37.6px,#00ff86 75.2px,#00ffae 112.9px,#00ffd0 150.5px,#00ffef 188.1px,#00ffff 211.0px,#00f5ff 225.8px,#00e0ff 263.4px,#00cfff 301.0px)"></i>
<i style="background:linear-gradient(90deg,#00ff29 0.0px,#00ff59 37.6px,#00ff84 75.2px,#00ffac 112.9px,#00ffce 150.5px,#00ffed 188.1px,#00ffff 214.2px,#00f8ff 225.8px,#00e2ff 263.4px,#00d1ff 301.0px)"></i>
<i style="background:linear-gradient(90deg,#00ff27 0.0px,#00ff57 37.6px,#00ff83 75.2px,#00ffaa 112.9px,#00ffcc 150.5px,#00ffea 188.1px,#00ffff 217.6px,#00faff 225.8px,#00e4ff 263.4px,#00d3ff 301.0px)"></i>
</div>
<div class="frm" style="left:40px;top:4px;width:287px;height:284px"></div>
<div class="frm" style="left:403px;top:4px;width:301px;height:286px"></div>
<svg width="706" height="339" viewBox="0 0 706 339">
<defs><clipPath id="ca"><rect x="40" y="4" width="287" height="284"/></clipPath><clipPath id="cb"><rect x="403" y="4" width="301" height="286"/></clipPath></defs>
<g fill="none" stroke="#c02222" stroke-width="1.0" stroke-opacity="0.85">
<g clip-path="url(#ca)">
<path d="M327.0 230.0L325.8 231.8L324.7 233.5L323.6 235.2L322.5 237.0L321.5 238.8L320.5 240.7L319.6 242.5L318.6 244.5L317.8 246.4L316.9 248.2L316.1 250.2L315.4 252.2L314.7 254.2L314.0 256.2L313.4 258.2L312.8 260.2L312.3 262.2L311.8 264.2L311.4 266.2L311.0 268.2L310.7 270.2L310.3 272.2L310.1 274.2L309.9 276.2L309.7 278.2L309.5 280.2L309.4 282.2L309.4 284.2L309.3 286.2L309.3 288.0"/>
<path d="M327.0 109.1L325.0 109.7L323.0 110.3L321.0 110.9L319.0 111.6L317.0 112.2L315.0 112.9L313.0 113.6L311.0 114.4L309.0 115.1L307.0 115.8L305.0 116.6L303.0 117.4L301.0 118.2L299.0 119.0L297.1 119.8L295.2 120.5L293.2 121.4L291.3 122.2L289.5 123.1L287.5 124.0L285.5 124.9L283.5 125.9L281.5 126.9L279.5 127.9L277.5 128.9L275.5 130.0L273.6 131.0L271.8 132.0L270.0 133.0L268.3 134.0L266.5 135.1L264.8 136.1L263.0 137.2L261.2 138.3L259.5 139.4L257.8 140.6L256.0 141.8L254.2 143.0L252.5 144.2L250.8 145.5L249.0 146.8L247.4 148.0L245.8 149.2L244.2 150.5L242.5 151.9L240.9 153.2L239.2 154.6L237.7 156.0L236.1 157.5L234.5 159.0L233.0 160.4L231.5 161.9L230.0 163.4L228.5 164.9L227.0 166.5L225.7 168.0L224.3 169.5L223.0 171.1L221.6 172.8L220.2 174.4L219.0 176.0L217.8 177.6L216.5 179.3L215.3 181.0L214.1 182.8L213.0 184.4L211.8 186.2L210.8 188.0L209.7 189.8L208.7 191.5L207.7 193.2L206.8 195.1L205.8 197.0L204.8 199.0L203.8 201.0L203.0 202.9L202.2 204.8L201.4 206.8L200.6 208.8L199.9 210.8L199.2 212.8L198.5 214.7L197.9 216.8L197.3 218.8L196.8 220.7L196.2 222.7L195.8 224.8L195.3 226.8L194.9 228.8L194.5 230.8L194.2 232.8L193.9 234.8L193.6 236.8L193.3 238.8L193.1 240.8L192.9 242.8L192.8 244.8L192.7 246.8L192.6 248.8L192.5 250.8L192.5 252.8L192.5 254.8L192.5 256.8L192.5 258.8L192.6 260.8L192.7 262.8L192.8 264.8L193.0 266.8L193.2 268.8L193.4 270.8L193.6 272.8L193.9 274.8L194.1 276.8L194.4 278.8L194.8 280.8L195.1 282.8L195.5 284.8L195.9 286.8L196.2 288.0"/>
<path d="M327.0 40.8L325.0 41.1L323.0 41.4L321.0 41.7L319.0 42.0L317.0 42.4L315.0 42.7L313.0 43.0L311.0 43.4L309.0 43.7L307.0 44.1L305.0 44.4L303.0 44.8L301.0 45.2L299.0 45.6L297.0 46.0L295.0 46.4L293.0 46.8L291.0 47.2L289.0 47.7L287.0 48.1L285.0 48.6L283.0 49.0L281.0 49.5L279.0 50.0L277.0 50.5L275.0 51.0L273.0 51.5L271.0 52.0L269.0 52.5L267.0 53.1L265.0 53.6L263.0 54.2L261.0 54.7L259.0 55.3L257.0 55.9L255.1 56.5L253.0 57.1L251.0 57.8L249.0 58.4L247.0 59.0L245.0 59.7L243.0 60.4L241.0 61.1L239.0 61.8L237.0 62.5L235.0 63.2L233.0 63.9L231.0 64.7L229.0 65.4L227.0 66.2L225.0 67.0L223.2 67.8L221.2 68.5L219.2 69.4L217.2 70.2L215.2 71.1L213.2 72.0L211.2 72.9L209.4 73.8L207.5 74.6L205.7 75.5L203.8 76.4L201.8 77.4L199.8 78.4L197.8 79.5L195.8 80.5L193.9 81.5L192.1 82.5L190.2 83.5L188.5 84.5L186.8 85.5L185.0 86.5L183.2 87.6L181.5 88.6L179.8 89.7L178.0 90.8L176.2 91.9L174.5 93.1L172.8 94.2L171.0 95.4L169.2 96.7L167.5 97.9L165.8 99.2L164.0 100.5L162.3 101.8L160.7 103.0L159.1 104.2L157.5 105.5L155.8 106.9L154.2 108.2L152.5 109.7L150.8 111.2L149.2 112.6L147.8 113.9L146.2 115.3L144.8 116.8L143.3 118.2L141.8 119.8L140.3 121.2L138.9 122.8L137.5 124.2L136.1 125.8L134.8 127.2L133.3 129.0L131.8 130.8L130.5 132.3L129.2 133.9L128.0 135.5L126.8 137.1L125.6 138.8L124.3 140.5L123.1 142.2L121.9 144.0L120.8 145.7L119.6 147.5L118.5 149.2L117.5 151.0L116.5 152.8L115.5 154.5L114.5 156.3L113.5 158.2L112.6 160.0L111.6 162.0L110.6 164.0L109.8 165.9L108.8 168.0L108.0 170.0L107.2 171.9L106.5 173.8L105.8 175.8L105.1 177.8L104.4 179.8L103.8 181.7L103.1 183.8L102.6 185.8L102.0 187.8L101.5 189.7L101.0 191.7L100.5 193.8L100.1 195.8L99.7 197.8L99.3 199.8L99.0 201.8L98.7 203.8L98.4 205.8L98.1 207.8L97.9 209.8L97.7 211.8L97.5 213.8L97.3 215.8L97.2 217.8L97.1 219.8L97.0 221.8L96.9 223.8L96.9 225.8L96.9 227.8L96.9 229.8L96.9 231.8L97.0 233.8L97.1 235.8L97.2 237.8L97.3 239.8L97.5 241.8L97.6 243.8L97.8 245.8L98.0 247.8L98.3 249.8L98.5 251.8L98.8 253.8L99.1 255.8L99.5 257.8L99.8 259.8L100.2 261.8L100.5 263.8L101.0 265.8L101.4 267.8L101.8 269.8L102.3 271.8L102.8 273.8L103.3 275.8L103.8 277.8L104.4 279.8L104.9 281.8L105.5 283.7L106.1 285.8L106.7 287.8L106.8 288.0"/>
<path d="M217.8 4.0L215.8 4.5L213.8 5.0L211.9 5.5L209.8 6.1L207.8 6.6L205.8 7.1L203.8 7.7L201.8 8.2L199.8 8.8L197.8 9.4L195.8 10.0L193.8 10.6L191.8 11.2L189.8 11.8L187.8 12.4L185.8 13.1L183.8 13.7L181.8 14.4L179.8 15.1L177.8 15.7L175.8 16.4L173.8 17.1L171.8 17.9L169.8 18.6L167.8 19.3L165.8 20.1L163.8 20.8L161.8 21.6L159.8 22.4L157.8 23.2L155.8 24.0L153.8 24.8L151.8 25.7L149.9 26.5L148.0 27.3L146.0 28.2L144.0 29.1L142.0 30.0L140.0 30.9L138.0 31.9L136.2 32.8L134.2 33.7L132.2 34.7L130.2 35.7L128.2 36.7L126.3 37.8L124.5 38.7L122.6 39.8L120.8 40.7L119.0 41.7L117.2 42.7L115.5 43.7L113.8 44.7L112.0 45.8L110.2 46.8L108.5 47.9L106.8 49.0L105.0 50.1L103.3 51.2L101.5 52.4L99.8 53.6L98.0 54.8L96.2 56.0L94.5 57.2L92.8 58.5L91.0 59.8L89.3 61.0L87.7 62.2L86.1 63.5L84.5 64.8L82.9 66.0L81.2 67.4L79.6 68.8L78.0 70.1L76.4 71.5L74.8 72.9L73.3 74.2L71.8 75.6L70.3 77.0L68.8 78.5L67.2 79.9L65.8 81.4L64.2 82.9L62.8 84.5L61.3 86.0L59.9 87.5L58.5 89.0L57.2 90.5L55.8 92.2L54.4 93.8L53.0 95.4L51.7 97.0L50.3 98.8L49.0 100.5L47.8 102.1L46.5 103.8L45.3 105.5L44.0 107.2L42.8 109.0L41.7 110.8L40.5 112.5L40.0 113.3"/>
<path d="M55.8 4.0L54.0 5.0L52.3 6.0L50.5 7.0L48.8 8.1L47.0 9.1L45.2 10.2L43.5 11.2L41.8 12.4L40.0 13.5"/>
</g><g clip-path="url(#cb)">
<path d="M704.0 96.4L702.0 97.2L700.2 98.0L698.2 98.8L696.2 99.7L694.2 100.6L692.2 101.5L690.2 102.4L688.4 103.2L686.5 104.2L684.5 105.1L682.7 106.0L680.8 107.0L678.8 108.0L676.8 109.0L674.8 110.0L673.0 111.0L671.1 112.0L669.3 113.0L667.5 114.0L665.8 115.0L664.0 116.0L662.2 117.1L660.5 118.1L658.8 119.2L657.0 120.2L655.2 121.4L653.6 122.5L651.8 123.7L650.0 124.9L648.2 126.1L646.5 127.4L644.8 128.6L643.0 129.9L641.3 131.2L639.7 132.5L638.0 133.9L636.3 135.2L634.8 136.6L633.2 138.0L631.5 139.5L630.0 140.9L628.5 142.4L627.0 143.9L625.5 145.5L624.1 147.0L622.8 148.5L621.3 150.2L620.0 151.9L618.8 153.5L617.5 155.2L616.3 157.0L615.1 158.8L614.0 160.5L613.1 162.2L612.0 164.2L611.0 166.2L610.2 168.2L609.4 170.2L608.7 172.2L608.1 174.2L607.6 176.2L607.2 178.2L606.9 180.2L606.6 182.2L606.5 184.2L606.5 186.2L606.5 188.2L606.7 190.2L607.0 192.2L607.4 194.2L607.8 196.2L608.4 198.2L609.1 200.2L609.9 202.2L610.8 204.2L611.7 206.0L612.7 207.8L613.7 209.5L614.9 211.2L616.1 213.0L617.5 214.7L619.0 216.5L620.3 218.0L621.7 219.5L623.2 221.0L624.8 222.5L626.2 223.8L627.9 225.2L629.5 226.6L631.2 228.0L633.0 229.2L634.7 230.5L636.5 231.8L638.2 232.9L640.0 234.1L641.8 235.2L643.5 236.2L645.2 237.2L647.0 238.2L648.9 239.2L650.8 240.2L652.8 241.2L654.8 242.2L656.8 243.2L658.8 244.1L660.7 245.0L662.8 245.9L664.7 246.8L666.8 247.6L668.8 248.4L670.8 249.2L672.8 249.9L674.8 250.7L676.8 251.4L678.8 252.1L680.8 252.8L682.8 253.5L684.8 254.1L686.7 254.8L688.8 255.4L690.8 256.0L692.8 256.6L694.8 257.2L696.8 257.7L698.7 258.2L700.8 258.8L702.8 259.3L704.0 259.6"/>
<path d="M704.0 34.0L702.0 34.6L700.0 35.1L698.0 35.7L696.0 36.2L694.0 36.8L692.0 37.4L690.0 37.9L688.0 38.5L686.0 39.1L684.0 39.7L682.0 40.3L680.0 40.9L678.0 41.5L676.0 42.1L674.0 42.7L672.0 43.3L670.0 44.0L668.0 44.6L666.0 45.2L664.0 45.9L662.1 46.5L660.0 47.2L658.0 47.8L656.0 48.5L654.0 49.2L652.0 49.9L650.0 50.6L648.0 51.2L646.0 51.9L644.0 52.7L642.0 53.4L640.0 54.1L638.0 54.8L636.0 55.6L634.1 56.2L632.1 57.0L630.1 57.8L628.1 58.5L626.2 59.2L624.3 60.0L622.3 60.8L620.4 61.5L618.6 62.2L616.7 63.0L614.8 63.8L612.8 64.6L610.8 65.4L608.8 66.2L606.8 67.1L604.8 68.0L602.8 68.9L600.8 69.7L598.8 70.6L596.8 71.5L594.8 72.4L592.9 73.2L591.0 74.1L589.1 75.0L587.2 75.9L585.4 76.8L583.5 77.7L581.5 78.6L579.5 79.6L577.7 80.5L575.8 81.5L573.8 82.5L571.8 83.5L570.0 84.4L568.0 85.5L566.1 86.5L564.2 87.5L562.4 88.5L560.6 89.5L558.8 90.5L557.0 91.5L555.3 92.5L553.5 93.5L551.8 94.5L550.0 95.6L548.2 96.6L546.5 97.7L544.8 98.8L543.0 99.9L541.2 101.0L539.5 102.1L537.8 103.2L536.0 104.4L534.3 105.5L532.5 106.7L530.8 107.9L529.0 109.2L527.2 110.4L525.5 111.7L523.8 113.0L522.0 114.2L520.4 115.5L518.8 116.8L517.2 118.0L515.6 119.2L514.0 120.6L512.3 122.0L510.5 123.5L508.8 125.0L507.2 126.3L505.8 127.7L504.2 129.1L502.8 130.5L501.2 131.9L499.8 133.4L498.2 134.9L496.8 136.5L495.3 138.0L493.9 139.5L492.6 141.0L491.2 142.6L489.8 144.2L488.5 145.9L487.2 147.4L486.0 149.1L484.8 150.8L483.5 152.5L482.3 154.2L481.1 156.0L480.0 157.8L479.0 159.5L478.0 161.2L476.9 163.2L475.8 165.2L474.8 167.2L474.0 169.1L473.2 171.0L472.4 173.0L471.6 175.0L471.0 176.9L470.4 179.0L469.8 181.0L469.3 183.0L468.9 185.0L468.5 187.0L468.3 189.0L468.0 191.0L467.9 193.0L467.8 195.0L467.7 197.0L467.8 199.0L467.9 201.0L468.0 203.0L468.3 205.0L468.6 207.0L468.9 209.0L469.4 211.0L469.9 213.0L470.5 215.0L471.1 217.0L471.9 219.0L472.7 221.0L473.5 222.9L474.4 224.8L475.4 226.8L476.5 228.7L477.6 230.5L478.7 232.2L479.8 234.0L481.0 235.7L482.2 237.4L483.5 239.0L484.8 240.6L486.2 242.2L487.7 244.0L489.1 245.5L490.5 247.0L492.0 248.5L493.5 249.9L495.0 251.3L496.5 252.7L498.2 254.2L500.0 255.7L501.6 257.0L503.2 258.2L504.8 259.5L506.4 260.8L508.1 262.0L509.9 263.2L511.7 264.5L513.5 265.7L515.2 266.9L517.0 268.0L518.8 269.1L520.5 270.1L522.2 271.2L524.0 272.2L525.8 273.2L527.5 274.2L529.4 275.2L531.2 276.2L533.2 277.2L535.0 278.2L537.0 279.2L539.0 280.2L541.0 281.1L542.8 282.0L544.8 282.9L546.6 283.8L548.5 284.6L550.5 285.5L552.4 286.2L554.2 287.0L556.2 287.9L558.2 288.7L560.2 289.5L561.6 290.0"/>
<path d="M653.8 4.0L651.8 4.6L649.8 5.1L647.8 5.7L645.8 6.2L643.8 6.8L641.8 7.4L639.8 7.9L637.8 8.5L635.8 9.1L633.8 9.7L631.8 10.2L629.8 10.9L627.8 11.5L625.8 12.1L623.8 12.7L621.8 13.3L619.8 13.9L617.8 14.5L615.8 15.2L613.8 15.8L611.8 16.4L609.8 17.1L607.8 17.7L605.8 18.4L603.8 19.0L601.8 19.7L599.8 20.3L597.8 21.0L595.8 21.7L593.8 22.3L591.8 23.0L589.8 23.7L587.8 24.4L585.8 25.1L583.8 25.8L581.8 26.5L579.8 27.2L577.8 28.0L575.8 28.7L573.8 29.4L571.8 30.2L569.8 30.9L567.8 31.6L565.8 32.4L563.8 33.2L561.8 33.9L559.8 34.7L557.8 35.5L555.8 36.2L553.9 37.0L552.0 37.7L550.1 38.5L548.3 39.2L546.2 40.1L544.2 40.9L542.2 41.7L540.4 42.5L538.5 43.3L536.5 44.1L534.5 45.0L532.5 45.8L530.5 46.7L528.5 47.6L526.5 48.5L524.5 49.4L522.5 50.2L520.5 51.2L518.7 52.0L516.8 52.9L514.9 53.8L513.0 54.6L511.2 55.5L509.2 56.4L507.2 57.4L505.4 58.2L503.5 59.2L501.5 60.2L499.5 61.2L497.5 62.2L495.5 63.2L493.5 64.2L491.5 65.2L489.6 66.2L487.8 67.2L485.8 68.2L484.0 69.2L482.1 70.2L480.3 71.2L478.5 72.2L476.8 73.2L475.0 74.2L473.2 75.2L471.5 76.2L469.8 77.2L468.0 78.2L466.2 79.3L464.5 80.3L462.8 81.4L461.0 82.5L459.2 83.5L457.5 84.6L455.8 85.7L454.0 86.8L452.2 88.0L450.5 89.1L448.8 90.2L447.0 91.4L445.2 92.6L443.6 93.8L441.8 95.0L440.0 96.2L438.2 97.5L436.5 98.7L434.8 100.0L433.1 101.2L431.4 102.5L429.8 103.7L428.1 105.0L426.5 106.2L424.9 107.5L423.4 108.8L421.8 110.1L420.0 111.5L418.2 113.0L416.5 114.5L414.8 116.0L413.2 117.3L411.8 118.7L410.3 120.0L408.8 121.4L407.2 122.8L405.8 124.2L404.2 125.7L403.0 127.0"/>
<path d="M403.0 277.5L404.8 278.9L406.4 280.2L407.9 281.5L409.6 282.8L411.2 284.0L412.9 285.2L414.6 286.5L416.4 287.8L418.2 289.0L419.7 290.0"/>
<path d="M531.7 4.0L529.8 4.7L527.8 5.4L525.8 6.1L523.8 6.9L521.8 7.6L519.8 8.3L517.8 9.1L515.8 9.8L513.8 10.6L511.8 11.3L509.8 12.1L507.8 12.8L505.8 13.6L503.8 14.4L501.8 15.2L499.8 15.9L497.8 16.7L495.8 17.5L493.9 18.2L492.1 19.0L490.0 19.8L488.0 20.7L486.0 21.5L484.0 22.3L482.0 23.1L480.0 24.0L478.0 24.8L476.0 25.7L474.1 26.5L472.2 27.3L470.2 28.2L468.4 29.0L466.5 29.8L464.5 30.7L462.5 31.6L460.5 32.5L458.5 33.4L456.7 34.2L454.8 35.1L452.9 36.0L451.0 36.9L449.2 37.8L447.2 38.7L445.2 39.6L443.4 40.5L441.5 41.4L439.5 42.4L437.5 43.4L435.5 44.4L433.5 45.4L431.5 46.4L429.5 47.4L427.5 48.4L425.5 49.5L423.5 50.5L421.8 51.4L419.8 52.5L417.9 53.5L416.0 54.5L414.2 55.5L412.3 56.5L410.5 57.5L408.8 58.5L407.0 59.5L405.2 60.5L403.5 61.5L403.0 61.8"/>
<path d="M436.1 4.0L434.2 4.8L432.2 5.6L430.2 6.4L428.3 7.2L426.2 8.1L424.2 9.0L422.2 9.8L420.2 10.7L418.4 11.5L416.5 12.3L414.5 13.2L412.5 14.1L410.5 15.0L408.5 15.9L406.6 16.8L404.8 17.6L403.0 18.4"/>
</g></g>
<g stroke="#808080" stroke-width="1">
<line x1="32" y1="4.5" x2="40" y2="4.5"/>
<line x1="32" y1="74.5" x2="40" y2="74.5"/>
<line x1="32" y1="145.5" x2="40" y2="145.5"/>
<line x1="32" y1="216.5" x2="40" y2="216.5"/>
<line x1="32" y1="287.5" x2="40" y2="287.5"/>
<line x1="40.5" y1="288" x2="40.5" y2="296"/>
<line x1="111.5" y1="288" x2="111.5" y2="296"/>
<line x1="183.5" y1="288" x2="183.5" y2="296"/>
<line x1="254.5" y1="288" x2="254.5" y2="296"/>
<line x1="326.5" y1="288" x2="326.5" y2="296"/>
<line x1="394" y1="4.5" x2="403" y2="4.5"/>
<line x1="394" y1="75.5" x2="403" y2="75.5"/>
<line x1="394" y1="146.5" x2="403" y2="146.5"/>
<line x1="394" y1="218.5" x2="403" y2="218.5"/>
<line x1="394" y1="289.5" x2="403" y2="289.5"/>
<line x1="403.5" y1="290" x2="403.5" y2="298"/>
<line x1="478.5" y1="290" x2="478.5" y2="298"/>
<line x1="553.5" y1="290" x2="553.5" y2="298"/>
<line x1="628.5" y1="290" x2="628.5" y2="298"/>
<line x1="703.5" y1="290" x2="703.5" y2="298"/>
</g>
<g font-family="Liberation Serif" font-size="12.0" fill="#1a1a1a">
<text x="29.2" y="7.50" text-anchor="end">90</text>
<text x="29.2" y="78.35" text-anchor="end">75</text>
<text x="29.2" y="149.20" text-anchor="end">60</text>
<text x="29.2" y="220.05" text-anchor="end">45</text>
<text x="29.2" y="290.90" text-anchor="end">30</text>
<text x="40.30" y="308.4" text-anchor="middle">5</text>
<text x="111.75" y="308.4" text-anchor="middle">6</text>
<text x="183.20" y="308.4" text-anchor="middle">7</text>
<text x="254.65" y="308.4" text-anchor="middle">8</text>
<text x="326.10" y="308.4" text-anchor="middle">9</text>
<text x="391.3" y="8.10" text-anchor="end">0.5</text>
<text x="391.3" y="79.30" text-anchor="end">0.425</text>
<text x="391.3" y="150.45" text-anchor="end">0.35</text>
<text x="391.3" y="221.60" text-anchor="end">0.275</text>
<text x="391.3" y="292.80" text-anchor="end">0.2</text>
<text x="403.40" y="309.6" text-anchor="middle">5</text>
<text x="478.40" y="309.6" text-anchor="middle">6</text>
<text x="553.40" y="309.6" text-anchor="middle">7</text>
<text x="628.40" y="309.6" text-anchor="middle">8</text>
<text x="703.40" y="309.6" text-anchor="middle">9</text>
<text x="183.2" y="334.7" text-anchor="middle" letter-spacing="1.5" style="font-size:11.5px">pH</text>
<text x="553.2" y="331.5" text-anchor="middle" letter-spacing="1.5" style="font-size:11.5px">pH</text>
<text transform="translate(7.6,146.8) rotate(-90)" text-anchor="middle" style="font-size:11.4px">Contact time (min)</text>
<text transform="translate(360,146.2) rotate(-90)" text-anchor="middle" style="font-size:11.1px">Catalyst dose (g/l)</text>
<text x="316" y="334.4" text-anchor="middle" style="font-size:20px">(a)</text>
<text x="693.2" y="334" text-anchor="middle" style="font-size:20px">(b)</text>
</g>
<g fill="#fff" stroke="#a85048" stroke-width="1">
<rect x="108.8" y="29.1" width="15.8" height="12.9"/>
<rect x="142.8" y="97.1" width="15.8" height="12.9"/>
<rect x="218.1" y="153.1" width="15.8" height="12.9"/>
<rect x="306.4" y="241.7" width="15.8" height="12.9"/>
<rect x="458.8" y="15.6" width="15.8" height="12.9"/>
<rect x="506.2" y="40.3" width="15.8" height="12.9"/>
<rect x="496.8" y="115.3" width="15.8" height="12.9"/>
<rect x="598.2" y="164.9" width="15.8" height="12.9"/>
<rect x="404.6" y="271.7" width="15.8" height="12.9"/>
</g>
<g font-family="Liberation Sans" font-size="13.3" fill="#cc2020" stroke="#cc2020" stroke-width="0.05" text-anchor="middle">
<text x="117.5" y="40.6">80</text>
<text x="151.5" y="108.6">75</text>
<text x="226.8" y="164.6">70</text>
<text x="315.0" y="253.2">65</text>
<text x="467.4" y="27.1">85</text>
<text x="514.9" y="51.8">80</text>
<text x="505.4" y="126.8">75</text>
<text x="606.9" y="176.4">70</text>
<text x="413.2" y="283.2">80</text>
</g>
</svg>
</body></html>
